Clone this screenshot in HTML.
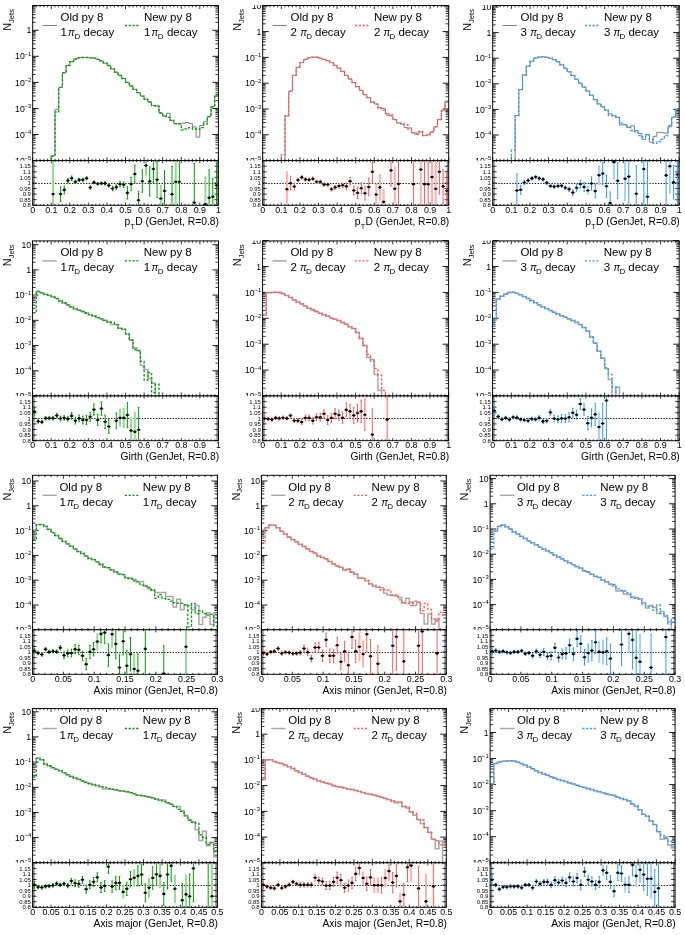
<!DOCTYPE html>
<html><head><meta charset="utf-8"><style>html,body{margin:0;padding:0;background:#fff}svg{display:block;will-change:transform}</style></head>
<body><svg width="685" height="935" viewBox="0 0 685 935" font-family="Liberation Sans, sans-serif" fill="#000">
<defs><clipPath id="cu00"><rect x="32.7" y="5.5" width="185.7" height="155.1"/></clipPath><clipPath id="cl00"><rect x="-7.3" y="5" width="40" height="40"/></clipPath><clipPath id="cu01"><rect x="262.7" y="5.5" width="186" height="155.1"/></clipPath><clipPath id="cl01"><rect x="222.7" y="5" width="40" height="40"/></clipPath><clipPath id="cu02"><rect x="492.7" y="5.5" width="186.5" height="155.1"/></clipPath><clipPath id="cl02"><rect x="452.7" y="5" width="40" height="40"/></clipPath><clipPath id="cu10"><rect x="32.6" y="240.9" width="185.9" height="155.1"/></clipPath><clipPath id="cl10"><rect x="-7.4" y="240.4" width="40" height="40"/></clipPath><clipPath id="cu11"><rect x="262.6" y="240.9" width="186" height="155.1"/></clipPath><clipPath id="cl11"><rect x="222.6" y="240.4" width="40" height="40"/></clipPath><clipPath id="cu12"><rect x="492.6" y="240.9" width="186.6" height="155.1"/></clipPath><clipPath id="cl12"><rect x="452.6" y="240.4" width="40" height="40"/></clipPath><clipPath id="cu20"><rect x="32.6" y="475.3" width="184.8" height="154.5"/></clipPath><clipPath id="cl20"><rect x="-7.4" y="474.8" width="40" height="40"/></clipPath><clipPath id="cu21"><rect x="261.4" y="475.3" width="184.9" height="154.5"/></clipPath><clipPath id="cl21"><rect x="221.4" y="474.8" width="40" height="40"/></clipPath><clipPath id="cu22"><rect x="490.1" y="475.3" width="185" height="154.5"/></clipPath><clipPath id="cl22"><rect x="450.1" y="474.8" width="40" height="40"/></clipPath><clipPath id="cu30"><rect x="32.6" y="708.5" width="184.8" height="154.3"/></clipPath><clipPath id="cl30"><rect x="-7.4" y="708" width="40" height="40"/></clipPath><clipPath id="cu31"><rect x="261.4" y="708.5" width="184.9" height="154.3"/></clipPath><clipPath id="cl31"><rect x="221.4" y="708" width="40" height="40"/></clipPath><clipPath id="cu32"><rect x="490.1" y="708.5" width="185" height="154.3"/></clipPath><clipPath id="cl32"><rect x="450.1" y="708" width="40" height="40"/></clipPath></defs>
<rect width="685" height="935" fill="#fff"/>
<text x="31.3" y="163.7" font-size="8.7" text-anchor="end">10<tspan font-size="5.8" dy="-3.6" dx="-0.3">&#8722;</tspan><tspan font-size="5.8" dx="0.2">5</tspan></text>
<text x="31.3" y="137.6" font-size="8.7" text-anchor="end">10<tspan font-size="5.8" dy="-3.6" dx="-0.3">&#8722;</tspan><tspan font-size="5.8" dx="0.2">4</tspan></text>
<text x="31.3" y="111.6" font-size="8.7" text-anchor="end">10<tspan font-size="5.8" dy="-3.6" dx="-0.3">&#8722;</tspan><tspan font-size="5.8" dx="0.2">3</tspan></text>
<text x="31.3" y="85.5" font-size="8.7" text-anchor="end">10<tspan font-size="5.8" dy="-3.6" dx="-0.3">&#8722;</tspan><tspan font-size="5.8" dx="0.2">2</tspan></text>
<text x="31.3" y="59.4" font-size="8.7" text-anchor="end">10<tspan font-size="5.8" dy="-3.6" dx="-0.3">&#8722;</tspan><tspan font-size="5.8" dx="0.2">1</tspan></text>
<text x="31.3" y="33.4" font-size="8.7" text-anchor="end" >1</text>
<path d="M32.7 160.6h6M218.4 160.6h-6M32.7 134.5h6M218.4 134.5h-6M32.7 108.5h6M218.4 108.5h-6M32.7 82.4h6M218.4 82.4h-6M32.7 56.3h6M218.4 56.3h-6M32.7 30.3h6M218.4 30.3h-6" stroke="#000" stroke-width="0.9" fill="none"/>
<path d="M32.7 152.8h3M218.4 152.8h-3M32.7 148.2h3M218.4 148.2h-3M32.7 144.9h3M218.4 144.9h-3M32.7 142.4h3M218.4 142.4h-3M32.7 140.3h3M218.4 140.3h-3M32.7 138.6h3M218.4 138.6h-3M32.7 137.1h3M218.4 137.1h-3M32.7 135.7h3M218.4 135.7h-3M32.7 126.7h3M218.4 126.7h-3M32.7 122.1h3M218.4 122.1h-3M32.7 118.8h3M218.4 118.8h-3M32.7 116.3h3M218.4 116.3h-3M32.7 114.2h3M218.4 114.2h-3M32.7 112.5h3M218.4 112.5h-3M32.7 111h3M218.4 111h-3M32.7 109.7h3M218.4 109.7h-3M32.7 100.6h3M218.4 100.6h-3M32.7 96h3M218.4 96h-3M32.7 92.8h3M218.4 92.8h-3M32.7 90.2h3M218.4 90.2h-3M32.7 88.2h3M218.4 88.2h-3M32.7 86.4h3M218.4 86.4h-3M32.7 84.9h3M218.4 84.9h-3M32.7 83.6h3M218.4 83.6h-3M32.7 74.6h3M218.4 74.6h-3M32.7 70h3M218.4 70h-3M32.7 66.7h3M218.4 66.7h-3M32.7 64.2h3M218.4 64.2h-3M32.7 62.1h3M218.4 62.1h-3M32.7 60.4h3M218.4 60.4h-3M32.7 58.9h3M218.4 58.9h-3M32.7 57.5h3M218.4 57.5h-3M32.7 48.5h3M218.4 48.5h-3M32.7 43.9h3M218.4 43.9h-3M32.7 40.6h3M218.4 40.6h-3M32.7 38.1h3M218.4 38.1h-3M32.7 36h3M218.4 36h-3M32.7 34.3h3M218.4 34.3h-3M32.7 32.8h3M218.4 32.8h-3M32.7 31.5h3M218.4 31.5h-3M32.7 22.4h3M218.4 22.4h-3M32.7 17.8h3M218.4 17.8h-3M32.7 14.6h3M218.4 14.6h-3M32.7 12h3M218.4 12h-3M32.7 10h3M218.4 10h-3M32.7 8.2h3M218.4 8.2h-3M32.7 6.7h3M218.4 6.7h-3M32.7 5.5v3.5M32.7 160.6v-3.5M36.4 5.5v1.8M36.4 160.6v-1.8M40.1 5.5v1.8M40.1 160.6v-1.8M43.8 5.5v1.8M43.8 160.6v-1.8M47.6 5.5v1.8M47.6 160.6v-1.8M51.3 5.5v3.5M51.3 160.6v-3.5M55 5.5v1.8M55 160.6v-1.8M58.7 5.5v1.8M58.7 160.6v-1.8M62.4 5.5v1.8M62.4 160.6v-1.8M66.1 5.5v1.8M66.1 160.6v-1.8M69.8 5.5v3.5M69.8 160.6v-3.5M73.6 5.5v1.8M73.6 160.6v-1.8M77.3 5.5v1.8M77.3 160.6v-1.8M81 5.5v1.8M81 160.6v-1.8M84.7 5.5v1.8M84.7 160.6v-1.8M88.4 5.5v3.5M88.4 160.6v-3.5M92.1 5.5v1.8M92.1 160.6v-1.8M95.8 5.5v1.8M95.8 160.6v-1.8M99.6 5.5v1.8M99.6 160.6v-1.8M103.3 5.5v1.8M103.3 160.6v-1.8M107 5.5v3.5M107 160.6v-3.5M110.7 5.5v1.8M110.7 160.6v-1.8M114.4 5.5v1.8M114.4 160.6v-1.8M118.1 5.5v1.8M118.1 160.6v-1.8M121.8 5.5v1.8M121.8 160.6v-1.8M125.5 5.5v3.5M125.5 160.6v-3.5M129.3 5.5v1.8M129.3 160.6v-1.8M133 5.5v1.8M133 160.6v-1.8M136.7 5.5v1.8M136.7 160.6v-1.8M140.4 5.5v1.8M140.4 160.6v-1.8M144.1 5.5v3.5M144.1 160.6v-3.5M147.8 5.5v1.8M147.8 160.6v-1.8M151.5 5.5v1.8M151.5 160.6v-1.8M155.3 5.5v1.8M155.3 160.6v-1.8M159 5.5v1.8M159 160.6v-1.8M162.7 5.5v3.5M162.7 160.6v-3.5M166.4 5.5v1.8M166.4 160.6v-1.8M170.1 5.5v1.8M170.1 160.6v-1.8M173.8 5.5v1.8M173.8 160.6v-1.8M177.5 5.5v1.8M177.5 160.6v-1.8M181.3 5.5v3.5M181.3 160.6v-3.5M185 5.5v1.8M185 160.6v-1.8M188.7 5.5v1.8M188.7 160.6v-1.8M192.4 5.5v1.8M192.4 160.6v-1.8M196.1 5.5v1.8M196.1 160.6v-1.8M199.8 5.5v3.5M199.8 160.6v-3.5M203.5 5.5v1.8M203.5 160.6v-1.8M207.3 5.5v1.8M207.3 160.6v-1.8M211 5.5v1.8M211 160.6v-1.8M214.7 5.5v1.8M214.7 160.6v-1.8M218.4 5.5v3.5M218.4 160.6v-3.5" stroke="#000" stroke-width="0.8" fill="none"/>
<path d="M32.7,163.6L36.4,163.6L36.4,163.6L40.1,163.6L40.1,163.6L43.8,163.6L43.8,163.6L47.6,163.6L47.6,163.6L51.3,163.6L51.3,156L55,156L55,109.3L58.7,109.3L58.7,87.4L62.4,87.4L62.4,72.8L66.1,72.8L66.1,65.5L69.8,65.5L69.8,61.6L73.6,61.6L73.6,59L77.3,59L77.3,57.8L81,57.8L81,57.5L84.7,57.5L84.7,57.5L88.4,57.5L88.4,57.8L92.1,57.8L92.1,58.2L95.8,58.2L95.8,59.3L99.6,59.3L99.6,60.9L103.3,60.9L103.3,63.1L107,63.1L107,65.5L110.7,65.5L110.7,68.8L114.4,68.8L114.4,72.1L118.1,72.1L118.1,75.5L121.8,75.5L121.8,78.5L125.5,78.5L125.5,82.3L129.3,82.3L129.3,86L133,86L133,89.3L136.7,89.3L136.7,92.6L140.4,92.6L140.4,96.2L144.1,96.2L144.1,99.1L147.8,99.1L147.8,102L151.5,102L151.5,105.7L155.3,105.7L155.3,106L159,106L159,113L162.7,113L162.7,116.2L166.4,116.2L166.4,113.3L170.1,113.3L170.1,120.3L173.8,120.3L173.8,123.6L177.5,123.6L177.5,123.9L181.3,123.9L181.3,123.2L185,123.2L185,122.5L188.7,122.5L188.7,123.5L192.4,123.5L192.4,126.9L196.1,126.9L196.1,137.1L199.8,137.1L199.8,125.4L203.5,125.4L203.5,121.8L207.3,121.8L207.3,116.6L211,116.6L211,106.4L214.7,106.4L214.7,96.2L218.4,96.2" fill="none" stroke="#808080" stroke-width="1.0"  clip-path="url(#cu00)"/>
<path d="M32.7,163.6L36.4,163.6L36.4,163.6L40.1,163.6L40.1,163.6L43.8,163.6L43.8,163.6L47.6,163.6L47.6,163.6L51.3,163.6L51.3,156L55,156L55,112L58.7,112L58.7,87.4L62.4,87.4L62.4,72.8L66.1,72.8L66.1,65.5L69.8,65.5L69.8,61.6L73.6,61.6L73.6,59L77.3,59L77.3,57.8L81,57.8L81,57.5L84.7,57.5L84.7,57.5L88.4,57.5L88.4,57.8L92.1,57.8L92.1,58.2L95.8,58.2L95.8,59.3L99.6,59.3L99.6,60.9L103.3,60.9L103.3,63.1L107,63.1L107,65.5L110.7,65.5L110.7,68.8L114.4,68.8L114.4,72.1L118.1,72.1L118.1,75.5L121.8,75.5L121.8,78.5L125.5,78.5L125.5,82.3L129.3,82.3L129.3,86L133,86L133,89.3L136.7,89.3L136.7,92.6L140.4,92.6L140.4,96.2L144.1,96.2L144.1,99.1L147.8,99.1L147.8,102L151.5,102L151.5,105.7L155.3,105.7L155.3,106L159,106L159,113L162.7,113L162.7,116.2L166.4,116.2L166.4,117.4L170.1,117.4L170.1,120.3L173.8,120.3L173.8,123.6L177.5,123.6L177.5,123.9L181.3,123.9L181.3,129.8L185,129.8L185,128.8L188.7,128.8L188.7,127.6L192.4,127.6L192.4,129L196.1,129L196.1,129.3L199.8,129.3L199.8,127.6L203.5,127.6L203.5,124L207.3,124L207.3,116.6L211,116.6L211,107L214.7,107L214.7,94.7L218.4,94.7" fill="none" stroke="#00a000" stroke-width="1.3" stroke-dasharray="2.6 1.7" clip-path="url(#cu00)"/>
<rect x="32.7" y="5.5" width="185.7" height="155.1" fill="none" stroke="#000" stroke-width="0.95"/>
<text x="60.5" y="20.7" font-size="11.5" text-anchor="start" >Old py 8</text>
<line x1="124.9" y1="25.5" x2="140.1" y2="25.5" stroke="#00a000" stroke-width="1.3" stroke-dasharray="2.2 1.6"/>
<text x="143.9" y="20.7" font-size="11.5" text-anchor="start" >New py 8</text>
<text x="60.5" y="35.7" font-size="11.5">1</text>
<text x="68.1" y="35.7" font-size="10" font-style="italic">&#960;</text>
<text x="74.4" y="38.9" font-size="8">D</text>
<text x="83.5" y="35.7" font-size="11.5">decay</text>
<text x="143.9" y="35.7" font-size="11.5">1</text>
<text x="151.5" y="35.7" font-size="10" font-style="italic">&#960;</text>
<text x="157.8" y="38.9" font-size="8">D</text>
<text x="166.9" y="35.7" font-size="11.5">decay</text>
<text transform="translate(11,30.8) rotate(-90)" font-size="10.9">N<tspan font-size="7.6" dy="2.6">Jets</tspan></text>
<path d="M42.5 25.5h14.4" stroke="#808080" stroke-width="1.0" fill="none"/>
<rect x="-7.3" y="160.6" width="230.7" height="45.3" fill="#fff"/>
<text x="30.9" y="207.4" font-size="5.9" text-anchor="end" >0.8</text>
<text x="30.9" y="201.8" font-size="5.9" text-anchor="end" >0.85</text>
<text x="30.9" y="196.2" font-size="5.9" text-anchor="end" >0.9</text>
<text x="30.9" y="190.6" font-size="5.9" text-anchor="end" >0.95</text>
<text x="30.9" y="185.1" font-size="5.9" text-anchor="end" >1</text>
<text x="30.9" y="179.5" font-size="5.9" text-anchor="end" >1.05</text>
<text x="30.9" y="173.9" font-size="5.9" text-anchor="end" >1.1</text>
<text x="30.9" y="168.3" font-size="5.9" text-anchor="end" >1.15</text>
<path d="M34 160.6V205.3M217.1 160.6V205.3" stroke="#8a8a8a" stroke-width="1.6" fill="none"/>
<text x="32.7" y="212.6" font-size="8.9" text-anchor="middle" >0</text>
<text x="51.3" y="212.6" font-size="8.9" text-anchor="middle" >0.1</text>
<text x="69.8" y="212.6" font-size="8.9" text-anchor="middle" >0.2</text>
<text x="88.4" y="212.6" font-size="8.9" text-anchor="middle" >0.3</text>
<text x="107" y="212.6" font-size="8.9" text-anchor="middle" >0.4</text>
<text x="125.5" y="212.6" font-size="8.9" text-anchor="middle" >0.5</text>
<text x="144.1" y="212.6" font-size="8.9" text-anchor="middle" >0.6</text>
<text x="162.7" y="212.6" font-size="8.9" text-anchor="middle" >0.7</text>
<text x="181.3" y="212.6" font-size="8.9" text-anchor="middle" >0.8</text>
<text x="199.8" y="212.6" font-size="8.9" text-anchor="middle" >0.9</text>
<text x="218.4" y="212.6" font-size="8.9" text-anchor="middle" >1</text>
<line x1="32.7" y1="183.5" x2="218.4" y2="183.5" stroke="#000" stroke-width="0.9" stroke-dasharray="1.4 1.4"/>
<path d="M32.7 205.3h4M218.4 205.3h-4M32.7 199.7h4M218.4 199.7h-4M32.7 194.1h4M218.4 194.1h-4M32.7 188.5h4M218.4 188.5h-4M32.7 183h4M218.4 183h-4M32.7 177.4h4M218.4 177.4h-4M32.7 171.8h4M218.4 171.8h-4M32.7 166.2h4M218.4 166.2h-4M32.7 160.6h4M218.4 160.6h-4M32.7 160.6v2.6M32.7 205.3v-2.6M36.4 160.6v1.4M36.4 205.3v-1.4M40.1 160.6v1.4M40.1 205.3v-1.4M43.8 160.6v1.4M43.8 205.3v-1.4M47.6 160.6v1.4M47.6 205.3v-1.4M51.3 160.6v2.6M51.3 205.3v-2.6M55 160.6v1.4M55 205.3v-1.4M58.7 160.6v1.4M58.7 205.3v-1.4M62.4 160.6v1.4M62.4 205.3v-1.4M66.1 160.6v1.4M66.1 205.3v-1.4M69.8 160.6v2.6M69.8 205.3v-2.6M73.6 160.6v1.4M73.6 205.3v-1.4M77.3 160.6v1.4M77.3 205.3v-1.4M81 160.6v1.4M81 205.3v-1.4M84.7 160.6v1.4M84.7 205.3v-1.4M88.4 160.6v2.6M88.4 205.3v-2.6M92.1 160.6v1.4M92.1 205.3v-1.4M95.8 160.6v1.4M95.8 205.3v-1.4M99.6 160.6v1.4M99.6 205.3v-1.4M103.3 160.6v1.4M103.3 205.3v-1.4M107 160.6v2.6M107 205.3v-2.6M110.7 160.6v1.4M110.7 205.3v-1.4M114.4 160.6v1.4M114.4 205.3v-1.4M118.1 160.6v1.4M118.1 205.3v-1.4M121.8 160.6v1.4M121.8 205.3v-1.4M125.5 160.6v2.6M125.5 205.3v-2.6M129.3 160.6v1.4M129.3 205.3v-1.4M133 160.6v1.4M133 205.3v-1.4M136.7 160.6v1.4M136.7 205.3v-1.4M140.4 160.6v1.4M140.4 205.3v-1.4M144.1 160.6v2.6M144.1 205.3v-2.6M147.8 160.6v1.4M147.8 205.3v-1.4M151.5 160.6v1.4M151.5 205.3v-1.4M155.3 160.6v1.4M155.3 205.3v-1.4M159 160.6v1.4M159 205.3v-1.4M162.7 160.6v2.6M162.7 205.3v-2.6M166.4 160.6v1.4M166.4 205.3v-1.4M170.1 160.6v1.4M170.1 205.3v-1.4M173.8 160.6v1.4M173.8 205.3v-1.4M177.5 160.6v1.4M177.5 205.3v-1.4M181.3 160.6v2.6M181.3 205.3v-2.6M185 160.6v1.4M185 205.3v-1.4M188.7 160.6v1.4M188.7 205.3v-1.4M192.4 160.6v1.4M192.4 205.3v-1.4M196.1 160.6v1.4M196.1 205.3v-1.4M199.8 160.6v2.6M199.8 205.3v-2.6M203.5 160.6v1.4M203.5 205.3v-1.4M207.3 160.6v1.4M207.3 205.3v-1.4M211 160.6v1.4M211 205.3v-1.4M214.7 160.6v1.4M214.7 205.3v-1.4M218.4 160.6v2.6M218.4 205.3v-2.6" stroke="#000" stroke-width="0.8" fill="none"/>
<path d="M53.1 161.2V204.7M146 161.2V175.6M160.8 185.1V204.7M175.7 161.2V204.7M205.4 176.2V204.7" stroke="#9ad89a" stroke-width="2" fill="none"/>
<path d="M60.6 186.9V201.4M59.8 186.9h1.6M59.8 201.4h1.6M64.3 186V193.8M63.5 186h1.6M63.5 193.8h1.6M68 178.4V182.8M67.2 178.4h1.6M67.2 182.8h1.6M71.7 176V180.5M70.9 176h1.6M70.9 180.5h1.6M75.4 180.3V183.6M74.6 180.3h1.6M74.6 183.6h1.6M79.1 178.3V181.6M78.3 178.3h1.6M78.3 181.6h1.6M82.8 178.3V181.6M82 178.3h1.6M82 181.6h1.6M86.6 176.6V179.9M85.8 176.6h1.6M85.8 179.9h1.6M90.3 185.9V189.2M89.5 185.9h1.6M89.5 189.2h1.6M94 181.1V183.7M93.2 181.1h1.6M93.2 183.7h1.6M97.7 182.4V185.1M96.9 182.4h1.6M96.9 185.1h1.6M101.4 182.1V184.7M100.6 182.1h1.6M100.6 184.7h1.6M105.1 181.7V185.1M104.3 181.7h1.6M104.3 185.1h1.6M108.8 183.7V187.1M108 183.7h1.6M108 187.1h1.6M112.6 186.3V190.8M111.8 186.3h1.6M111.8 190.8h1.6M116.3 184.8V189.3M115.5 184.8h1.6M115.5 189.3h1.6M120 181.3V186.9M119.2 181.3h1.6M119.2 186.9h1.6M123.7 181.9V187.5M122.9 181.9h1.6M122.9 187.5h1.6M127.4 186.7V199M126.6 186.7h1.6M126.6 199h1.6M131.1 177.3V190.7M130.3 177.3h1.6M130.3 190.7h1.6M134.8 165.1V183M134 165.1h1.6M134 183h1.6M138.5 191.3V204.7M137.7 191.3h1.6M142.3 170V192.3M141.5 170h1.6M141.5 192.3h1.6M149.7 166.9V195.9M148.9 166.9h1.6M148.9 195.9h1.6M153.4 161.2V182.4M152.6 182.4h1.6M157.1 161.8V197.6M156.3 161.8h1.6M156.3 197.6h1.6M164.5 170.8V204.7M163.7 170.8h1.6M172 166.4V204.7M171.2 166.4h1.6M179.4 161.2V204.7M194.3 163.5V204.7M193.5 163.5h1.6M209.1 169.9V204.7M208.3 169.9h1.6M212.8 178.8V204.7M212 178.8h1.6M216.5 162.9V204.7M215.7 162.9h1.6" stroke="#00a000" stroke-width="1" fill="none"/>
<path d="M51.3 194.1h3.7M58.7 194.1h3.7M62.4 189.9h3.7M66.1 180.6h3.7M69.8 178.3h3.7M73.6 181.9h3.7M77.3 179.9h3.7M81 179.9h3.7M84.7 178.3h3.7M88.4 187.5h3.7M92.1 182.4h3.7M95.8 183.7h3.7M99.6 183.4h3.7M103.3 183.4h3.7M107 185.4h3.7M110.7 188.5h3.7M114.4 187.1h3.7M118.1 184.1h3.7M121.8 184.7h3.7M125.5 192.9h3.7M129.3 184h3.7M133 174h3.7M136.7 200.3h3.7M140.4 181.2h3.7M144.1 165.5h3.7M147.8 181.4h3.7M151.5 169h3.7M155.3 179.7h3.7M159 198.5h3.7M162.7 190.9h3.7M170.1 194.3h3.7M173.8 181.8h3.7M177.5 181.8h3.7M192.4 202.6h3.7M203.5 204.2h3.7M207.3 197.8h3.7M211 196.7h3.7M214.7 185.3h3.7" stroke="#000" stroke-width="0.9" fill="none"/>
<circle cx="53.1" cy="194.1" r="1.3"/>
<circle cx="60.6" cy="194.1" r="1.3"/>
<circle cx="64.3" cy="189.9" r="1.3"/>
<circle cx="68" cy="180.6" r="1.3"/>
<circle cx="71.7" cy="178.3" r="1.3"/>
<circle cx="75.4" cy="181.9" r="1.3"/>
<circle cx="79.1" cy="179.9" r="1.3"/>
<circle cx="82.8" cy="179.9" r="1.3"/>
<circle cx="86.6" cy="178.3" r="1.3"/>
<circle cx="90.3" cy="187.5" r="1.3"/>
<circle cx="94" cy="182.4" r="1.3"/>
<circle cx="97.7" cy="183.7" r="1.3"/>
<circle cx="101.4" cy="183.4" r="1.3"/>
<circle cx="105.1" cy="183.4" r="1.3"/>
<circle cx="108.8" cy="185.4" r="1.3"/>
<circle cx="112.6" cy="188.5" r="1.3"/>
<circle cx="116.3" cy="187.1" r="1.3"/>
<circle cx="120" cy="184.1" r="1.3"/>
<circle cx="123.7" cy="184.7" r="1.3"/>
<circle cx="127.4" cy="192.9" r="1.3"/>
<circle cx="131.1" cy="184" r="1.3"/>
<circle cx="134.8" cy="174" r="1.3"/>
<circle cx="138.5" cy="200.3" r="1.3"/>
<circle cx="142.3" cy="181.2" r="1.3"/>
<circle cx="146" cy="165.5" r="1.3"/>
<circle cx="149.7" cy="181.4" r="1.3"/>
<circle cx="153.4" cy="169" r="1.3"/>
<circle cx="157.1" cy="179.7" r="1.3"/>
<circle cx="160.8" cy="198.5" r="1.3"/>
<circle cx="164.5" cy="190.9" r="1.3"/>
<circle cx="172" cy="194.3" r="1.3"/>
<circle cx="175.7" cy="181.8" r="1.3"/>
<circle cx="179.4" cy="181.8" r="1.3"/>
<circle cx="194.3" cy="202.6" r="1.3"/>
<circle cx="205.4" cy="204.2" r="1.3"/>
<circle cx="209.1" cy="197.8" r="1.3"/>
<circle cx="212.8" cy="196.7" r="1.3"/>
<circle cx="216.5" cy="185.3" r="1.3"/>
<rect x="32.7" y="160.6" width="185.7" height="44.7" fill="none" stroke="#000" stroke-width="0.95"/>
<text x="219" y="224.6" font-size="10.3" text-anchor="end">D (GenJet, R=0.8)</text>
<text x="134.8" y="229.2" font-size="7.2" text-anchor="end">T</text>
<text x="130.2" y="224.6" font-size="10.3" text-anchor="end">p</text>
<text x="261.3" y="163.7" font-size="8.7" text-anchor="end">10<tspan font-size="5.8" dy="-3.6" dx="-0.3">&#8722;</tspan><tspan font-size="5.8" dx="0.2">5</tspan></text>
<text x="261.3" y="137.9" font-size="8.7" text-anchor="end">10<tspan font-size="5.8" dy="-3.6" dx="-0.3">&#8722;</tspan><tspan font-size="5.8" dx="0.2">4</tspan></text>
<text x="261.3" y="112.1" font-size="8.7" text-anchor="end">10<tspan font-size="5.8" dy="-3.6" dx="-0.3">&#8722;</tspan><tspan font-size="5.8" dx="0.2">3</tspan></text>
<text x="261.3" y="86.3" font-size="8.7" text-anchor="end">10<tspan font-size="5.8" dy="-3.6" dx="-0.3">&#8722;</tspan><tspan font-size="5.8" dx="0.2">2</tspan></text>
<text x="261.3" y="60.5" font-size="8.7" text-anchor="end">10<tspan font-size="5.8" dy="-3.6" dx="-0.3">&#8722;</tspan><tspan font-size="5.8" dx="0.2">1</tspan></text>
<text x="261.3" y="34.7" font-size="8.7" text-anchor="end" >1</text>
<text x="261.3" y="8.9" font-size="8.7" text-anchor="end" clip-path="url(#cl01)">10</text>
<path d="M262.7 160.6h6M448.7 160.6h-6M262.7 134.8h6M448.7 134.8h-6M262.7 109h6M448.7 109h-6M262.7 83.2h6M448.7 83.2h-6M262.7 57.4h6M448.7 57.4h-6M262.7 31.6h6M448.7 31.6h-6M262.7 5.8h6M448.7 5.8h-6" stroke="#000" stroke-width="0.9" fill="none"/>
<path d="M262.7 152.8h3M448.7 152.8h-3M262.7 148.3h3M448.7 148.3h-3M262.7 145.1h3M448.7 145.1h-3M262.7 142.6h3M448.7 142.6h-3M262.7 140.5h3M448.7 140.5h-3M262.7 138.8h3M448.7 138.8h-3M262.7 137.3h3M448.7 137.3h-3M262.7 136h3M448.7 136h-3M262.7 127h3M448.7 127h-3M262.7 122.5h3M448.7 122.5h-3M262.7 119.3h3M448.7 119.3h-3M262.7 116.8h3M448.7 116.8h-3M262.7 114.7h3M448.7 114.7h-3M262.7 113h3M448.7 113h-3M262.7 111.5h3M448.7 111.5h-3M262.7 110.2h3M448.7 110.2h-3M262.7 101.2h3M448.7 101.2h-3M262.7 96.7h3M448.7 96.7h-3M262.7 93.4h3M448.7 93.4h-3M262.7 90.9h3M448.7 90.9h-3M262.7 88.9h3M448.7 88.9h-3M262.7 87.2h3M448.7 87.2h-3M262.7 85.7h3M448.7 85.7h-3M262.7 84.4h3M448.7 84.4h-3M262.7 75.4h3M448.7 75.4h-3M262.7 70.9h3M448.7 70.9h-3M262.7 67.6h3M448.7 67.6h-3M262.7 65.1h3M448.7 65.1h-3M262.7 63.1h3M448.7 63.1h-3M262.7 61.4h3M448.7 61.4h-3M262.7 59.9h3M448.7 59.9h-3M262.7 58.6h3M448.7 58.6h-3M262.7 49.6h3M448.7 49.6h-3M262.7 45.1h3M448.7 45.1h-3M262.7 41.8h3M448.7 41.8h-3M262.7 39.3h3M448.7 39.3h-3M262.7 37.3h3M448.7 37.3h-3M262.7 35.6h3M448.7 35.6h-3M262.7 34.1h3M448.7 34.1h-3M262.7 32.7h3M448.7 32.7h-3M262.7 23.8h3M448.7 23.8h-3M262.7 19.3h3M448.7 19.3h-3M262.7 16h3M448.7 16h-3M262.7 13.5h3M448.7 13.5h-3M262.7 11.5h3M448.7 11.5h-3M262.7 9.8h3M448.7 9.8h-3M262.7 8.3h3M448.7 8.3h-3M262.7 6.9h3M448.7 6.9h-3M262.7 5.5v3.5M262.7 160.6v-3.5M266.4 5.5v1.8M266.4 160.6v-1.8M270.1 5.5v1.8M270.1 160.6v-1.8M273.9 5.5v1.8M273.9 160.6v-1.8M277.6 5.5v1.8M277.6 160.6v-1.8M281.3 5.5v3.5M281.3 160.6v-3.5M285 5.5v1.8M285 160.6v-1.8M288.7 5.5v1.8M288.7 160.6v-1.8M292.5 5.5v1.8M292.5 160.6v-1.8M296.2 5.5v1.8M296.2 160.6v-1.8M299.9 5.5v3.5M299.9 160.6v-3.5M303.6 5.5v1.8M303.6 160.6v-1.8M307.3 5.5v1.8M307.3 160.6v-1.8M311.1 5.5v1.8M311.1 160.6v-1.8M314.8 5.5v1.8M314.8 160.6v-1.8M318.5 5.5v3.5M318.5 160.6v-3.5M322.2 5.5v1.8M322.2 160.6v-1.8M325.9 5.5v1.8M325.9 160.6v-1.8M329.7 5.5v1.8M329.7 160.6v-1.8M333.4 5.5v1.8M333.4 160.6v-1.8M337.1 5.5v3.5M337.1 160.6v-3.5M340.8 5.5v1.8M340.8 160.6v-1.8M344.5 5.5v1.8M344.5 160.6v-1.8M348.3 5.5v1.8M348.3 160.6v-1.8M352 5.5v1.8M352 160.6v-1.8M355.7 5.5v3.5M355.7 160.6v-3.5M359.4 5.5v1.8M359.4 160.6v-1.8M363.1 5.5v1.8M363.1 160.6v-1.8M366.9 5.5v1.8M366.9 160.6v-1.8M370.6 5.5v1.8M370.6 160.6v-1.8M374.3 5.5v3.5M374.3 160.6v-3.5M378 5.5v1.8M378 160.6v-1.8M381.7 5.5v1.8M381.7 160.6v-1.8M385.5 5.5v1.8M385.5 160.6v-1.8M389.2 5.5v1.8M389.2 160.6v-1.8M392.9 5.5v3.5M392.9 160.6v-3.5M396.6 5.5v1.8M396.6 160.6v-1.8M400.3 5.5v1.8M400.3 160.6v-1.8M404.1 5.5v1.8M404.1 160.6v-1.8M407.8 5.5v1.8M407.8 160.6v-1.8M411.5 5.5v3.5M411.5 160.6v-3.5M415.2 5.5v1.8M415.2 160.6v-1.8M418.9 5.5v1.8M418.9 160.6v-1.8M422.7 5.5v1.8M422.7 160.6v-1.8M426.4 5.5v1.8M426.4 160.6v-1.8M430.1 5.5v3.5M430.1 160.6v-3.5M433.8 5.5v1.8M433.8 160.6v-1.8M437.5 5.5v1.8M437.5 160.6v-1.8M441.3 5.5v1.8M441.3 160.6v-1.8M445 5.5v1.8M445 160.6v-1.8M448.7 5.5v3.5M448.7 160.6v-3.5" stroke="#000" stroke-width="0.8" fill="none"/>
<path d="M262.7,163.6L266.4,163.6L266.4,163.6L270.1,163.6L270.1,163.6L273.9,163.6L273.9,163.6L277.6,163.6L277.6,163.6L281.3,163.6L281.3,163.6L285,163.6L285,115.9L288.7,115.9L288.7,91.1L292.5,91.1L292.5,75.3L296.2,75.3L296.2,67.4L299.9,67.4L299.9,62.6L303.6,62.6L303.6,59.4L307.3,59.4L307.3,57.8L311.1,57.8L311.1,57.2L314.8,57.2L314.8,57.2L318.5,57.2L318.5,58.2L322.2,58.2L322.2,59.3L325.9,59.3L325.9,60.7L329.7,60.7L329.7,62.6L333.4,62.6L333.4,65.3L337.1,65.3L337.1,68.2L340.8,68.2L340.8,71.4L344.5,71.4L344.5,75.3L348.3,75.3L348.3,79.1L352,79.1L352,82.6L355.7,82.6L355.7,86.6L359.4,86.6L359.4,90.4L363.1,90.4L363.1,94.7L366.9,94.7L366.9,97.7L370.6,97.7L370.6,102L374.3,102L374.3,104L378,104L378,107.6L381.7,107.6L381.7,108.6L385.5,108.6L385.5,113.7L389.2,113.7L389.2,115.9L392.9,115.9L392.9,119.6L396.6,119.6L396.6,122.9L400.3,122.9L400.3,124.2L404.1,124.2L404.1,127.6L407.8,127.6L407.8,127.9L411.5,127.9L411.5,132.7L415.2,132.7L415.2,134.6L418.9,134.6L418.9,132L422.7,132L422.7,135.6L426.4,135.6L426.4,134.9L430.1,134.9L430.1,132L433.8,132L433.8,126.9L437.5,126.9L437.5,119.6L441.3,119.6L441.3,110.1L445,110.1L445,102L448.7,102" fill="none" stroke="#808080" stroke-width="1.0"  clip-path="url(#cu01)"/>
<path d="M262.7,163.6L266.4,163.6L266.4,163.6L270.1,163.6L270.1,163.6L273.9,163.6L273.9,163.6L277.6,163.6L277.6,163.6L281.3,163.6L281.3,154.6L285,154.6L285,115.9L288.7,115.9L288.7,91.1L292.5,91.1L292.5,75.3L296.2,75.3L296.2,67.4L299.9,67.4L299.9,62.6L303.6,62.6L303.6,59.4L307.3,59.4L307.3,57.8L311.1,57.8L311.1,57.2L314.8,57.2L314.8,57.2L318.5,57.2L318.5,58.2L322.2,58.2L322.2,59.3L325.9,59.3L325.9,60.7L329.7,60.7L329.7,62.6L333.4,62.6L333.4,65.3L337.1,65.3L337.1,68.2L340.8,68.2L340.8,71.4L344.5,71.4L344.5,75.3L348.3,75.3L348.3,79.1L352,79.1L352,82.6L355.7,82.6L355.7,86.6L359.4,86.6L359.4,90.4L363.1,90.4L363.1,94.7L366.9,94.7L366.9,97.7L370.6,97.7L370.6,102L374.3,102L374.3,104.2L378,104.2L378,108.6L381.7,108.6L381.7,110.3L385.5,110.3L385.5,115.2L389.2,115.2L389.2,115L392.9,115L392.9,119.6L396.6,119.6L396.6,122.9L400.3,122.9L400.3,123.2L404.1,123.2L404.1,124.7L407.8,124.7L407.8,129L411.5,129L411.5,132.7L415.2,132.7L415.2,133.2L418.9,133.2L418.9,131.2L422.7,131.2L422.7,135.6L426.4,135.6L426.4,134.9L430.1,134.9L430.1,132L433.8,132L433.8,126.9L437.5,126.9L437.5,119.6L441.3,119.6L441.3,111.2L445,111.2L445,102L448.7,102" fill="none" stroke="#ff5a5a" stroke-width="1.3" stroke-dasharray="2.6 1.7" clip-path="url(#cu01)"/>
<rect x="262.7" y="5.5" width="186" height="155.1" fill="none" stroke="#000" stroke-width="0.95"/>
<text x="290.5" y="20.7" font-size="11.5" text-anchor="start" >Old py 8</text>
<line x1="354.9" y1="25.5" x2="370.1" y2="25.5" stroke="#ff5a5a" stroke-width="1.3" stroke-dasharray="2.2 1.6"/>
<text x="373.9" y="20.7" font-size="11.5" text-anchor="start" >New py 8</text>
<text x="290.5" y="35.7" font-size="11.5">2</text>
<text x="300.2" y="35.7" font-size="10" font-style="italic">&#960;</text>
<text x="306.2" y="38.9" font-size="8">D</text>
<text x="315" y="35.7" font-size="11.5">decay</text>
<text x="373.9" y="35.7" font-size="11.5">2</text>
<text x="383.6" y="35.7" font-size="10" font-style="italic">&#960;</text>
<text x="389.6" y="38.9" font-size="8">D</text>
<text x="398.4" y="35.7" font-size="11.5">decay</text>
<text transform="translate(241,30.8) rotate(-90)" font-size="10.9">N<tspan font-size="7.6" dy="2.6">Jets</tspan></text>
<path d="M272.5 25.5h14.4" stroke="#808080" stroke-width="1.0" fill="none"/>
<rect x="222.7" y="160.6" width="231" height="45.3" fill="#fff"/>
<text x="260.9" y="207.4" font-size="5.9" text-anchor="end" >0.8</text>
<text x="260.9" y="201.8" font-size="5.9" text-anchor="end" >0.85</text>
<text x="260.9" y="196.2" font-size="5.9" text-anchor="end" >0.9</text>
<text x="260.9" y="190.6" font-size="5.9" text-anchor="end" >0.95</text>
<text x="260.9" y="185.1" font-size="5.9" text-anchor="end" >1</text>
<text x="260.9" y="179.5" font-size="5.9" text-anchor="end" >1.05</text>
<text x="260.9" y="173.9" font-size="5.9" text-anchor="end" >1.1</text>
<text x="260.9" y="168.3" font-size="5.9" text-anchor="end" >1.15</text>
<path d="M264 160.6V205.3M447.4 160.6V205.3" stroke="#8a8a8a" stroke-width="1.6" fill="none"/>
<text x="262.7" y="212.6" font-size="8.9" text-anchor="middle" >0</text>
<text x="281.3" y="212.6" font-size="8.9" text-anchor="middle" >0.1</text>
<text x="299.9" y="212.6" font-size="8.9" text-anchor="middle" >0.2</text>
<text x="318.5" y="212.6" font-size="8.9" text-anchor="middle" >0.3</text>
<text x="337.1" y="212.6" font-size="8.9" text-anchor="middle" >0.4</text>
<text x="355.7" y="212.6" font-size="8.9" text-anchor="middle" >0.5</text>
<text x="374.3" y="212.6" font-size="8.9" text-anchor="middle" >0.6</text>
<text x="392.9" y="212.6" font-size="8.9" text-anchor="middle" >0.7</text>
<text x="411.5" y="212.6" font-size="8.9" text-anchor="middle" >0.8</text>
<text x="430.1" y="212.6" font-size="8.9" text-anchor="middle" >0.9</text>
<text x="448.7" y="212.6" font-size="8.9" text-anchor="middle" >1</text>
<line x1="262.7" y1="183.5" x2="448.7" y2="183.5" stroke="#000" stroke-width="0.9" stroke-dasharray="1.4 1.4"/>
<path d="M262.7 205.3h4M448.7 205.3h-4M262.7 199.7h4M448.7 199.7h-4M262.7 194.1h4M448.7 194.1h-4M262.7 188.5h4M448.7 188.5h-4M262.7 183h4M448.7 183h-4M262.7 177.4h4M448.7 177.4h-4M262.7 171.8h4M448.7 171.8h-4M262.7 166.2h4M448.7 166.2h-4M262.7 160.6h4M448.7 160.6h-4M262.7 160.6v2.6M262.7 205.3v-2.6M266.4 160.6v1.4M266.4 205.3v-1.4M270.1 160.6v1.4M270.1 205.3v-1.4M273.9 160.6v1.4M273.9 205.3v-1.4M277.6 160.6v1.4M277.6 205.3v-1.4M281.3 160.6v2.6M281.3 205.3v-2.6M285 160.6v1.4M285 205.3v-1.4M288.7 160.6v1.4M288.7 205.3v-1.4M292.5 160.6v1.4M292.5 205.3v-1.4M296.2 160.6v1.4M296.2 205.3v-1.4M299.9 160.6v2.6M299.9 205.3v-2.6M303.6 160.6v1.4M303.6 205.3v-1.4M307.3 160.6v1.4M307.3 205.3v-1.4M311.1 160.6v1.4M311.1 205.3v-1.4M314.8 160.6v1.4M314.8 205.3v-1.4M318.5 160.6v2.6M318.5 205.3v-2.6M322.2 160.6v1.4M322.2 205.3v-1.4M325.9 160.6v1.4M325.9 205.3v-1.4M329.7 160.6v1.4M329.7 205.3v-1.4M333.4 160.6v1.4M333.4 205.3v-1.4M337.1 160.6v2.6M337.1 205.3v-2.6M340.8 160.6v1.4M340.8 205.3v-1.4M344.5 160.6v1.4M344.5 205.3v-1.4M348.3 160.6v1.4M348.3 205.3v-1.4M352 160.6v1.4M352 205.3v-1.4M355.7 160.6v2.6M355.7 205.3v-2.6M359.4 160.6v1.4M359.4 205.3v-1.4M363.1 160.6v1.4M363.1 205.3v-1.4M366.9 160.6v1.4M366.9 205.3v-1.4M370.6 160.6v1.4M370.6 205.3v-1.4M374.3 160.6v2.6M374.3 205.3v-2.6M378 160.6v1.4M378 205.3v-1.4M381.7 160.6v1.4M381.7 205.3v-1.4M385.5 160.6v1.4M385.5 205.3v-1.4M389.2 160.6v1.4M389.2 205.3v-1.4M392.9 160.6v2.6M392.9 205.3v-2.6M396.6 160.6v1.4M396.6 205.3v-1.4M400.3 160.6v1.4M400.3 205.3v-1.4M404.1 160.6v1.4M404.1 205.3v-1.4M407.8 160.6v1.4M407.8 205.3v-1.4M411.5 160.6v2.6M411.5 205.3v-2.6M415.2 160.6v1.4M415.2 205.3v-1.4M418.9 160.6v1.4M418.9 205.3v-1.4M422.7 160.6v1.4M422.7 205.3v-1.4M426.4 160.6v1.4M426.4 205.3v-1.4M430.1 160.6v2.6M430.1 205.3v-2.6M433.8 160.6v1.4M433.8 205.3v-1.4M437.5 160.6v1.4M437.5 205.3v-1.4M441.3 160.6v1.4M441.3 205.3v-1.4M445 160.6v1.4M445 205.3v-1.4M448.7 160.6v2.6M448.7 205.3v-2.6" stroke="#000" stroke-width="0.8" fill="none"/>
<path d="M286.9 171.3V204.7M376.2 183.4V204.7M379.9 174V200.8M383.6 188.5V204.7M394.8 166.4V204.7M420.8 161.2V204.7M432 161.2V204.7M435.7 161.2V204.7" stroke="#ffb0b0" stroke-width="2" fill="none"/>
<path d="M290.6 176.2V190.1M289.8 176.2h1.6M289.8 190.1h1.6M294.3 183.3V190M293.5 183.3h1.6M293.5 190h1.6M298 178.4V181.7M297.2 178.4h1.6M297.2 181.7h1.6M301.8 175.7V179M301 175.7h1.6M301 179h1.6M305.5 177.7V181.1M304.7 177.7h1.6M304.7 181.1h1.6M309.2 178V181.4M308.4 178h1.6M308.4 181.4h1.6M312.9 177V180.4M312.1 177h1.6M312.1 180.4h1.6M316.6 180.2V183.5M315.8 180.2h1.6M315.8 183.5h1.6M320.4 180.2V183.5M319.6 180.2h1.6M319.6 183.5h1.6M324.1 183V186.3M323.3 183h1.6M323.3 186.3h1.6M327.8 183V186.3M327 183h1.6M327 186.3h1.6M331.5 187.5V190.9M330.7 187.5h1.6M330.7 190.9h1.6M335.2 185.7V189.1M334.4 185.7h1.6M334.4 189.1h1.6M339 183.7V188.2M338.2 183.7h1.6M338.2 188.2h1.6M342.7 183.1V187.5M341.9 183.1h1.6M341.9 187.5h1.6M346.4 183.1V189.8M345.6 183.1h1.6M345.6 189.8h1.6M350.1 177.3V185.1M349.3 177.3h1.6M349.3 185.1h1.6M353.8 186.1V195M353 186.1h1.6M353 195h1.6M357.6 187.3V198.5M356.8 187.3h1.6M356.8 198.5h1.6M361.3 182.7V193.9M360.5 182.7h1.6M360.5 193.9h1.6M365 186.6V200M364.2 186.6h1.6M364.2 200h1.6M368.7 178V195.9M367.9 178h1.6M367.9 195.9h1.6M372.4 161.2V183M371.6 183h1.6M391 161.2V186.1M390.2 186.1h1.6M398.5 161.2V204.7M413.4 161.2V204.7M424.5 161.2V204.7M428.2 161.2V204.7M439.4 161.2V194.1M438.6 194.1h1.6M443.1 169.7V203.2M442.3 169.7h1.6M442.3 203.2h1.6M446.8 174V204.7M446 174h1.6" stroke="#ff5a5a" stroke-width="1" fill="none"/>
<path d="M285 189.2h3.7M288.7 183.2h3.7M292.5 186.6h3.7M296.2 180h3.7M299.9 177.4h3.7M303.6 179.4h3.7M307.3 179.7h3.7M311.1 178.7h3.7M314.8 181.8h3.7M318.5 181.8h3.7M322.2 184.6h3.7M325.9 184.6h3.7M329.7 189.2h3.7M333.4 187.4h3.7M337.1 186h3.7M340.8 185.3h3.7M344.5 186.4h3.7M348.3 181.2h3.7M352 190.5h3.7M355.7 192.9h3.7M359.4 188.3h3.7M363.1 193.3h3.7M366.9 187h3.7M370.6 171.8h3.7M374.3 194.6h3.7M378 187.4h3.7M381.7 201.9h3.7M389.2 170.4h3.7M392.9 188.8h3.7M396.6 184h3.7M411.5 184.2h3.7M418.9 169.5h3.7M422.7 184.2h3.7M426.4 184.2h3.7M430.1 177h3.7M433.8 188.8h3.7M437.5 171.8h3.7M441.3 186.4h3.7M445 190.8h3.7" stroke="#000" stroke-width="0.9" fill="none"/>
<circle cx="286.9" cy="189.2" r="1.3"/>
<circle cx="290.6" cy="183.2" r="1.3"/>
<circle cx="294.3" cy="186.6" r="1.3"/>
<circle cx="298" cy="180" r="1.3"/>
<circle cx="301.8" cy="177.4" r="1.3"/>
<circle cx="305.5" cy="179.4" r="1.3"/>
<circle cx="309.2" cy="179.7" r="1.3"/>
<circle cx="312.9" cy="178.7" r="1.3"/>
<circle cx="316.6" cy="181.8" r="1.3"/>
<circle cx="320.4" cy="181.8" r="1.3"/>
<circle cx="324.1" cy="184.6" r="1.3"/>
<circle cx="327.8" cy="184.6" r="1.3"/>
<circle cx="331.5" cy="189.2" r="1.3"/>
<circle cx="335.2" cy="187.4" r="1.3"/>
<circle cx="339" cy="186" r="1.3"/>
<circle cx="342.7" cy="185.3" r="1.3"/>
<circle cx="346.4" cy="186.4" r="1.3"/>
<circle cx="350.1" cy="181.2" r="1.3"/>
<circle cx="353.8" cy="190.5" r="1.3"/>
<circle cx="357.6" cy="192.9" r="1.3"/>
<circle cx="361.3" cy="188.3" r="1.3"/>
<circle cx="365" cy="193.3" r="1.3"/>
<circle cx="368.7" cy="187" r="1.3"/>
<circle cx="372.4" cy="171.8" r="1.3"/>
<circle cx="376.2" cy="194.6" r="1.3"/>
<circle cx="379.9" cy="187.4" r="1.3"/>
<circle cx="383.6" cy="201.9" r="1.3"/>
<circle cx="391" cy="170.4" r="1.3"/>
<circle cx="394.8" cy="188.8" r="1.3"/>
<circle cx="398.5" cy="184" r="1.3"/>
<circle cx="413.4" cy="184.2" r="1.3"/>
<circle cx="420.8" cy="169.5" r="1.3"/>
<circle cx="424.5" cy="184.2" r="1.3"/>
<circle cx="428.2" cy="184.2" r="1.3"/>
<circle cx="432" cy="177" r="1.3"/>
<circle cx="435.7" cy="188.8" r="1.3"/>
<circle cx="439.4" cy="171.8" r="1.3"/>
<circle cx="443.1" cy="186.4" r="1.3"/>
<circle cx="446.8" cy="190.8" r="1.3"/>
<rect x="262.7" y="160.6" width="186" height="44.7" fill="none" stroke="#000" stroke-width="0.95"/>
<text x="449.3" y="224.6" font-size="10.3" text-anchor="end">D (GenJet, R=0.8)</text>
<text x="365.1" y="229.2" font-size="7.2" text-anchor="end">T</text>
<text x="360.5" y="224.6" font-size="10.3" text-anchor="end">p</text>
<text x="491.3" y="163.7" font-size="8.7" text-anchor="end">10<tspan font-size="5.8" dy="-3.6" dx="-0.3">&#8722;</tspan><tspan font-size="5.8" dx="0.2">5</tspan></text>
<text x="491.3" y="138.1" font-size="8.7" text-anchor="end">10<tspan font-size="5.8" dy="-3.6" dx="-0.3">&#8722;</tspan><tspan font-size="5.8" dx="0.2">4</tspan></text>
<text x="491.3" y="112.5" font-size="8.7" text-anchor="end">10<tspan font-size="5.8" dy="-3.6" dx="-0.3">&#8722;</tspan><tspan font-size="5.8" dx="0.2">3</tspan></text>
<text x="491.3" y="86.9" font-size="8.7" text-anchor="end">10<tspan font-size="5.8" dy="-3.6" dx="-0.3">&#8722;</tspan><tspan font-size="5.8" dx="0.2">2</tspan></text>
<text x="491.3" y="61.3" font-size="8.7" text-anchor="end">10<tspan font-size="5.8" dy="-3.6" dx="-0.3">&#8722;</tspan><tspan font-size="5.8" dx="0.2">1</tspan></text>
<text x="491.3" y="35.7" font-size="8.7" text-anchor="end" >1</text>
<text x="491.3" y="10.1" font-size="8.7" text-anchor="end" clip-path="url(#cl02)">10</text>
<path d="M492.7 160.6h6M679.2 160.6h-6M492.7 135h6M679.2 135h-6M492.7 109.4h6M679.2 109.4h-6M492.7 83.8h6M679.2 83.8h-6M492.7 58.2h6M679.2 58.2h-6M492.7 32.6h6M679.2 32.6h-6M492.7 7h6M679.2 7h-6" stroke="#000" stroke-width="0.9" fill="none"/>
<path d="M492.7 152.9h3M679.2 152.9h-3M492.7 148.4h3M679.2 148.4h-3M492.7 145.2h3M679.2 145.2h-3M492.7 142.7h3M679.2 142.7h-3M492.7 140.7h3M679.2 140.7h-3M492.7 139h3M679.2 139h-3M492.7 137.5h3M679.2 137.5h-3M492.7 136.2h3M679.2 136.2h-3M492.7 127.3h3M679.2 127.3h-3M492.7 122.8h3M679.2 122.8h-3M492.7 119.6h3M679.2 119.6h-3M492.7 117.1h3M679.2 117.1h-3M492.7 115.1h3M679.2 115.1h-3M492.7 113.4h3M679.2 113.4h-3M492.7 111.9h3M679.2 111.9h-3M492.7 110.6h3M679.2 110.6h-3M492.7 101.7h3M679.2 101.7h-3M492.7 97.2h3M679.2 97.2h-3M492.7 94h3M679.2 94h-3M492.7 91.5h3M679.2 91.5h-3M492.7 89.5h3M679.2 89.5h-3M492.7 87.8h3M679.2 87.8h-3M492.7 86.3h3M679.2 86.3h-3M492.7 85h3M679.2 85h-3M492.7 76.1h3M679.2 76.1h-3M492.7 71.6h3M679.2 71.6h-3M492.7 68.4h3M679.2 68.4h-3M492.7 65.9h3M679.2 65.9h-3M492.7 63.9h3M679.2 63.9h-3M492.7 62.2h3M679.2 62.2h-3M492.7 60.7h3M679.2 60.7h-3M492.7 59.4h3M679.2 59.4h-3M492.7 50.5h3M679.2 50.5h-3M492.7 46h3M679.2 46h-3M492.7 42.8h3M679.2 42.8h-3M492.7 40.3h3M679.2 40.3h-3M492.7 38.3h3M679.2 38.3h-3M492.7 36.6h3M679.2 36.6h-3M492.7 35.1h3M679.2 35.1h-3M492.7 33.8h3M679.2 33.8h-3M492.7 24.9h3M679.2 24.9h-3M492.7 20.4h3M679.2 20.4h-3M492.7 17.2h3M679.2 17.2h-3M492.7 14.7h3M679.2 14.7h-3M492.7 12.7h3M679.2 12.7h-3M492.7 11h3M679.2 11h-3M492.7 9.5h3M679.2 9.5h-3M492.7 8.2h3M679.2 8.2h-3M492.7 5.5v3.5M492.7 160.6v-3.5M496.4 5.5v1.8M496.4 160.6v-1.8M500.2 5.5v1.8M500.2 160.6v-1.8M503.9 5.5v1.8M503.9 160.6v-1.8M507.6 5.5v1.8M507.6 160.6v-1.8M511.4 5.5v3.5M511.4 160.6v-3.5M515.1 5.5v1.8M515.1 160.6v-1.8M518.8 5.5v1.8M518.8 160.6v-1.8M522.5 5.5v1.8M522.5 160.6v-1.8M526.3 5.5v1.8M526.3 160.6v-1.8M530 5.5v3.5M530 160.6v-3.5M533.7 5.5v1.8M533.7 160.6v-1.8M537.5 5.5v1.8M537.5 160.6v-1.8M541.2 5.5v1.8M541.2 160.6v-1.8M544.9 5.5v1.8M544.9 160.6v-1.8M548.6 5.5v3.5M548.6 160.6v-3.5M552.4 5.5v1.8M552.4 160.6v-1.8M556.1 5.5v1.8M556.1 160.6v-1.8M559.8 5.5v1.8M559.8 160.6v-1.8M563.6 5.5v1.8M563.6 160.6v-1.8M567.3 5.5v3.5M567.3 160.6v-3.5M571 5.5v1.8M571 160.6v-1.8M574.8 5.5v1.8M574.8 160.6v-1.8M578.5 5.5v1.8M578.5 160.6v-1.8M582.2 5.5v1.8M582.2 160.6v-1.8M586 5.5v3.5M586 160.6v-3.5M589.7 5.5v1.8M589.7 160.6v-1.8M593.4 5.5v1.8M593.4 160.6v-1.8M597.1 5.5v1.8M597.1 160.6v-1.8M600.9 5.5v1.8M600.9 160.6v-1.8M604.6 5.5v3.5M604.6 160.6v-3.5M608.3 5.5v1.8M608.3 160.6v-1.8M612.1 5.5v1.8M612.1 160.6v-1.8M615.8 5.5v1.8M615.8 160.6v-1.8M619.5 5.5v1.8M619.5 160.6v-1.8M623.2 5.5v3.5M623.2 160.6v-3.5M627 5.5v1.8M627 160.6v-1.8M630.7 5.5v1.8M630.7 160.6v-1.8M634.4 5.5v1.8M634.4 160.6v-1.8M638.2 5.5v1.8M638.2 160.6v-1.8M641.9 5.5v3.5M641.9 160.6v-3.5M645.6 5.5v1.8M645.6 160.6v-1.8M649.4 5.5v1.8M649.4 160.6v-1.8M653.1 5.5v1.8M653.1 160.6v-1.8M656.8 5.5v1.8M656.8 160.6v-1.8M660.6 5.5v3.5M660.6 160.6v-3.5M664.3 5.5v1.8M664.3 160.6v-1.8M668 5.5v1.8M668 160.6v-1.8M671.7 5.5v1.8M671.7 160.6v-1.8M675.5 5.5v1.8M675.5 160.6v-1.8M679.2 5.5v3.5M679.2 160.6v-3.5" stroke="#000" stroke-width="0.8" fill="none"/>
<path d="M492.7,163.6L496.4,163.6L496.4,163.6L500.2,163.6L500.2,163.6L503.9,163.6L503.9,163.6L507.6,163.6L507.6,163.6L511.4,163.6L511.4,163.6L515.1,163.6L515.1,115.6L518.8,115.6L518.8,89.6L522.5,89.6L522.5,75L526.3,75L526.3,66.3L530,66.3L530,61.2L533.7,61.2L533.7,58.2L537.5,58.2L537.5,57.2L541.2,57.2L541.2,56.8L544.9,56.8L544.9,57.2L548.6,57.2L548.6,58.2L552.4,58.2L552.4,59.7L556.1,59.7L556.1,61.9L559.8,61.9L559.8,64.8L563.6,64.8L563.6,68.2L567.3,68.2L567.3,71.8L571,71.8L571,75.5L574.8,75.5L574.8,79.1L578.5,79.1L578.5,83.1L582.2,83.1L582.2,87.2L586,87.2L586,91.1L589.7,91.1L589.7,95.3L593.4,95.3L593.4,99.6L597.1,99.6L597.1,103.9L600.9,103.9L600.9,106.9L604.6,106.9L604.6,110.1L608.3,110.1L608.3,113.7L612.1,113.7L612.1,115.4L615.8,115.4L615.8,117.4L619.5,117.4L619.5,125L623.2,125L623.2,124.7L627,124.7L627,127.3L630.7,127.3L630.7,125.8L634.4,125.8L634.4,130.5L638.2,130.5L638.2,133.4L641.9,133.4L641.9,139.3L645.6,139.3L645.6,134.6L649.4,134.6L649.4,142.2L653.1,142.2L653.1,136.4L656.8,136.4L656.8,132.3L660.6,132.3L660.6,132.7L664.3,132.7L664.3,133.1L668,133.1L668,126.8L671.7,126.8L671.7,117.1L675.5,117.1L675.5,109.5L679.2,109.5" fill="none" stroke="#808080" stroke-width="1.0"  clip-path="url(#cu02)"/>
<path d="M492.7,163.6L496.4,163.6L496.4,163.6L500.2,163.6L500.2,163.6L503.9,163.6L503.9,163.6L507.6,163.6L507.6,163.6L511.4,163.6L511.4,150.2L515.1,150.2L515.1,115.6L518.8,115.6L518.8,89.6L522.5,89.6L522.5,75L526.3,75L526.3,66.3L530,66.3L530,61.2L533.7,61.2L533.7,58.2L537.5,58.2L537.5,57.2L541.2,57.2L541.2,56.8L544.9,56.8L544.9,57.2L548.6,57.2L548.6,58.2L552.4,58.2L552.4,59.7L556.1,59.7L556.1,61.9L559.8,61.9L559.8,64.8L563.6,64.8L563.6,68.2L567.3,68.2L567.3,71.8L571,71.8L571,75.5L574.8,75.5L574.8,79.1L578.5,79.1L578.5,83.1L582.2,83.1L582.2,87.2L586,87.2L586,91.1L589.7,91.1L589.7,95.3L593.4,95.3L593.4,99.6L597.1,99.6L597.1,103.9L600.9,103.9L600.9,106.9L604.6,106.9L604.6,110.1L608.3,110.1L608.3,115.6L612.1,115.6L612.1,115.9L615.8,115.9L615.8,117.4L619.5,117.4L619.5,123.2L623.2,123.2L623.2,124.7L627,124.7L627,127.3L630.7,127.3L630.7,130.5L634.4,130.5L634.4,131.7L638.2,131.7L638.2,135.6L641.9,135.6L641.9,137.1L645.6,137.1L645.6,134.9L649.4,134.9L649.4,139.3L653.1,139.3L653.1,143.4L656.8,143.4L656.8,141.5L660.6,141.5L660.6,139.3L664.3,139.3L664.3,135.6L668,135.6L668,125.4L671.7,125.4L671.7,117.1L675.5,117.1L675.5,108.6L679.2,108.6" fill="none" stroke="#3399ff" stroke-width="1.3" stroke-dasharray="2.6 1.7" clip-path="url(#cu02)"/>
<rect x="492.7" y="5.5" width="186.5" height="155.1" fill="none" stroke="#000" stroke-width="0.95"/>
<text x="520.5" y="20.7" font-size="11.5" text-anchor="start" >Old py 8</text>
<line x1="584.9" y1="25.5" x2="600.1" y2="25.5" stroke="#3399ff" stroke-width="1.3" stroke-dasharray="2.2 1.6"/>
<text x="603.9" y="20.7" font-size="11.5" text-anchor="start" >New py 8</text>
<text x="520.5" y="35.7" font-size="11.5">3</text>
<text x="530.2" y="35.7" font-size="10" font-style="italic">&#960;</text>
<text x="536.2" y="38.9" font-size="8">D</text>
<text x="545" y="35.7" font-size="11.5">decay</text>
<text x="603.9" y="35.7" font-size="11.5">3</text>
<text x="613.6" y="35.7" font-size="10" font-style="italic">&#960;</text>
<text x="619.6" y="38.9" font-size="8">D</text>
<text x="628.4" y="35.7" font-size="11.5">decay</text>
<text transform="translate(471,30.8) rotate(-90)" font-size="10.9">N<tspan font-size="7.6" dy="2.6">Jets</tspan></text>
<path d="M502.5 25.5h14.4" stroke="#808080" stroke-width="1.0" fill="none"/>
<rect x="452.7" y="160.6" width="231.5" height="45.3" fill="#fff"/>
<text x="490.9" y="207.4" font-size="5.9" text-anchor="end" >0.8</text>
<text x="490.9" y="201.8" font-size="5.9" text-anchor="end" >0.85</text>
<text x="490.9" y="196.2" font-size="5.9" text-anchor="end" >0.9</text>
<text x="490.9" y="190.6" font-size="5.9" text-anchor="end" >0.95</text>
<text x="490.9" y="185.1" font-size="5.9" text-anchor="end" >1</text>
<text x="490.9" y="179.5" font-size="5.9" text-anchor="end" >1.05</text>
<text x="490.9" y="173.9" font-size="5.9" text-anchor="end" >1.1</text>
<text x="490.9" y="168.3" font-size="5.9" text-anchor="end" >1.15</text>
<path d="M494 160.6V205.3M677.9 160.6V205.3" stroke="#8a8a8a" stroke-width="1.6" fill="none"/>
<text x="492.7" y="212.6" font-size="8.9" text-anchor="middle" >0</text>
<text x="511.4" y="212.6" font-size="8.9" text-anchor="middle" >0.1</text>
<text x="530" y="212.6" font-size="8.9" text-anchor="middle" >0.2</text>
<text x="548.6" y="212.6" font-size="8.9" text-anchor="middle" >0.3</text>
<text x="567.3" y="212.6" font-size="8.9" text-anchor="middle" >0.4</text>
<text x="586" y="212.6" font-size="8.9" text-anchor="middle" >0.5</text>
<text x="604.6" y="212.6" font-size="8.9" text-anchor="middle" >0.6</text>
<text x="623.2" y="212.6" font-size="8.9" text-anchor="middle" >0.7</text>
<text x="641.9" y="212.6" font-size="8.9" text-anchor="middle" >0.8</text>
<text x="660.6" y="212.6" font-size="8.9" text-anchor="middle" >0.9</text>
<text x="679.2" y="212.6" font-size="8.9" text-anchor="middle" >1</text>
<line x1="492.7" y1="183.5" x2="679.2" y2="183.5" stroke="#000" stroke-width="0.9" stroke-dasharray="1.4 1.4"/>
<path d="M492.7 205.3h4M679.2 205.3h-4M492.7 199.7h4M679.2 199.7h-4M492.7 194.1h4M679.2 194.1h-4M492.7 188.5h4M679.2 188.5h-4M492.7 183h4M679.2 183h-4M492.7 177.4h4M679.2 177.4h-4M492.7 171.8h4M679.2 171.8h-4M492.7 166.2h4M679.2 166.2h-4M492.7 160.6h4M679.2 160.6h-4M492.7 160.6v2.6M492.7 205.3v-2.6M496.4 160.6v1.4M496.4 205.3v-1.4M500.2 160.6v1.4M500.2 205.3v-1.4M503.9 160.6v1.4M503.9 205.3v-1.4M507.6 160.6v1.4M507.6 205.3v-1.4M511.4 160.6v2.6M511.4 205.3v-2.6M515.1 160.6v1.4M515.1 205.3v-1.4M518.8 160.6v1.4M518.8 205.3v-1.4M522.5 160.6v1.4M522.5 205.3v-1.4M526.3 160.6v1.4M526.3 205.3v-1.4M530 160.6v2.6M530 205.3v-2.6M533.7 160.6v1.4M533.7 205.3v-1.4M537.5 160.6v1.4M537.5 205.3v-1.4M541.2 160.6v1.4M541.2 205.3v-1.4M544.9 160.6v1.4M544.9 205.3v-1.4M548.6 160.6v2.6M548.6 205.3v-2.6M552.4 160.6v1.4M552.4 205.3v-1.4M556.1 160.6v1.4M556.1 205.3v-1.4M559.8 160.6v1.4M559.8 205.3v-1.4M563.6 160.6v1.4M563.6 205.3v-1.4M567.3 160.6v2.6M567.3 205.3v-2.6M571 160.6v1.4M571 205.3v-1.4M574.8 160.6v1.4M574.8 205.3v-1.4M578.5 160.6v1.4M578.5 205.3v-1.4M582.2 160.6v1.4M582.2 205.3v-1.4M586 160.6v2.6M586 205.3v-2.6M589.7 160.6v1.4M589.7 205.3v-1.4M593.4 160.6v1.4M593.4 205.3v-1.4M597.1 160.6v1.4M597.1 205.3v-1.4M600.9 160.6v1.4M600.9 205.3v-1.4M604.6 160.6v2.6M604.6 205.3v-2.6M608.3 160.6v1.4M608.3 205.3v-1.4M612.1 160.6v1.4M612.1 205.3v-1.4M615.8 160.6v1.4M615.8 205.3v-1.4M619.5 160.6v1.4M619.5 205.3v-1.4M623.2 160.6v2.6M623.2 205.3v-2.6M627 160.6v1.4M627 205.3v-1.4M630.7 160.6v1.4M630.7 205.3v-1.4M634.4 160.6v1.4M634.4 205.3v-1.4M638.2 160.6v1.4M638.2 205.3v-1.4M641.9 160.6v2.6M641.9 205.3v-2.6M645.6 160.6v1.4M645.6 205.3v-1.4M649.4 160.6v1.4M649.4 205.3v-1.4M653.1 160.6v1.4M653.1 205.3v-1.4M656.8 160.6v1.4M656.8 205.3v-1.4M660.6 160.6v2.6M660.6 205.3v-2.6M664.3 160.6v1.4M664.3 205.3v-1.4M668 160.6v1.4M668 205.3v-1.4M671.7 160.6v1.4M671.7 205.3v-1.4M675.5 160.6v1.4M675.5 205.3v-1.4M679.2 160.6v2.6M679.2 205.3v-2.6" stroke="#000" stroke-width="0.8" fill="none"/>
<path d="M587.8 186.1V195M599 165.2V185.3M613.9 161.2V179.9M625.1 161.2V201.1M669.9 161.2V194.1" stroke="#a8d0ff" stroke-width="2" fill="none"/>
<path d="M516.9 173.8V204.7M516.1 173.8h1.6M520.7 185.3V194.2M519.9 185.3h1.6M519.9 194.2h1.6M524.4 180.3V184.7M523.6 180.3h1.6M523.6 184.7h1.6M528.1 178.8V182.2M527.3 178.8h1.6M527.3 182.2h1.6M531.9 176.7V180M531.1 176.7h1.6M531.1 180h1.6M535.6 175.4V178.7M534.8 175.4h1.6M534.8 178.7h1.6M539.3 176.7V180M538.5 176.7h1.6M538.5 180h1.6M543.1 177.7V181.1M542.3 177.7h1.6M542.3 181.1h1.6M546.8 181.2V184.5M546 181.2h1.6M546 184.5h1.6M550.5 184.3V187.6M549.7 184.3h1.6M549.7 187.6h1.6M554.2 185V188.3M553.4 185h1.6M553.4 188.3h1.6M558 184.3V187.6M557.2 184.3h1.6M557.2 187.6h1.6M561.7 184.1V187.4M560.9 184.1h1.6M560.9 187.4h1.6M565.4 186.1V189.4M564.6 186.1h1.6M564.6 189.4h1.6M569.2 187V191.4M568.4 187h1.6M568.4 191.4h1.6M572.9 189.8V195.4M572.1 189.8h1.6M572.1 195.4h1.6M576.6 184.4V191.1M575.8 184.4h1.6M575.8 191.1h1.6M580.4 180V187.9M579.6 180h1.6M579.6 187.9h1.6M584.1 182.5V191.4M583.3 182.5h1.6M583.3 191.4h1.6M591.5 176.8V190.2M590.7 176.8h1.6M590.7 190.2h1.6M595.3 184.4V197.8M594.5 184.4h1.6M594.5 197.8h1.6M602.7 162.4V184.7M601.9 162.4h1.6M601.9 184.7h1.6M606.5 175.1V197.5M605.7 175.1h1.6M605.7 197.5h1.6M610.2 191.9V204.7M609.4 191.9h1.6M617.7 162.8V198.6M616.9 162.8h1.6M616.9 198.6h1.6M628.8 161.2V204.7M636.3 165.7V204.7M635.5 165.7h1.6M643.8 161.2V204.7M647.5 161.2V204.7M666.1 161.2V204.7M673.6 165.5V199M672.8 165.5h1.6M672.8 199h1.6M677.3 161.2V204.7" stroke="#3399ff" stroke-width="1" fill="none"/>
<path d="M515.1 190.5h3.7M518.8 189.8h3.7M522.5 182.5h3.7M526.3 180.5h3.7M530 178.4h3.7M533.7 177h3.7M537.5 178.4h3.7M541.2 179.4h3.7M544.9 182.8h3.7M548.6 186h3.7M552.4 186.6h3.7M556.1 186h3.7M559.8 185.7h3.7M563.6 187.8h3.7M567.3 189.2h3.7M571 192.6h3.7M574.8 187.8h3.7M578.5 184h3.7M582.2 187h3.7M586 190.5h3.7M589.7 183.5h3.7M593.4 191.1h3.7M597.1 175.2h3.7M600.9 173.6h3.7M604.6 186.3h3.7M608.3 203.1h3.7M612.1 162.1h3.7M615.8 180.7h3.7M623.2 178.7h3.7M627 176.6h3.7M634.4 193.7h3.7M641.9 169h3.7M645.6 196.7h3.7M664.3 175.4h3.7M668 166.2h3.7M671.7 182.3h3.7M675.5 174.5h3.7" stroke="#000" stroke-width="0.9" fill="none"/>
<circle cx="516.9" cy="190.5" r="1.3"/>
<circle cx="520.7" cy="189.8" r="1.3"/>
<circle cx="524.4" cy="182.5" r="1.3"/>
<circle cx="528.1" cy="180.5" r="1.3"/>
<circle cx="531.9" cy="178.4" r="1.3"/>
<circle cx="535.6" cy="177" r="1.3"/>
<circle cx="539.3" cy="178.4" r="1.3"/>
<circle cx="543.1" cy="179.4" r="1.3"/>
<circle cx="546.8" cy="182.8" r="1.3"/>
<circle cx="550.5" cy="186" r="1.3"/>
<circle cx="554.2" cy="186.6" r="1.3"/>
<circle cx="558" cy="186" r="1.3"/>
<circle cx="561.7" cy="185.7" r="1.3"/>
<circle cx="565.4" cy="187.8" r="1.3"/>
<circle cx="569.2" cy="189.2" r="1.3"/>
<circle cx="572.9" cy="192.6" r="1.3"/>
<circle cx="576.6" cy="187.8" r="1.3"/>
<circle cx="580.4" cy="184" r="1.3"/>
<circle cx="584.1" cy="187" r="1.3"/>
<circle cx="587.8" cy="190.5" r="1.3"/>
<circle cx="591.5" cy="183.5" r="1.3"/>
<circle cx="595.3" cy="191.1" r="1.3"/>
<circle cx="599" cy="175.2" r="1.3"/>
<circle cx="602.7" cy="173.6" r="1.3"/>
<circle cx="606.5" cy="186.3" r="1.3"/>
<circle cx="610.2" cy="203.1" r="1.3"/>
<circle cx="613.9" cy="162.1" r="1.3"/>
<circle cx="617.7" cy="180.7" r="1.3"/>
<circle cx="625.1" cy="178.7" r="1.3"/>
<circle cx="628.8" cy="176.6" r="1.3"/>
<circle cx="636.3" cy="193.7" r="1.3"/>
<circle cx="643.8" cy="169" r="1.3"/>
<circle cx="647.5" cy="196.7" r="1.3"/>
<circle cx="666.1" cy="175.4" r="1.3"/>
<circle cx="669.9" cy="166.2" r="1.3"/>
<circle cx="673.6" cy="182.3" r="1.3"/>
<circle cx="677.3" cy="174.5" r="1.3"/>
<rect x="492.7" y="160.6" width="186.5" height="44.7" fill="none" stroke="#000" stroke-width="0.95"/>
<text x="679.8" y="224.6" font-size="10.3" text-anchor="end">D (GenJet, R=0.8)</text>
<text x="595.6" y="229.2" font-size="7.2" text-anchor="end">T</text>
<text x="591" y="224.6" font-size="10.3" text-anchor="end">p</text>
<text x="31.2" y="399.1" font-size="8.7" text-anchor="end">10<tspan font-size="5.8" dy="-3.6" dx="-0.3">&#8722;</tspan><tspan font-size="5.8" dx="0.2">5</tspan></text>
<text x="31.2" y="373.9" font-size="8.7" text-anchor="end">10<tspan font-size="5.8" dy="-3.6" dx="-0.3">&#8722;</tspan><tspan font-size="5.8" dx="0.2">4</tspan></text>
<text x="31.2" y="348.7" font-size="8.7" text-anchor="end">10<tspan font-size="5.8" dy="-3.6" dx="-0.3">&#8722;</tspan><tspan font-size="5.8" dx="0.2">3</tspan></text>
<text x="31.2" y="323.4" font-size="8.7" text-anchor="end">10<tspan font-size="5.8" dy="-3.6" dx="-0.3">&#8722;</tspan><tspan font-size="5.8" dx="0.2">2</tspan></text>
<text x="31.2" y="298.2" font-size="8.7" text-anchor="end">10<tspan font-size="5.8" dy="-3.6" dx="-0.3">&#8722;</tspan><tspan font-size="5.8" dx="0.2">1</tspan></text>
<text x="31.2" y="273" font-size="8.7" text-anchor="end" >1</text>
<text x="31.2" y="247.8" font-size="8.7" text-anchor="end" clip-path="url(#cl10)">10</text>
<path d="M32.6 396h6M218.5 396h-6M32.6 370.8h6M218.5 370.8h-6M32.6 345.6h6M218.5 345.6h-6M32.6 320.3h6M218.5 320.3h-6M32.6 295.1h6M218.5 295.1h-6M32.6 269.9h6M218.5 269.9h-6M32.6 244.7h6M218.5 244.7h-6" stroke="#000" stroke-width="0.9" fill="none"/>
<path d="M32.6 388.4h3M218.5 388.4h-3M32.6 384h3M218.5 384h-3M32.6 380.8h3M218.5 380.8h-3M32.6 378.4h3M218.5 378.4h-3M32.6 376.4h3M218.5 376.4h-3M32.6 374.7h3M218.5 374.7h-3M32.6 373.2h3M218.5 373.2h-3M32.6 371.9h3M218.5 371.9h-3M32.6 363.2h3M218.5 363.2h-3M32.6 358.7h3M218.5 358.7h-3M32.6 355.6h3M218.5 355.6h-3M32.6 353.2h3M218.5 353.2h-3M32.6 351.2h3M218.5 351.2h-3M32.6 349.5h3M218.5 349.5h-3M32.6 348h3M218.5 348h-3M32.6 346.7h3M218.5 346.7h-3M32.6 338h3M218.5 338h-3M32.6 333.5h3M218.5 333.5h-3M32.6 330.4h3M218.5 330.4h-3M32.6 327.9h3M218.5 327.9h-3M32.6 325.9h3M218.5 325.9h-3M32.6 324.2h3M218.5 324.2h-3M32.6 322.8h3M218.5 322.8h-3M32.6 321.5h3M218.5 321.5h-3M32.6 312.7h3M218.5 312.7h-3M32.6 308.3h3M218.5 308.3h-3M32.6 305.2h3M218.5 305.2h-3M32.6 302.7h3M218.5 302.7h-3M32.6 300.7h3M218.5 300.7h-3M32.6 299h3M218.5 299h-3M32.6 297.6h3M218.5 297.6h-3M32.6 296.3h3M218.5 296.3h-3M32.6 287.5h3M218.5 287.5h-3M32.6 283.1h3M218.5 283.1h-3M32.6 279.9h3M218.5 279.9h-3M32.6 277.5h3M218.5 277.5h-3M32.6 275.5h3M218.5 275.5h-3M32.6 273.8h3M218.5 273.8h-3M32.6 272.3h3M218.5 272.3h-3M32.6 271.1h3M218.5 271.1h-3M32.6 262.3h3M218.5 262.3h-3M32.6 257.9h3M218.5 257.9h-3M32.6 254.7h3M218.5 254.7h-3M32.6 252.3h3M218.5 252.3h-3M32.6 250.3h3M218.5 250.3h-3M32.6 248.6h3M218.5 248.6h-3M32.6 247.1h3M218.5 247.1h-3M32.6 245.8h3M218.5 245.8h-3M32.6 240.9v3.5M32.6 396v-3.5M36.3 240.9v1.8M36.3 396v-1.8M40 240.9v1.8M40 396v-1.8M43.8 240.9v1.8M43.8 396v-1.8M47.5 240.9v1.8M47.5 396v-1.8M51.2 240.9v3.5M51.2 396v-3.5M54.9 240.9v1.8M54.9 396v-1.8M58.6 240.9v1.8M58.6 396v-1.8M62.3 240.9v1.8M62.3 396v-1.8M66.1 240.9v1.8M66.1 396v-1.8M69.8 240.9v3.5M69.8 396v-3.5M73.5 240.9v1.8M73.5 396v-1.8M77.2 240.9v1.8M77.2 396v-1.8M80.9 240.9v1.8M80.9 396v-1.8M84.7 240.9v1.8M84.7 396v-1.8M88.4 240.9v3.5M88.4 396v-3.5M92.1 240.9v1.8M92.1 396v-1.8M95.8 240.9v1.8M95.8 396v-1.8M99.5 240.9v1.8M99.5 396v-1.8M103.2 240.9v1.8M103.2 396v-1.8M107 240.9v3.5M107 396v-3.5M110.7 240.9v1.8M110.7 396v-1.8M114.4 240.9v1.8M114.4 396v-1.8M118.1 240.9v1.8M118.1 396v-1.8M121.8 240.9v1.8M121.8 396v-1.8M125.6 240.9v3.5M125.6 396v-3.5M129.3 240.9v1.8M129.3 396v-1.8M133 240.9v1.8M133 396v-1.8M136.7 240.9v1.8M136.7 396v-1.8M140.4 240.9v1.8M140.4 396v-1.8M144.1 240.9v3.5M144.1 396v-3.5M147.9 240.9v1.8M147.9 396v-1.8M151.6 240.9v1.8M151.6 396v-1.8M155.3 240.9v1.8M155.3 396v-1.8M159 240.9v1.8M159 396v-1.8M162.7 240.9v3.5M162.7 396v-3.5M166.4 240.9v1.8M166.4 396v-1.8M170.2 240.9v1.8M170.2 396v-1.8M173.9 240.9v1.8M173.9 396v-1.8M177.6 240.9v1.8M177.6 396v-1.8M181.3 240.9v3.5M181.3 396v-3.5M185 240.9v1.8M185 396v-1.8M188.8 240.9v1.8M188.8 396v-1.8M192.5 240.9v1.8M192.5 396v-1.8M196.2 240.9v1.8M196.2 396v-1.8M199.9 240.9v3.5M199.9 396v-3.5M203.6 240.9v1.8M203.6 396v-1.8M207.3 240.9v1.8M207.3 396v-1.8M211.1 240.9v1.8M211.1 396v-1.8M214.8 240.9v1.8M214.8 396v-1.8M218.5 240.9v3.5M218.5 396v-3.5" stroke="#000" stroke-width="0.8" fill="none"/>
<path d="M32.6,296L36.3,296L36.3,291.5L40,291.5L40,292.8L43.8,292.8L43.8,294.3L47.5,294.3L47.5,295.4L51.2,295.4L51.2,296.9L54.9,296.9L54.9,298.6L58.6,298.6L58.6,301L62.3,301L62.3,303L66.1,303L66.1,304.9L69.8,304.9L69.8,306.8L73.5,306.8L73.5,308.9L77.2,308.9L77.2,310.3L80.9,310.3L80.9,311.5L84.7,311.5L84.7,313L88.4,313L88.4,314.7L92.1,314.7L92.1,315.9L95.8,315.9L95.8,317.6L99.5,317.6L99.5,318.8L103.2,318.8L103.2,320.3L107,320.3L107,322L110.7,322L110.7,324.6L114.4,324.6L114.4,324.6L118.1,324.6L118.1,328.3L121.8,328.3L121.8,329.3L125.5,329.3L125.6,334.1L129.3,334.1L129.3,340L133,340L133,347.7L136.7,347.7L136.7,350.6L140.4,350.6L140.4,365.5L144.1,365.5L144.1,369.6L147.9,369.6L147.9,378.6L151.6,378.6L151.6,383.3L155.3,383.3L155.3,399L159,399L159,399L162.7,399L162.7,399L166.4,399L166.4,399L170.2,399L170.2,399L173.9,399L173.9,399L177.6,399L177.6,399L181.3,399L181.3,399L185,399L185,399L188.8,399L188.8,399L192.5,399L192.5,399L196.2,399L196.2,399L199.9,399L199.9,399L203.6,399L203.6,399L207.3,399L207.3,399L211.1,399L211.1,399L214.8,399L214.8,399L218.5,399" fill="none" stroke="#a8a8a8" stroke-width="1.5"  clip-path="url(#cu10)"/>
<path d="M32.6,312.7L36.3,312.7L36.3,291.5L40,291.5L40,292.8L43.8,292.8L43.8,294.3L47.5,294.3L47.5,295.4L51.2,295.4L51.2,296.9L54.9,296.9L54.9,298.6L58.6,298.6L58.6,301L62.3,301L62.3,303L66.1,303L66.1,304.9L69.8,304.9L69.8,306.8L73.5,306.8L73.5,308.9L77.2,308.9L77.2,310.3L80.9,310.3L80.9,311.5L84.7,311.5L84.7,313L88.4,313L88.4,314.7L92.1,314.7L92.1,315.9L95.8,315.9L95.8,317.6L99.5,317.6L99.5,318.8L103.2,318.8L103.2,320.3L107,320.3L107,322L110.7,322L110.7,322.4L114.4,322.4L114.4,324.6L118.1,324.6L118.1,328.3L121.8,328.3L121.8,329.3L125.5,329.3L125.6,334.1L129.3,334.1L129.3,340L133,340L133,349.5L136.7,349.5L136.7,350.6L140.4,350.6L140.4,361.4L144.1,361.4L144.1,380.1L147.9,380.1L147.9,372.5L151.6,372.5L151.6,392.5L155.3,392.5L155.3,384.2L159,384.2L159,399L162.7,399L162.7,399L166.4,399L166.4,399L170.2,399L170.2,399L173.9,399L173.9,399L177.6,399L177.6,399L181.3,399L181.3,399L185,399L185,399L188.8,399L188.8,399L192.5,399L192.5,399L196.2,399L196.2,399L199.9,399L199.9,399L203.6,399L203.6,399L207.3,399L207.3,399L211.1,399L211.1,399L214.8,399L214.8,399L218.5,399" fill="none" stroke="#00a000" stroke-width="1.3" stroke-dasharray="2.6 1.7" clip-path="url(#cu10)"/>
<rect x="32.6" y="240.9" width="185.9" height="155.1" fill="none" stroke="#000" stroke-width="0.95"/>
<text x="60.4" y="256.1" font-size="11.5" text-anchor="start" >Old py 8</text>
<line x1="124.8" y1="260.9" x2="140" y2="260.9" stroke="#00a000" stroke-width="1.3" stroke-dasharray="2.2 1.6"/>
<text x="143.8" y="256.1" font-size="11.5" text-anchor="start" >New py 8</text>
<text x="60.4" y="271.1" font-size="11.5">1</text>
<text x="68" y="271.1" font-size="10" font-style="italic">&#960;</text>
<text x="74.3" y="274.3" font-size="8">D</text>
<text x="83.4" y="271.1" font-size="11.5">decay</text>
<text x="143.8" y="271.1" font-size="11.5">1</text>
<text x="151.4" y="271.1" font-size="10" font-style="italic">&#960;</text>
<text x="157.7" y="274.3" font-size="8">D</text>
<text x="166.8" y="271.1" font-size="11.5">decay</text>
<text transform="translate(10.9,266.2) rotate(-90)" font-size="10.9">N<tspan font-size="7.6" dy="2.6">Jets</tspan></text>
<path d="M42.4 260.9h14.4" stroke="#a8a8a8" stroke-width="1.5" fill="none"/>
<rect x="-7.4" y="396" width="230.9" height="45.3" fill="#fff"/>
<text x="30.8" y="442.8" font-size="5.9" text-anchor="end" >0.8</text>
<text x="30.8" y="437.2" font-size="5.9" text-anchor="end" >0.85</text>
<text x="30.8" y="431.6" font-size="5.9" text-anchor="end" >0.9</text>
<text x="30.8" y="426" font-size="5.9" text-anchor="end" >0.95</text>
<text x="30.8" y="420.5" font-size="5.9" text-anchor="end" >1</text>
<text x="30.8" y="414.9" font-size="5.9" text-anchor="end" >1.05</text>
<text x="30.8" y="409.3" font-size="5.9" text-anchor="end" >1.1</text>
<text x="30.8" y="403.7" font-size="5.9" text-anchor="end" >1.15</text>
<path d="M33.9 396V440.7M217.2 396V440.7" stroke="#8a8a8a" stroke-width="1.6" fill="none"/>
<text x="32.6" y="448" font-size="8.9" text-anchor="middle" >0</text>
<text x="51.2" y="448" font-size="8.9" text-anchor="middle" >0.1</text>
<text x="69.8" y="448" font-size="8.9" text-anchor="middle" >0.2</text>
<text x="88.4" y="448" font-size="8.9" text-anchor="middle" >0.3</text>
<text x="107" y="448" font-size="8.9" text-anchor="middle" >0.4</text>
<text x="125.6" y="448" font-size="8.9" text-anchor="middle" >0.5</text>
<text x="144.1" y="448" font-size="8.9" text-anchor="middle" >0.6</text>
<text x="162.7" y="448" font-size="8.9" text-anchor="middle" >0.7</text>
<text x="181.3" y="448" font-size="8.9" text-anchor="middle" >0.8</text>
<text x="199.9" y="448" font-size="8.9" text-anchor="middle" >0.9</text>
<text x="218.5" y="448" font-size="8.9" text-anchor="middle" >1</text>
<line x1="32.6" y1="418.5" x2="218.5" y2="418.5" stroke="#000" stroke-width="0.9" stroke-dasharray="1.4 1.4"/>
<path d="M32.6 440.7h4M218.5 440.7h-4M32.6 435.1h4M218.5 435.1h-4M32.6 429.5h4M218.5 429.5h-4M32.6 423.9h4M218.5 423.9h-4M32.6 418.4h4M218.5 418.4h-4M32.6 412.8h4M218.5 412.8h-4M32.6 407.2h4M218.5 407.2h-4M32.6 401.6h4M218.5 401.6h-4M32.6 396h4M218.5 396h-4M32.6 396v2.6M32.6 440.7v-2.6M36.3 396v1.4M36.3 440.7v-1.4M40 396v1.4M40 440.7v-1.4M43.8 396v1.4M43.8 440.7v-1.4M47.5 396v1.4M47.5 440.7v-1.4M51.2 396v2.6M51.2 440.7v-2.6M54.9 396v1.4M54.9 440.7v-1.4M58.6 396v1.4M58.6 440.7v-1.4M62.3 396v1.4M62.3 440.7v-1.4M66.1 396v1.4M66.1 440.7v-1.4M69.8 396v2.6M69.8 440.7v-2.6M73.5 396v1.4M73.5 440.7v-1.4M77.2 396v1.4M77.2 440.7v-1.4M80.9 396v1.4M80.9 440.7v-1.4M84.7 396v1.4M84.7 440.7v-1.4M88.4 396v2.6M88.4 440.7v-2.6M92.1 396v1.4M92.1 440.7v-1.4M95.8 396v1.4M95.8 440.7v-1.4M99.5 396v1.4M99.5 440.7v-1.4M103.2 396v1.4M103.2 440.7v-1.4M107 396v2.6M107 440.7v-2.6M110.7 396v1.4M110.7 440.7v-1.4M114.4 396v1.4M114.4 440.7v-1.4M118.1 396v1.4M118.1 440.7v-1.4M121.8 396v1.4M121.8 440.7v-1.4M125.6 396v2.6M125.6 440.7v-2.6M129.3 396v1.4M129.3 440.7v-1.4M133 396v1.4M133 440.7v-1.4M136.7 396v1.4M136.7 440.7v-1.4M140.4 396v1.4M140.4 440.7v-1.4M144.1 396v2.6M144.1 440.7v-2.6M147.9 396v1.4M147.9 440.7v-1.4M151.6 396v1.4M151.6 440.7v-1.4M155.3 396v1.4M155.3 440.7v-1.4M159 396v1.4M159 440.7v-1.4M162.7 396v2.6M162.7 440.7v-2.6M166.4 396v1.4M166.4 440.7v-1.4M170.2 396v1.4M170.2 440.7v-1.4M173.9 396v1.4M173.9 440.7v-1.4M177.6 396v1.4M177.6 440.7v-1.4M181.3 396v2.6M181.3 440.7v-2.6M185 396v1.4M185 440.7v-1.4M188.8 396v1.4M188.8 440.7v-1.4M192.5 396v1.4M192.5 440.7v-1.4M196.2 396v1.4M196.2 440.7v-1.4M199.9 396v2.6M199.9 440.7v-2.6M203.6 396v1.4M203.6 440.7v-1.4M207.3 396v1.4M207.3 440.7v-1.4M211.1 396v1.4M211.1 440.7v-1.4M214.8 396v1.4M214.8 440.7v-1.4M218.5 396v2.6M218.5 440.7v-2.6" stroke="#000" stroke-width="0.8" fill="none"/>
<path d="M120 409V426.8M123.7 407.8V428M131.1 417.2V440.1M134.8 411.6V440.1" stroke="#9ad89a" stroke-width="2" fill="none"/>
<path d="M34.5 408.3V415M33.7 408.3h1.6M33.7 415h1.6M38.2 419.7V423M37.4 419.7h1.6M37.4 423h1.6M41.9 420.4V423.7M41.1 420.4h1.6M41.1 423.7h1.6M45.6 416.6V419.9M44.8 416.6h1.6M44.8 419.9h1.6M49.3 416.6V419.9M48.5 416.6h1.6M48.5 419.9h1.6M53 416.6V419.9M52.2 416.6h1.6M52.2 419.9h1.6M56.8 413.3V417.8M56 413.3h1.6M56 417.8h1.6M60.5 416.3V420.8M59.7 416.3h1.6M59.7 420.8h1.6M64.2 415.7V420.1M63.4 415.7h1.6M63.4 420.1h1.6M67.9 416.7V421.1M67.1 416.7h1.6M67.1 421.1h1.6M71.6 412.5V419.2M70.8 412.5h1.6M70.8 419.2h1.6M75.4 417.3V424M74.6 417.3h1.6M74.6 424h1.6M79.1 415V421.7M78.3 415h1.6M78.3 421.7h1.6M82.8 416.1V423.9M82 416.1h1.6M82 423.9h1.6M86.5 415.6V424.5M85.7 415.6h1.6M85.7 424.5h1.6M90.2 412.3V421.3M89.4 412.3h1.6M89.4 421.3h1.6M93.9 404V415.2M93.1 404h1.6M93.1 415.2h1.6M97.7 414.4V425.6M96.9 414.4h1.6M96.9 425.6h1.6M101.4 401.9V415.3M100.6 401.9h1.6M100.6 415.3h1.6M105.1 415.1V428.5M104.3 415.1h1.6M104.3 428.5h1.6M108.8 419.8V433.2M108 419.8h1.6M108 433.2h1.6M116.3 412.9V428.5M115.5 412.9h1.6M115.5 428.5h1.6M127.4 402.8V427.4M126.6 402.8h1.6M126.6 427.4h1.6M138.6 407.4V440.1M137.8 407.4h1.6" stroke="#00a000" stroke-width="1" fill="none"/>
<path d="M32.6 411.6h3.7M36.3 421.4h3.7M40 422h3.7M43.8 418.2h3.7M47.5 418.2h3.7M51.2 418.2h3.7M54.9 415.6h3.7M58.6 418.6h3.7M62.3 417.9h3.7M66.1 418.9h3.7M69.8 415.9h3.7M73.5 420.7h3.7M77.2 418.4h3.7M80.9 420h3.7M84.7 420h3.7M88.4 416.8h3.7M92.1 409.6h3.7M95.8 420h3.7M99.5 408.6h3.7M103.2 421.8h3.7M107 426.5h3.7M114.4 420.7h3.7M118.1 417.9h3.7M121.8 417.9h3.7M125.5 415.1h3.7M129.3 430.6h3.7M133 431.8h3.7M136.7 429.7h3.7" stroke="#000" stroke-width="0.9" fill="none"/>
<circle cx="34.5" cy="411.6" r="1.3"/>
<circle cx="38.2" cy="421.4" r="1.3"/>
<circle cx="41.9" cy="422" r="1.3"/>
<circle cx="45.6" cy="418.2" r="1.3"/>
<circle cx="49.3" cy="418.2" r="1.3"/>
<circle cx="53" cy="418.2" r="1.3"/>
<circle cx="56.8" cy="415.6" r="1.3"/>
<circle cx="60.5" cy="418.6" r="1.3"/>
<circle cx="64.2" cy="417.9" r="1.3"/>
<circle cx="67.9" cy="418.9" r="1.3"/>
<circle cx="71.6" cy="415.9" r="1.3"/>
<circle cx="75.4" cy="420.7" r="1.3"/>
<circle cx="79.1" cy="418.4" r="1.3"/>
<circle cx="82.8" cy="420" r="1.3"/>
<circle cx="86.5" cy="420" r="1.3"/>
<circle cx="90.2" cy="416.8" r="1.3"/>
<circle cx="93.9" cy="409.6" r="1.3"/>
<circle cx="97.7" cy="420" r="1.3"/>
<circle cx="101.4" cy="408.6" r="1.3"/>
<circle cx="105.1" cy="421.8" r="1.3"/>
<circle cx="108.8" cy="426.5" r="1.3"/>
<circle cx="116.3" cy="420.7" r="1.3"/>
<circle cx="120" cy="417.9" r="1.3"/>
<circle cx="123.7" cy="417.9" r="1.3"/>
<circle cx="127.4" cy="415.1" r="1.3"/>
<circle cx="131.1" cy="430.6" r="1.3"/>
<circle cx="134.8" cy="431.8" r="1.3"/>
<circle cx="138.6" cy="429.7" r="1.3"/>
<rect x="32.6" y="396" width="185.9" height="44.7" fill="none" stroke="#000" stroke-width="0.95"/>
<text x="219.1" y="460" font-size="10.3" text-anchor="end" >Girth (GenJet, R=0.8)</text>
<text x="261.2" y="399.1" font-size="8.7" text-anchor="end">10<tspan font-size="5.8" dy="-3.6" dx="-0.3">&#8722;</tspan><tspan font-size="5.8" dx="0.2">5</tspan></text>
<text x="261.2" y="373.2" font-size="8.7" text-anchor="end">10<tspan font-size="5.8" dy="-3.6" dx="-0.3">&#8722;</tspan><tspan font-size="5.8" dx="0.2">4</tspan></text>
<text x="261.2" y="347.3" font-size="8.7" text-anchor="end">10<tspan font-size="5.8" dy="-3.6" dx="-0.3">&#8722;</tspan><tspan font-size="5.8" dx="0.2">3</tspan></text>
<text x="261.2" y="321.4" font-size="8.7" text-anchor="end">10<tspan font-size="5.8" dy="-3.6" dx="-0.3">&#8722;</tspan><tspan font-size="5.8" dx="0.2">2</tspan></text>
<text x="261.2" y="295.5" font-size="8.7" text-anchor="end">10<tspan font-size="5.8" dy="-3.6" dx="-0.3">&#8722;</tspan><tspan font-size="5.8" dx="0.2">1</tspan></text>
<text x="261.2" y="269.6" font-size="8.7" text-anchor="end" >1</text>
<text x="261.2" y="243.7" font-size="8.7" text-anchor="end" clip-path="url(#cl11)">10</text>
<path d="M262.6 396h6M448.6 396h-6M262.6 370.1h6M448.6 370.1h-6M262.6 344.2h6M448.6 344.2h-6M262.6 318.3h6M448.6 318.3h-6M262.6 292.4h6M448.6 292.4h-6M262.6 266.5h6M448.6 266.5h-6M262.6 240.6h6M448.6 240.6h-6" stroke="#000" stroke-width="0.9" fill="none"/>
<path d="M262.6 388.2h3M448.6 388.2h-3M262.6 383.6h3M448.6 383.6h-3M262.6 380.4h3M448.6 380.4h-3M262.6 377.9h3M448.6 377.9h-3M262.6 375.9h3M448.6 375.9h-3M262.6 374.1h3M448.6 374.1h-3M262.6 372.6h3M448.6 372.6h-3M262.6 371.3h3M448.6 371.3h-3M262.6 362.3h3M448.6 362.3h-3M262.6 357.8h3M448.6 357.8h-3M262.6 354.5h3M448.6 354.5h-3M262.6 352h3M448.6 352h-3M262.6 350h3M448.6 350h-3M262.6 348.2h3M448.6 348.2h-3M262.6 346.7h3M448.6 346.7h-3M262.6 345.4h3M448.6 345.4h-3M262.6 336.4h3M448.6 336.4h-3M262.6 331.9h3M448.6 331.9h-3M262.6 328.6h3M448.6 328.6h-3M262.6 326.1h3M448.6 326.1h-3M262.6 324.1h3M448.6 324.1h-3M262.6 322.3h3M448.6 322.3h-3M262.6 320.8h3M448.6 320.8h-3M262.6 319.5h3M448.6 319.5h-3M262.6 310.5h3M448.6 310.5h-3M262.6 306h3M448.6 306h-3M262.6 302.7h3M448.6 302.7h-3M262.6 300.2h3M448.6 300.2h-3M262.6 298.2h3M448.6 298.2h-3M262.6 296.4h3M448.6 296.4h-3M262.6 294.9h3M448.6 294.9h-3M262.6 293.6h3M448.6 293.6h-3M262.6 284.6h3M448.6 284.6h-3M262.6 280.1h3M448.6 280.1h-3M262.6 276.8h3M448.6 276.8h-3M262.6 274.3h3M448.6 274.3h-3M262.6 272.3h3M448.6 272.3h-3M262.6 270.5h3M448.6 270.5h-3M262.6 269h3M448.6 269h-3M262.6 267.7h3M448.6 267.7h-3M262.6 258.7h3M448.6 258.7h-3M262.6 254.2h3M448.6 254.2h-3M262.6 250.9h3M448.6 250.9h-3M262.6 248.4h3M448.6 248.4h-3M262.6 246.4h3M448.6 246.4h-3M262.6 244.7h3M448.6 244.7h-3M262.6 243.2h3M448.6 243.2h-3M262.6 241.8h3M448.6 241.8h-3M262.6 240.9v3.5M262.6 396v-3.5M266.3 240.9v1.8M266.3 396v-1.8M270 240.9v1.8M270 396v-1.8M273.8 240.9v1.8M273.8 396v-1.8M277.5 240.9v1.8M277.5 396v-1.8M281.2 240.9v3.5M281.2 396v-3.5M284.9 240.9v1.8M284.9 396v-1.8M288.6 240.9v1.8M288.6 396v-1.8M292.4 240.9v1.8M292.4 396v-1.8M296.1 240.9v1.8M296.1 396v-1.8M299.8 240.9v3.5M299.8 396v-3.5M303.5 240.9v1.8M303.5 396v-1.8M307.2 240.9v1.8M307.2 396v-1.8M311 240.9v1.8M311 396v-1.8M314.7 240.9v1.8M314.7 396v-1.8M318.4 240.9v3.5M318.4 396v-3.5M322.1 240.9v1.8M322.1 396v-1.8M325.8 240.9v1.8M325.8 396v-1.8M329.6 240.9v1.8M329.6 396v-1.8M333.3 240.9v1.8M333.3 396v-1.8M337 240.9v3.5M337 396v-3.5M340.7 240.9v1.8M340.7 396v-1.8M344.4 240.9v1.8M344.4 396v-1.8M348.2 240.9v1.8M348.2 396v-1.8M351.9 240.9v1.8M351.9 396v-1.8M355.6 240.9v3.5M355.6 396v-3.5M359.3 240.9v1.8M359.3 396v-1.8M363 240.9v1.8M363 396v-1.8M366.8 240.9v1.8M366.8 396v-1.8M370.5 240.9v1.8M370.5 396v-1.8M374.2 240.9v3.5M374.2 396v-3.5M377.9 240.9v1.8M377.9 396v-1.8M381.6 240.9v1.8M381.6 396v-1.8M385.4 240.9v1.8M385.4 396v-1.8M389.1 240.9v1.8M389.1 396v-1.8M392.8 240.9v3.5M392.8 396v-3.5M396.5 240.9v1.8M396.5 396v-1.8M400.2 240.9v1.8M400.2 396v-1.8M404 240.9v1.8M404 396v-1.8M407.7 240.9v1.8M407.7 396v-1.8M411.4 240.9v3.5M411.4 396v-3.5M415.1 240.9v1.8M415.1 396v-1.8M418.8 240.9v1.8M418.8 396v-1.8M422.6 240.9v1.8M422.6 396v-1.8M426.3 240.9v1.8M426.3 396v-1.8M430 240.9v3.5M430 396v-3.5M433.7 240.9v1.8M433.7 396v-1.8M437.4 240.9v1.8M437.4 396v-1.8M441.2 240.9v1.8M441.2 396v-1.8M444.9 240.9v1.8M444.9 396v-1.8M448.6 240.9v3.5M448.6 396v-3.5" stroke="#000" stroke-width="0.8" fill="none"/>
<path d="M262.6,315.1L266.3,315.1L266.3,292.8L270,292.8L270,292.5L273.8,292.5L273.8,292.2L277.5,292.2L277.5,292.5L281.2,292.5L281.2,293.5L284.9,293.5L284.9,295.4L288.6,295.4L288.6,297.6L292.4,297.6L292.4,299.8L296.1,299.8L296.1,302L299.8,302L299.8,303.9L303.5,303.9L303.5,305.9L307.2,305.9L307.2,308.3L311,308.3L311,310L314.7,310L314.7,311.5L318.4,311.5L318.4,313.2L322.1,313.2L322.1,314.7L325.8,314.7L325.8,316.2L329.6,316.2L329.6,318.1L333.3,318.1L333.3,319.1L337,319.1L337,320.5L340.7,320.5L340.7,322.4L344.4,322.4L344.4,324.2L348.2,324.2L348.2,326.8L351.9,326.8L351.9,328.6L355.6,328.6L355.6,332.5L359.3,332.5L359.3,338.5L363,338.5L363,345.5L366.8,345.5L366.8,357.5L370.5,357.5L370.5,359.4L374.2,359.4L374.2,374.6L377.9,374.6L377.9,390.3L381.6,390.3L381.6,399L385.4,399L385.4,399L389.1,399L389.1,399L392.8,399L392.8,399L396.5,399L396.5,399L400.2,399L400.2,399L404,399L404,399L407.7,399L407.7,399L411.4,399L411.4,399L415.1,399L415.1,399L418.8,399L418.8,399L422.6,399L422.6,399L426.3,399L426.3,399L430,399L430,399L433.7,399L433.7,399L437.4,399L437.4,399L441.2,399L441.2,399L444.9,399L444.9,399L448.6,399" fill="none" stroke="#a8a8a8" stroke-width="1.5"  clip-path="url(#cu11)"/>
<path d="M262.6,315.1L266.3,315.1L266.3,292.8L270,292.8L270,292.5L273.8,292.5L273.8,292.2L277.5,292.2L277.5,292.5L281.2,292.5L281.2,293.5L284.9,293.5L284.9,295.4L288.6,295.4L288.6,297.6L292.4,297.6L292.4,299.8L296.1,299.8L296.1,302L299.8,302L299.8,303.9L303.5,303.9L303.5,305.9L307.2,305.9L307.2,308.3L311,308.3L311,310L314.7,310L314.7,311.5L318.4,311.5L318.4,313.2L322.1,313.2L322.1,314.7L325.8,314.7L325.8,316.2L329.6,316.2L329.6,318.1L333.3,318.1L333.3,319.1L337,319.1L337,320.5L340.7,320.5L340.7,322.4L344.4,322.4L344.4,324.2L348.2,324.2L348.2,326.8L351.9,326.8L351.9,328.6L355.6,328.6L355.6,332.5L359.3,332.5L359.3,338.5L363,338.5L363,345.5L366.8,345.5L366.8,354.6L370.5,354.6L370.5,361.1L374.2,361.1L374.2,368.4L377.9,368.4L377.9,375L381.6,375L381.6,390.3L385.4,390.3L385.4,399L389.1,399L389.1,399L392.8,399L392.8,399L396.5,399L396.5,399L400.2,399L400.2,399L404,399L404,399L407.7,399L407.7,399L411.4,399L411.4,399L415.1,399L415.1,399L418.8,399L418.8,399L422.6,399L422.6,399L426.3,399L426.3,399L430,399L430,399L433.7,399L433.7,399L437.4,399L437.4,399L441.2,399L441.2,399L444.9,399L444.9,399L448.6,399" fill="none" stroke="#ff5a5a" stroke-width="1.3" stroke-dasharray="2.6 1.7" clip-path="url(#cu11)"/>
<rect x="262.6" y="240.9" width="186" height="155.1" fill="none" stroke="#000" stroke-width="0.95"/>
<text x="290.4" y="256.1" font-size="11.5" text-anchor="start" >Old py 8</text>
<line x1="354.8" y1="260.9" x2="370" y2="260.9" stroke="#ff5a5a" stroke-width="1.3" stroke-dasharray="2.2 1.6"/>
<text x="373.8" y="256.1" font-size="11.5" text-anchor="start" >New py 8</text>
<text x="290.4" y="271.1" font-size="11.5">2</text>
<text x="300.1" y="271.1" font-size="10" font-style="italic">&#960;</text>
<text x="306.1" y="274.3" font-size="8">D</text>
<text x="314.9" y="271.1" font-size="11.5">decay</text>
<text x="373.8" y="271.1" font-size="11.5">2</text>
<text x="383.5" y="271.1" font-size="10" font-style="italic">&#960;</text>
<text x="389.5" y="274.3" font-size="8">D</text>
<text x="398.3" y="271.1" font-size="11.5">decay</text>
<text transform="translate(240.9,266.2) rotate(-90)" font-size="10.9">N<tspan font-size="7.6" dy="2.6">Jets</tspan></text>
<path d="M272.4 260.9h14.4" stroke="#a8a8a8" stroke-width="1.5" fill="none"/>
<rect x="222.6" y="396" width="231" height="45.3" fill="#fff"/>
<text x="260.8" y="442.8" font-size="5.9" text-anchor="end" >0.8</text>
<text x="260.8" y="437.2" font-size="5.9" text-anchor="end" >0.85</text>
<text x="260.8" y="431.6" font-size="5.9" text-anchor="end" >0.9</text>
<text x="260.8" y="426" font-size="5.9" text-anchor="end" >0.95</text>
<text x="260.8" y="420.5" font-size="5.9" text-anchor="end" >1</text>
<text x="260.8" y="414.9" font-size="5.9" text-anchor="end" >1.05</text>
<text x="260.8" y="409.3" font-size="5.9" text-anchor="end" >1.1</text>
<text x="260.8" y="403.7" font-size="5.9" text-anchor="end" >1.15</text>
<path d="M263.9 396V440.7M447.3 396V440.7" stroke="#8a8a8a" stroke-width="1.6" fill="none"/>
<text x="262.6" y="448" font-size="8.9" text-anchor="middle" >0</text>
<text x="281.2" y="448" font-size="8.9" text-anchor="middle" >0.1</text>
<text x="299.8" y="448" font-size="8.9" text-anchor="middle" >0.2</text>
<text x="318.4" y="448" font-size="8.9" text-anchor="middle" >0.3</text>
<text x="337" y="448" font-size="8.9" text-anchor="middle" >0.4</text>
<text x="355.6" y="448" font-size="8.9" text-anchor="middle" >0.5</text>
<text x="374.2" y="448" font-size="8.9" text-anchor="middle" >0.6</text>
<text x="392.8" y="448" font-size="8.9" text-anchor="middle" >0.7</text>
<text x="411.4" y="448" font-size="8.9" text-anchor="middle" >0.8</text>
<text x="430" y="448" font-size="8.9" text-anchor="middle" >0.9</text>
<text x="448.6" y="448" font-size="8.9" text-anchor="middle" >1</text>
<line x1="262.6" y1="418.5" x2="448.6" y2="418.5" stroke="#000" stroke-width="0.9" stroke-dasharray="1.4 1.4"/>
<path d="M262.6 440.7h4M448.6 440.7h-4M262.6 435.1h4M448.6 435.1h-4M262.6 429.5h4M448.6 429.5h-4M262.6 423.9h4M448.6 423.9h-4M262.6 418.4h4M448.6 418.4h-4M262.6 412.8h4M448.6 412.8h-4M262.6 407.2h4M448.6 407.2h-4M262.6 401.6h4M448.6 401.6h-4M262.6 396h4M448.6 396h-4M262.6 396v2.6M262.6 440.7v-2.6M266.3 396v1.4M266.3 440.7v-1.4M270 396v1.4M270 440.7v-1.4M273.8 396v1.4M273.8 440.7v-1.4M277.5 396v1.4M277.5 440.7v-1.4M281.2 396v2.6M281.2 440.7v-2.6M284.9 396v1.4M284.9 440.7v-1.4M288.6 396v1.4M288.6 440.7v-1.4M292.4 396v1.4M292.4 440.7v-1.4M296.1 396v1.4M296.1 440.7v-1.4M299.8 396v2.6M299.8 440.7v-2.6M303.5 396v1.4M303.5 440.7v-1.4M307.2 396v1.4M307.2 440.7v-1.4M311 396v1.4M311 440.7v-1.4M314.7 396v1.4M314.7 440.7v-1.4M318.4 396v2.6M318.4 440.7v-2.6M322.1 396v1.4M322.1 440.7v-1.4M325.8 396v1.4M325.8 440.7v-1.4M329.6 396v1.4M329.6 440.7v-1.4M333.3 396v1.4M333.3 440.7v-1.4M337 396v2.6M337 440.7v-2.6M340.7 396v1.4M340.7 440.7v-1.4M344.4 396v1.4M344.4 440.7v-1.4M348.2 396v1.4M348.2 440.7v-1.4M351.9 396v1.4M351.9 440.7v-1.4M355.6 396v2.6M355.6 440.7v-2.6M359.3 396v1.4M359.3 440.7v-1.4M363 396v1.4M363 440.7v-1.4M366.8 396v1.4M366.8 440.7v-1.4M370.5 396v1.4M370.5 440.7v-1.4M374.2 396v2.6M374.2 440.7v-2.6M377.9 396v1.4M377.9 440.7v-1.4M381.6 396v1.4M381.6 440.7v-1.4M385.4 396v1.4M385.4 440.7v-1.4M389.1 396v1.4M389.1 440.7v-1.4M392.8 396v2.6M392.8 440.7v-2.6M396.5 396v1.4M396.5 440.7v-1.4M400.2 396v1.4M400.2 440.7v-1.4M404 396v1.4M404 440.7v-1.4M407.7 396v1.4M407.7 440.7v-1.4M411.4 396v2.6M411.4 440.7v-2.6M415.1 396v1.4M415.1 440.7v-1.4M418.8 396v1.4M418.8 440.7v-1.4M422.6 396v1.4M422.6 440.7v-1.4M426.3 396v1.4M426.3 440.7v-1.4M430 396v2.6M430 440.7v-2.6M433.7 396v1.4M433.7 440.7v-1.4M437.4 396v1.4M437.4 440.7v-1.4M441.2 396v1.4M441.2 440.7v-1.4M444.9 396v1.4M444.9 440.7v-1.4M448.6 396v2.6M448.6 440.7v-2.6" stroke="#000" stroke-width="0.8" fill="none"/>
<path d="M264.5 415.2V421.9M263.7 415.2h1.6M263.7 421.9h1.6M268.2 417.3V420.7M267.4 417.3h1.6M267.4 420.7h1.6M271.9 417.9V421.3M271.1 417.9h1.6M271.1 421.3h1.6M275.6 416.2V419.6M274.8 416.2h1.6M274.8 419.6h1.6M279.3 416.7V420M278.5 416.7h1.6M278.5 420h1.6M283.1 416V419.4M282.3 416h1.6M282.3 419.4h1.6M286.8 416.7V420M286 416.7h1.6M286 420h1.6M290.5 413.9V417.2M289.7 413.9h1.6M289.7 417.2h1.6M294.2 419V422.4M293.4 419h1.6M293.4 422.4h1.6M297.9 418.5V422.9M297.1 418.5h1.6M297.1 422.9h1.6M301.7 419.8V424.3M300.9 419.8h1.6M300.9 424.3h1.6M305.4 415.1V420.7M304.6 415.1h1.6M304.6 420.7h1.6M309.1 415.1V420.7M308.3 415.1h1.6M308.3 420.7h1.6M312.8 417.3V424M312 417.3h1.6M312 424h1.6M316.5 413.9V420.6M315.7 413.9h1.6M315.7 420.6h1.6M320.3 413.3V421.1M319.5 413.3h1.6M319.5 421.1h1.6M324 409.9V417.7M323.2 409.9h1.6M323.2 417.7h1.6M327.7 415.6V424.5M326.9 415.6h1.6M326.9 424.5h1.6M331.4 413.4V422.4M330.6 413.4h1.6M330.6 422.4h1.6M335.1 408.7V418.8M334.3 408.7h1.6M334.3 418.8h1.6M338.9 410.1V420.1M338.1 410.1h1.6M338.1 420.1h1.6M342.6 412.1V423.3M341.8 412.1h1.6M341.8 423.3h1.6M346.3 403.2V416.6M345.5 403.2h1.6M345.5 416.6h1.6M350 404.7V418.1M349.2 404.7h1.6M349.2 418.1h1.6M353.7 407.6V423.3M352.9 407.6h1.6M352.9 423.3h1.6M357.5 404.2V422M356.7 404.2h1.6M356.7 422h1.6M361.2 400.2V422.6M360.4 400.2h1.6M360.4 422.6h1.6M364.9 399.1V430.4M364.1 399.1h1.6M364.1 430.4h1.6M372.3 408.9V440.1M371.5 408.9h1.6M387.2 396.6V440.1" stroke="#ff5a5a" stroke-width="1" fill="none"/>
<path d="M262.6 418.6h3.7M266.3 419h3.7M270 419.6h3.7M273.8 417.9h3.7M277.5 418.4h3.7M281.2 417.7h3.7M284.9 418.4h3.7M288.6 415.6h3.7M292.4 420.7h3.7M296.1 420.7h3.7M299.8 422h3.7M303.5 417.9h3.7M307.2 417.9h3.7M311 420.7h3.7M314.7 417.2h3.7M318.4 417.2h3.7M322.1 413.8h3.7M325.8 420h3.7M329.6 417.9h3.7M333.3 413.8h3.7M337 415.1h3.7M340.7 417.7h3.7M344.4 409.9h3.7M348.2 411.4h3.7M351.9 415.4h3.7M355.6 413.1h3.7M359.3 411.4h3.7M363 414.8h3.7M370.5 434.6h3.7M385.4 419.6h3.7" stroke="#000" stroke-width="0.9" fill="none"/>
<circle cx="264.5" cy="418.6" r="1.3"/>
<circle cx="268.2" cy="419" r="1.3"/>
<circle cx="271.9" cy="419.6" r="1.3"/>
<circle cx="275.6" cy="417.9" r="1.3"/>
<circle cx="279.3" cy="418.4" r="1.3"/>
<circle cx="283.1" cy="417.7" r="1.3"/>
<circle cx="286.8" cy="418.4" r="1.3"/>
<circle cx="290.5" cy="415.6" r="1.3"/>
<circle cx="294.2" cy="420.7" r="1.3"/>
<circle cx="297.9" cy="420.7" r="1.3"/>
<circle cx="301.7" cy="422" r="1.3"/>
<circle cx="305.4" cy="417.9" r="1.3"/>
<circle cx="309.1" cy="417.9" r="1.3"/>
<circle cx="312.8" cy="420.7" r="1.3"/>
<circle cx="316.5" cy="417.2" r="1.3"/>
<circle cx="320.3" cy="417.2" r="1.3"/>
<circle cx="324" cy="413.8" r="1.3"/>
<circle cx="327.7" cy="420" r="1.3"/>
<circle cx="331.4" cy="417.9" r="1.3"/>
<circle cx="335.1" cy="413.8" r="1.3"/>
<circle cx="338.9" cy="415.1" r="1.3"/>
<circle cx="342.6" cy="417.7" r="1.3"/>
<circle cx="346.3" cy="409.9" r="1.3"/>
<circle cx="350" cy="411.4" r="1.3"/>
<circle cx="353.7" cy="415.4" r="1.3"/>
<circle cx="357.5" cy="413.1" r="1.3"/>
<circle cx="361.2" cy="411.4" r="1.3"/>
<circle cx="364.9" cy="414.8" r="1.3"/>
<circle cx="372.3" cy="434.6" r="1.3"/>
<circle cx="387.2" cy="419.6" r="1.3"/>
<rect x="262.6" y="396" width="186" height="44.7" fill="none" stroke="#000" stroke-width="0.95"/>
<text x="449.2" y="460" font-size="10.3" text-anchor="end" >Girth (GenJet, R=0.8)</text>
<text x="491.2" y="399.1" font-size="8.7" text-anchor="end">10<tspan font-size="5.8" dy="-3.6" dx="-0.3">&#8722;</tspan><tspan font-size="5.8" dx="0.2">5</tspan></text>
<text x="491.2" y="373.2" font-size="8.7" text-anchor="end">10<tspan font-size="5.8" dy="-3.6" dx="-0.3">&#8722;</tspan><tspan font-size="5.8" dx="0.2">4</tspan></text>
<text x="491.2" y="347.3" font-size="8.7" text-anchor="end">10<tspan font-size="5.8" dy="-3.6" dx="-0.3">&#8722;</tspan><tspan font-size="5.8" dx="0.2">3</tspan></text>
<text x="491.2" y="321.4" font-size="8.7" text-anchor="end">10<tspan font-size="5.8" dy="-3.6" dx="-0.3">&#8722;</tspan><tspan font-size="5.8" dx="0.2">2</tspan></text>
<text x="491.2" y="295.5" font-size="8.7" text-anchor="end">10<tspan font-size="5.8" dy="-3.6" dx="-0.3">&#8722;</tspan><tspan font-size="5.8" dx="0.2">1</tspan></text>
<text x="491.2" y="269.6" font-size="8.7" text-anchor="end" >1</text>
<text x="491.2" y="243.7" font-size="8.7" text-anchor="end" clip-path="url(#cl12)">10</text>
<path d="M492.6 396h6M679.2 396h-6M492.6 370.1h6M679.2 370.1h-6M492.6 344.2h6M679.2 344.2h-6M492.6 318.3h6M679.2 318.3h-6M492.6 292.4h6M679.2 292.4h-6M492.6 266.5h6M679.2 266.5h-6M492.6 240.6h6M679.2 240.6h-6" stroke="#000" stroke-width="0.9" fill="none"/>
<path d="M492.6 388.2h3M679.2 388.2h-3M492.6 383.6h3M679.2 383.6h-3M492.6 380.4h3M679.2 380.4h-3M492.6 377.9h3M679.2 377.9h-3M492.6 375.9h3M679.2 375.9h-3M492.6 374.1h3M679.2 374.1h-3M492.6 372.6h3M679.2 372.6h-3M492.6 371.3h3M679.2 371.3h-3M492.6 362.3h3M679.2 362.3h-3M492.6 357.8h3M679.2 357.8h-3M492.6 354.5h3M679.2 354.5h-3M492.6 352h3M679.2 352h-3M492.6 350h3M679.2 350h-3M492.6 348.2h3M679.2 348.2h-3M492.6 346.7h3M679.2 346.7h-3M492.6 345.4h3M679.2 345.4h-3M492.6 336.4h3M679.2 336.4h-3M492.6 331.9h3M679.2 331.9h-3M492.6 328.6h3M679.2 328.6h-3M492.6 326.1h3M679.2 326.1h-3M492.6 324.1h3M679.2 324.1h-3M492.6 322.3h3M679.2 322.3h-3M492.6 320.8h3M679.2 320.8h-3M492.6 319.5h3M679.2 319.5h-3M492.6 310.5h3M679.2 310.5h-3M492.6 306h3M679.2 306h-3M492.6 302.7h3M679.2 302.7h-3M492.6 300.2h3M679.2 300.2h-3M492.6 298.2h3M679.2 298.2h-3M492.6 296.4h3M679.2 296.4h-3M492.6 294.9h3M679.2 294.9h-3M492.6 293.6h3M679.2 293.6h-3M492.6 284.6h3M679.2 284.6h-3M492.6 280.1h3M679.2 280.1h-3M492.6 276.8h3M679.2 276.8h-3M492.6 274.3h3M679.2 274.3h-3M492.6 272.3h3M679.2 272.3h-3M492.6 270.5h3M679.2 270.5h-3M492.6 269h3M679.2 269h-3M492.6 267.7h3M679.2 267.7h-3M492.6 258.7h3M679.2 258.7h-3M492.6 254.2h3M679.2 254.2h-3M492.6 250.9h3M679.2 250.9h-3M492.6 248.4h3M679.2 248.4h-3M492.6 246.4h3M679.2 246.4h-3M492.6 244.7h3M679.2 244.7h-3M492.6 243.2h3M679.2 243.2h-3M492.6 241.8h3M679.2 241.8h-3M492.6 240.9v3.5M492.6 396v-3.5M496.3 240.9v1.8M496.3 396v-1.8M500.1 240.9v1.8M500.1 396v-1.8M503.8 240.9v1.8M503.8 396v-1.8M507.5 240.9v1.8M507.5 396v-1.8M511.3 240.9v3.5M511.3 396v-3.5M515 240.9v1.8M515 396v-1.8M518.7 240.9v1.8M518.7 396v-1.8M522.5 240.9v1.8M522.5 396v-1.8M526.2 240.9v1.8M526.2 396v-1.8M529.9 240.9v3.5M529.9 396v-3.5M533.7 240.9v1.8M533.7 396v-1.8M537.4 240.9v1.8M537.4 396v-1.8M541.1 240.9v1.8M541.1 396v-1.8M544.8 240.9v1.8M544.8 396v-1.8M548.6 240.9v3.5M548.6 396v-3.5M552.3 240.9v1.8M552.3 396v-1.8M556 240.9v1.8M556 396v-1.8M559.8 240.9v1.8M559.8 396v-1.8M563.5 240.9v1.8M563.5 396v-1.8M567.2 240.9v3.5M567.2 396v-3.5M571 240.9v1.8M571 396v-1.8M574.7 240.9v1.8M574.7 396v-1.8M578.4 240.9v1.8M578.4 396v-1.8M582.2 240.9v1.8M582.2 396v-1.8M585.9 240.9v3.5M585.9 396v-3.5M589.6 240.9v1.8M589.6 396v-1.8M593.4 240.9v1.8M593.4 396v-1.8M597.1 240.9v1.8M597.1 396v-1.8M600.8 240.9v1.8M600.8 396v-1.8M604.6 240.9v3.5M604.6 396v-3.5M608.3 240.9v1.8M608.3 396v-1.8M612 240.9v1.8M612 396v-1.8M615.8 240.9v1.8M615.8 396v-1.8M619.5 240.9v1.8M619.5 396v-1.8M623.2 240.9v3.5M623.2 396v-3.5M627 240.9v1.8M627 396v-1.8M630.7 240.9v1.8M630.7 396v-1.8M634.4 240.9v1.8M634.4 396v-1.8M638.1 240.9v1.8M638.1 396v-1.8M641.9 240.9v3.5M641.9 396v-3.5M645.6 240.9v1.8M645.6 396v-1.8M649.3 240.9v1.8M649.3 396v-1.8M653.1 240.9v1.8M653.1 396v-1.8M656.8 240.9v1.8M656.8 396v-1.8M660.5 240.9v3.5M660.5 396v-3.5M664.3 240.9v1.8M664.3 396v-1.8M668 240.9v1.8M668 396v-1.8M671.7 240.9v1.8M671.7 396v-1.8M675.5 240.9v1.8M675.5 396v-1.8M679.2 240.9v3.5M679.2 396v-3.5" stroke="#000" stroke-width="0.8" fill="none"/>
<path d="M492.6,320L496.3,320L496.3,299.1L500.1,299.1L500.1,296.2L503.8,296.2L503.8,294L507.5,294L507.5,292.5L511.3,292.5L511.3,292.2L515,292.2L515,293.2L518.7,293.2L518.7,294.7L522.5,294.7L522.5,296.6L526.2,296.6L526.2,298.6L529.9,298.6L529.9,300.5L533.7,300.5L533.7,302.7L537.4,302.7L537.4,304.9L541.1,304.9L541.1,306.8L544.8,306.8L544.8,308.6L548.6,308.6L548.6,310.5L552.3,310.5L552.3,312.2L556,312.2L556,314.1L559.8,314.1L559.8,315.9L563.5,315.9L563.5,317.3L567.2,317.3L567.2,318.8L571,318.8L571,320.5L574.7,320.5L574.7,322.4L578.4,322.4L578.4,324.6L582.2,324.6L582.2,327.6L585.9,327.6L585.9,330.8L589.6,330.8L589.6,337L593.4,337L593.4,343.2L597.1,343.2L597.1,351.2L600.8,351.2L600.8,358.2L604.6,358.2L604.6,368.4L608.3,368.4L608.3,379.4L612,379.4L612,399L615.8,399L615.8,387.1L619.5,387.1L619.5,399L623.2,399L623.2,399L627,399L627,399L630.7,399L630.7,399L634.4,399L634.4,399L638.1,399L638.1,399L641.9,399L641.9,399L645.6,399L645.6,399L649.3,399L649.3,399L653.1,399L653.1,399L656.8,399L656.8,399L660.5,399L660.5,399L664.3,399L664.3,399L668,399L668,399L671.7,399L671.7,399L675.5,399L675.5,399L679.2,399" fill="none" stroke="#a8a8a8" stroke-width="1.5"  clip-path="url(#cu12)"/>
<path d="M492.6,320L496.3,320L496.3,299.1L500.1,299.1L500.1,296.2L503.8,296.2L503.8,294L507.5,294L507.5,292.5L511.3,292.5L511.3,292.2L515,292.2L515,293.2L518.7,293.2L518.7,294.7L522.5,294.7L522.5,296.6L526.2,296.6L526.2,298.6L529.9,298.6L529.9,300.5L533.7,300.5L533.7,302.7L537.4,302.7L537.4,304.9L541.1,304.9L541.1,306.8L544.8,306.8L544.8,308.6L548.6,308.6L548.6,310.5L552.3,310.5L552.3,312.2L556,312.2L556,314.1L559.8,314.1L559.8,315.9L563.5,315.9L563.5,317.3L567.2,317.3L567.2,318.8L571,318.8L571,320.5L574.7,320.5L574.7,322.4L578.4,322.4L578.4,324.6L582.2,324.6L582.2,327.6L585.9,327.6L585.9,330.8L589.6,330.8L589.6,337L593.4,337L593.4,343.2L597.1,343.2L597.1,351.2L600.8,351.2L600.8,358.2L604.6,358.2L604.6,367.7L608.3,367.7L608.3,374.3L612,374.3L612,387L615.8,387L615.8,399L619.5,399L619.5,399L623.2,399L623.2,399L627,399L627,399L630.7,399L630.7,399L634.4,399L634.4,399L638.1,399L638.1,399L641.9,399L641.9,399L645.6,399L645.6,399L649.3,399L649.3,399L653.1,399L653.1,399L656.8,399L656.8,399L660.5,399L660.5,399L664.3,399L664.3,399L668,399L668,399L671.7,399L671.7,399L675.5,399L675.5,399L679.2,399" fill="none" stroke="#3399ff" stroke-width="1.3" stroke-dasharray="2.6 1.7" clip-path="url(#cu12)"/>
<rect x="492.6" y="240.9" width="186.6" height="155.1" fill="none" stroke="#000" stroke-width="0.95"/>
<text x="520.4" y="256.1" font-size="11.5" text-anchor="start" >Old py 8</text>
<line x1="584.8" y1="260.9" x2="600" y2="260.9" stroke="#3399ff" stroke-width="1.3" stroke-dasharray="2.2 1.6"/>
<text x="603.8" y="256.1" font-size="11.5" text-anchor="start" >New py 8</text>
<text x="520.4" y="271.1" font-size="11.5">3</text>
<text x="530.1" y="271.1" font-size="10" font-style="italic">&#960;</text>
<text x="536.1" y="274.3" font-size="8">D</text>
<text x="544.9" y="271.1" font-size="11.5">decay</text>
<text x="603.8" y="271.1" font-size="11.5">3</text>
<text x="613.5" y="271.1" font-size="10" font-style="italic">&#960;</text>
<text x="619.5" y="274.3" font-size="8">D</text>
<text x="628.3" y="271.1" font-size="11.5">decay</text>
<text transform="translate(470.9,266.2) rotate(-90)" font-size="10.9">N<tspan font-size="7.6" dy="2.6">Jets</tspan></text>
<path d="M502.4 260.9h14.4" stroke="#a8a8a8" stroke-width="1.5" fill="none"/>
<rect x="452.6" y="396" width="231.6" height="45.3" fill="#fff"/>
<text x="490.8" y="442.8" font-size="5.9" text-anchor="end" >0.8</text>
<text x="490.8" y="437.2" font-size="5.9" text-anchor="end" >0.85</text>
<text x="490.8" y="431.6" font-size="5.9" text-anchor="end" >0.9</text>
<text x="490.8" y="426" font-size="5.9" text-anchor="end" >0.95</text>
<text x="490.8" y="420.5" font-size="5.9" text-anchor="end" >1</text>
<text x="490.8" y="414.9" font-size="5.9" text-anchor="end" >1.05</text>
<text x="490.8" y="409.3" font-size="5.9" text-anchor="end" >1.1</text>
<text x="490.8" y="403.7" font-size="5.9" text-anchor="end" >1.15</text>
<path d="M493.9 396V440.7M677.9 396V440.7" stroke="#8a8a8a" stroke-width="1.6" fill="none"/>
<text x="492.6" y="448" font-size="8.9" text-anchor="middle" >0</text>
<text x="511.3" y="448" font-size="8.9" text-anchor="middle" >0.1</text>
<text x="529.9" y="448" font-size="8.9" text-anchor="middle" >0.2</text>
<text x="548.6" y="448" font-size="8.9" text-anchor="middle" >0.3</text>
<text x="567.2" y="448" font-size="8.9" text-anchor="middle" >0.4</text>
<text x="585.9" y="448" font-size="8.9" text-anchor="middle" >0.5</text>
<text x="604.6" y="448" font-size="8.9" text-anchor="middle" >0.6</text>
<text x="623.2" y="448" font-size="8.9" text-anchor="middle" >0.7</text>
<text x="641.9" y="448" font-size="8.9" text-anchor="middle" >0.8</text>
<text x="660.5" y="448" font-size="8.9" text-anchor="middle" >0.9</text>
<text x="679.2" y="448" font-size="8.9" text-anchor="middle" >1</text>
<line x1="492.6" y1="418.5" x2="679.2" y2="418.5" stroke="#000" stroke-width="0.9" stroke-dasharray="1.4 1.4"/>
<path d="M492.6 440.7h4M679.2 440.7h-4M492.6 435.1h4M679.2 435.1h-4M492.6 429.5h4M679.2 429.5h-4M492.6 423.9h4M679.2 423.9h-4M492.6 418.4h4M679.2 418.4h-4M492.6 412.8h4M679.2 412.8h-4M492.6 407.2h4M679.2 407.2h-4M492.6 401.6h4M679.2 401.6h-4M492.6 396h4M679.2 396h-4M492.6 396v2.6M492.6 440.7v-2.6M496.3 396v1.4M496.3 440.7v-1.4M500.1 396v1.4M500.1 440.7v-1.4M503.8 396v1.4M503.8 440.7v-1.4M507.5 396v1.4M507.5 440.7v-1.4M511.3 396v2.6M511.3 440.7v-2.6M515 396v1.4M515 440.7v-1.4M518.7 396v1.4M518.7 440.7v-1.4M522.5 396v1.4M522.5 440.7v-1.4M526.2 396v1.4M526.2 440.7v-1.4M529.9 396v2.6M529.9 440.7v-2.6M533.7 396v1.4M533.7 440.7v-1.4M537.4 396v1.4M537.4 440.7v-1.4M541.1 396v1.4M541.1 440.7v-1.4M544.8 396v1.4M544.8 440.7v-1.4M548.6 396v2.6M548.6 440.7v-2.6M552.3 396v1.4M552.3 440.7v-1.4M556 396v1.4M556 440.7v-1.4M559.8 396v1.4M559.8 440.7v-1.4M563.5 396v1.4M563.5 440.7v-1.4M567.2 396v2.6M567.2 440.7v-2.6M571 396v1.4M571 440.7v-1.4M574.7 396v1.4M574.7 440.7v-1.4M578.4 396v1.4M578.4 440.7v-1.4M582.2 396v1.4M582.2 440.7v-1.4M585.9 396v2.6M585.9 440.7v-2.6M589.6 396v1.4M589.6 440.7v-1.4M593.4 396v1.4M593.4 440.7v-1.4M597.1 396v1.4M597.1 440.7v-1.4M600.8 396v1.4M600.8 440.7v-1.4M604.6 396v2.6M604.6 440.7v-2.6M608.3 396v1.4M608.3 440.7v-1.4M612 396v1.4M612 440.7v-1.4M615.8 396v1.4M615.8 440.7v-1.4M619.5 396v1.4M619.5 440.7v-1.4M623.2 396v2.6M623.2 440.7v-2.6M627 396v1.4M627 440.7v-1.4M630.7 396v1.4M630.7 440.7v-1.4M634.4 396v1.4M634.4 440.7v-1.4M638.1 396v1.4M638.1 440.7v-1.4M641.9 396v2.6M641.9 440.7v-2.6M645.6 396v1.4M645.6 440.7v-1.4M649.3 396v1.4M649.3 440.7v-1.4M653.1 396v1.4M653.1 440.7v-1.4M656.8 396v1.4M656.8 440.7v-1.4M660.5 396v2.6M660.5 440.7v-2.6M664.3 396v1.4M664.3 440.7v-1.4M668 396v1.4M668 440.7v-1.4M671.7 396v1.4M671.7 440.7v-1.4M675.5 396v1.4M675.5 440.7v-1.4M679.2 396v2.6M679.2 440.7v-2.6" stroke="#000" stroke-width="0.8" fill="none"/>
<path d="M599 412.4V440.1" stroke="#a8d0ff" stroke-width="2" fill="none"/>
<path d="M494.5 406.3V415.2M493.7 406.3h1.6M493.7 415.2h1.6M498.2 414.9V418.2M497.4 414.9h1.6M497.4 418.2h1.6M501.9 417.7V421M501.1 417.7h1.6M501.1 421h1.6M505.7 416.2V419.6M504.9 416.2h1.6M504.9 419.6h1.6M509.4 417.9V421.3M508.6 417.9h1.6M508.6 421.3h1.6M513.1 415.6V418.9M512.3 415.6h1.6M512.3 418.9h1.6M516.9 415.9V419.2M516.1 415.9h1.6M516.1 419.2h1.6M520.6 417.7V421M519.8 417.7h1.6M519.8 421h1.6M524.3 418.4V421.7M523.5 418.4h1.6M523.5 421.7h1.6M528.1 419V422.4M527.3 419h1.6M527.3 422.4h1.6M531.8 417.2V420.6M531 417.2h1.6M531 420.6h1.6M535.5 417.7V421M534.7 417.7h1.6M534.7 421h1.6M539.2 415.7V420.1M538.5 415.7h1.6M538.5 420.1h1.6M543 419.1V423.6M542.2 419.1h1.6M542.2 423.6h1.6M546.7 418.5V422.9M545.9 418.5h1.6M545.9 422.9h1.6M550.4 409.6V415.2M549.6 409.6h1.6M549.6 415.2h1.6M554.2 415.2V421.9M553.4 415.2h1.6M553.4 421.9h1.6M557.9 416V422.7M557.1 416h1.6M557.1 422.7h1.6M561.6 414.4V422.3M560.8 414.4h1.6M560.8 422.3h1.6M565.4 414.7V422.5M564.6 414.7h1.6M564.6 422.5h1.6M569.1 412.8V421.7M568.3 412.8h1.6M568.3 421.7h1.6M572.8 408.3V417.2M572 408.3h1.6M572 417.2h1.6M576.6 410.3V419.2M575.8 410.3h1.6M575.8 419.2h1.6M580.3 398.5V409.6M579.5 398.5h1.6M579.5 409.6h1.6M584 404V415.2M583.2 404h1.6M583.2 415.2h1.6M587.8 416.5V429.9M587 416.5h1.6M587 429.9h1.6M591.5 409V426.8M590.7 409h1.6M590.7 426.8h1.6M595.2 403.3V425.6M594.4 403.3h1.6M594.4 425.6h1.6M602.7 403.4V440.1M601.9 403.4h1.6M606.4 396.6V440.1" stroke="#3399ff" stroke-width="1" fill="none"/>
<path d="M492.6 410.8h3.7M496.3 416.6h3.7M500.1 419.4h3.7M503.8 417.9h3.7M507.5 419.6h3.7M511.3 417.2h3.7M515 417.6h3.7M518.7 419.4h3.7M522.5 420h3.7M526.2 420.7h3.7M529.9 418.9h3.7M533.7 419.4h3.7M537.4 417.9h3.7M541.1 421.4h3.7M544.8 420.7h3.7M548.6 412.4h3.7M552.3 418.6h3.7M556 419.4h3.7M559.8 418.4h3.7M563.5 418.6h3.7M567.2 417.2h3.7M571 412.8h3.7M574.7 414.8h3.7M578.4 404h3.7M582.2 409.6h3.7M585.9 423.2h3.7M589.6 417.9h3.7M593.4 414.4h3.7M597.1 427h3.7M600.8 423.5h3.7M604.6 400.6h3.7" stroke="#000" stroke-width="0.9" fill="none"/>
<circle cx="494.5" cy="410.8" r="1.3"/>
<circle cx="498.2" cy="416.6" r="1.3"/>
<circle cx="501.9" cy="419.4" r="1.3"/>
<circle cx="505.7" cy="417.9" r="1.3"/>
<circle cx="509.4" cy="419.6" r="1.3"/>
<circle cx="513.1" cy="417.2" r="1.3"/>
<circle cx="516.9" cy="417.6" r="1.3"/>
<circle cx="520.6" cy="419.4" r="1.3"/>
<circle cx="524.3" cy="420" r="1.3"/>
<circle cx="528.1" cy="420.7" r="1.3"/>
<circle cx="531.8" cy="418.9" r="1.3"/>
<circle cx="535.5" cy="419.4" r="1.3"/>
<circle cx="539.2" cy="417.9" r="1.3"/>
<circle cx="543" cy="421.4" r="1.3"/>
<circle cx="546.7" cy="420.7" r="1.3"/>
<circle cx="550.4" cy="412.4" r="1.3"/>
<circle cx="554.2" cy="418.6" r="1.3"/>
<circle cx="557.9" cy="419.4" r="1.3"/>
<circle cx="561.6" cy="418.4" r="1.3"/>
<circle cx="565.4" cy="418.6" r="1.3"/>
<circle cx="569.1" cy="417.2" r="1.3"/>
<circle cx="572.8" cy="412.8" r="1.3"/>
<circle cx="576.6" cy="414.8" r="1.3"/>
<circle cx="580.3" cy="404" r="1.3"/>
<circle cx="584" cy="409.6" r="1.3"/>
<circle cx="587.8" cy="423.2" r="1.3"/>
<circle cx="591.5" cy="417.9" r="1.3"/>
<circle cx="595.2" cy="414.4" r="1.3"/>
<circle cx="599" cy="427" r="1.3"/>
<circle cx="602.7" cy="423.5" r="1.3"/>
<circle cx="606.4" cy="400.6" r="1.3"/>
<rect x="492.6" y="396" width="186.6" height="44.7" fill="none" stroke="#000" stroke-width="0.95"/>
<text x="679.8" y="460" font-size="10.3" text-anchor="end" >Girth (GenJet, R=0.8)</text>
<text x="31.2" y="632.9" font-size="8.7" text-anchor="end">10<tspan font-size="5.8" dy="-3.6" dx="-0.3">&#8722;</tspan><tspan font-size="5.8" dx="0.2">5</tspan></text>
<text x="31.2" y="608.1" font-size="8.7" text-anchor="end">10<tspan font-size="5.8" dy="-3.6" dx="-0.3">&#8722;</tspan><tspan font-size="5.8" dx="0.2">4</tspan></text>
<text x="31.2" y="583.3" font-size="8.7" text-anchor="end">10<tspan font-size="5.8" dy="-3.6" dx="-0.3">&#8722;</tspan><tspan font-size="5.8" dx="0.2">3</tspan></text>
<text x="31.2" y="558.5" font-size="8.7" text-anchor="end">10<tspan font-size="5.8" dy="-3.6" dx="-0.3">&#8722;</tspan><tspan font-size="5.8" dx="0.2">2</tspan></text>
<text x="31.2" y="533.7" font-size="8.7" text-anchor="end">10<tspan font-size="5.8" dy="-3.6" dx="-0.3">&#8722;</tspan><tspan font-size="5.8" dx="0.2">1</tspan></text>
<text x="31.2" y="508.9" font-size="8.7" text-anchor="end" >1</text>
<text x="31.2" y="484.1" font-size="8.7" text-anchor="end" clip-path="url(#cl20)">10</text>
<path d="M32.6 629.8h6M217.4 629.8h-6M32.6 605h6M217.4 605h-6M32.6 580.2h6M217.4 580.2h-6M32.6 555.4h6M217.4 555.4h-6M32.6 530.6h6M217.4 530.6h-6M32.6 505.8h6M217.4 505.8h-6M32.6 481h6M217.4 481h-6" stroke="#000" stroke-width="0.9" fill="none"/>
<path d="M32.6 622.3h3M217.4 622.3h-3M32.6 618h3M217.4 618h-3M32.6 614.9h3M217.4 614.9h-3M32.6 612.5h3M217.4 612.5h-3M32.6 610.5h3M217.4 610.5h-3M32.6 608.8h3M217.4 608.8h-3M32.6 607.4h3M217.4 607.4h-3M32.6 606.1h3M217.4 606.1h-3M32.6 597.5h3M217.4 597.5h-3M32.6 593.2h3M217.4 593.2h-3M32.6 590.1h3M217.4 590.1h-3M32.6 587.7h3M217.4 587.7h-3M32.6 585.7h3M217.4 585.7h-3M32.6 584h3M217.4 584h-3M32.6 582.6h3M217.4 582.6h-3M32.6 581.3h3M217.4 581.3h-3M32.6 572.7h3M217.4 572.7h-3M32.6 568.4h3M217.4 568.4h-3M32.6 565.3h3M217.4 565.3h-3M32.6 562.9h3M217.4 562.9h-3M32.6 560.9h3M217.4 560.9h-3M32.6 559.2h3M217.4 559.2h-3M32.6 557.8h3M217.4 557.8h-3M32.6 556.5h3M217.4 556.5h-3M32.6 547.9h3M217.4 547.9h-3M32.6 543.6h3M217.4 543.6h-3M32.6 540.5h3M217.4 540.5h-3M32.6 538.1h3M217.4 538.1h-3M32.6 536.1h3M217.4 536.1h-3M32.6 534.4h3M217.4 534.4h-3M32.6 533h3M217.4 533h-3M32.6 531.7h3M217.4 531.7h-3M32.6 523.1h3M217.4 523.1h-3M32.6 518.8h3M217.4 518.8h-3M32.6 515.7h3M217.4 515.7h-3M32.6 513.3h3M217.4 513.3h-3M32.6 511.3h3M217.4 511.3h-3M32.6 509.6h3M217.4 509.6h-3M32.6 508.2h3M217.4 508.2h-3M32.6 506.9h3M217.4 506.9h-3M32.6 498.3h3M217.4 498.3h-3M32.6 494h3M217.4 494h-3M32.6 490.9h3M217.4 490.9h-3M32.6 488.5h3M217.4 488.5h-3M32.6 486.5h3M217.4 486.5h-3M32.6 484.8h3M217.4 484.8h-3M32.6 483.4h3M217.4 483.4h-3M32.6 482.1h3M217.4 482.1h-3M32.6 475.3v3.5M32.6 629.8v-3.5M38.8 475.3v1.8M38.8 629.8v-1.8M44.9 475.3v1.8M44.9 629.8v-1.8M51.1 475.3v1.8M51.1 629.8v-1.8M57.2 475.3v1.8M57.2 629.8v-1.8M63.4 475.3v3.5M63.4 629.8v-3.5M69.6 475.3v1.8M69.6 629.8v-1.8M75.7 475.3v1.8M75.7 629.8v-1.8M81.9 475.3v1.8M81.9 629.8v-1.8M88 475.3v1.8M88 629.8v-1.8M94.2 475.3v3.5M94.2 629.8v-3.5M100.4 475.3v1.8M100.4 629.8v-1.8M106.5 475.3v1.8M106.5 629.8v-1.8M112.7 475.3v1.8M112.7 629.8v-1.8M118.8 475.3v1.8M118.8 629.8v-1.8M125 475.3v3.5M125 629.8v-3.5M131.2 475.3v1.8M131.2 629.8v-1.8M137.3 475.3v1.8M137.3 629.8v-1.8M143.5 475.3v1.8M143.5 629.8v-1.8M149.6 475.3v1.8M149.6 629.8v-1.8M155.8 475.3v3.5M155.8 629.8v-3.5M162 475.3v1.8M162 629.8v-1.8M168.1 475.3v1.8M168.1 629.8v-1.8M174.3 475.3v1.8M174.3 629.8v-1.8M180.4 475.3v1.8M180.4 629.8v-1.8M186.6 475.3v3.5M186.6 629.8v-3.5M192.8 475.3v1.8M192.8 629.8v-1.8M198.9 475.3v1.8M198.9 629.8v-1.8M205.1 475.3v1.8M205.1 629.8v-1.8M211.2 475.3v1.8M211.2 629.8v-1.8M217.4 475.3v3.5M217.4 629.8v-3.5" stroke="#000" stroke-width="0.8" fill="none"/>
<path d="M32.6,530L36.3,530L36.3,524.6L40,524.6L40,524.6L43.7,524.6L43.7,526.4L47.4,526.4L47.4,529.3L51.1,529.3L51.1,532.6L54.8,532.6L54.8,535.5L58.5,535.5L58.5,538.5L62.2,538.5L62.2,541.4L65.9,541.4L65.9,543.9L69.6,543.9L69.6,546.2L73.3,546.2L73.3,549.1L77,549.1L77,551.6L80.6,551.6L80.6,553.5L84.3,553.5L84.3,556L88,556L88,558.5L91.7,558.5L91.7,559.6L95.4,559.6L95.4,561.8L99.1,561.8L99.1,564.8L102.8,564.8L102.8,567.2L106.5,567.2L106.5,567.7L110.2,567.7L110.2,569.9L113.9,569.9L113.9,572L117.6,572L117.6,574.2L121.3,574.2L121.3,574.6L125,574.6L125,577.4L128.7,577.4L128.7,577.9L132.4,577.9L132.4,579.3L136.1,579.3L136.1,581.5L139.8,581.5L139.8,581.5L143.5,581.5L143.5,585.9L147.2,585.9L147.2,588.8L150.9,588.8L150.9,590.3L154.6,590.3L154.6,592.5L158.3,592.5L158.3,592.5L162,592.5L162,592.5L165.7,592.5L165.7,596.4L169.4,596.4L169.4,596.4L173,596.4L173,607.1L176.7,607.1L176.7,599.3L180.4,599.3L180.4,609.7L184.1,609.7L184.1,604.9L187.8,604.9L187.8,605.6L191.5,605.6L191.5,610L195.2,610L195.2,605.6L198.9,605.6L198.9,624.6L202.6,624.6L202.6,617.3L206.3,617.3L206.3,612.9L210,612.9L210,624.6L213.7,624.6L213.7,612.9L217.4,612.9" fill="none" stroke="#a8a8a8" stroke-width="1.5"  clip-path="url(#cu20)"/>
<path d="M32.6,540L36.3,540L36.3,524.6L40,524.6L40,524.6L43.7,524.6L43.7,526.4L47.4,526.4L47.4,529.3L51.1,529.3L51.1,532.6L54.8,532.6L54.8,535.5L58.5,535.5L58.5,538.5L62.2,538.5L62.2,541.4L65.9,541.4L65.9,543.9L69.6,543.9L69.6,546.2L73.3,546.2L73.3,549.1L77,549.1L77,551.6L80.6,551.6L80.6,553.5L84.3,553.5L84.3,556L88,556L88,558.5L91.7,558.5L91.7,559.6L95.4,559.6L95.4,561.8L99.1,561.8L99.1,564L102.8,564L102.8,567.2L106.5,567.2L106.5,567.7L110.2,567.7L110.2,569.9L113.9,569.9L113.9,572L117.6,572L117.6,574.2L121.3,574.2L121.3,574.6L125,574.6L125,578.3L128.7,578.3L128.7,578.6L132.4,578.6L132.4,580.8L136.1,580.8L136.1,581.8L139.8,581.8L139.8,585.2L143.5,585.2L143.5,586.2L147.2,586.2L147.2,587.4L150.9,587.4L150.9,590L154.6,590L154.6,598.3L158.3,598.3L158.3,594.7L162,594.7L162,598.3L165.7,598.3L165.7,599.3L169.4,599.3L169.4,601.2L173,601.2L173,602.7L176.7,602.7L176.7,603.1L180.4,603.1L180.4,603.4L184.1,603.4L184.1,604.6L187.8,604.6L187.8,626.8L191.5,626.8L191.5,603.4L195.2,603.4L195.2,613.6L198.9,613.6L198.9,610.7L202.6,610.7L202.6,613.6L206.3,613.6L206.3,615.1L210,615.1L210,614.4L213.7,614.4L213.7,626.1L217.4,626.1" fill="none" stroke="#00a000" stroke-width="1.3" stroke-dasharray="2.6 1.7" clip-path="url(#cu20)"/>
<rect x="32.6" y="475.3" width="184.8" height="154.5" fill="none" stroke="#000" stroke-width="0.95"/>
<text x="59.4" y="490.5" font-size="11.5" text-anchor="start" >Old py 8</text>
<line x1="124.8" y1="495.3" x2="140" y2="495.3" stroke="#00a000" stroke-width="1.3" stroke-dasharray="2.2 1.6"/>
<text x="142.8" y="490.5" font-size="11.5" text-anchor="start" >New py 8</text>
<text x="59.4" y="505.5" font-size="11.5">1</text>
<text x="67" y="505.5" font-size="10" font-style="italic">&#960;</text>
<text x="73.3" y="508.7" font-size="8">D</text>
<text x="82.4" y="505.5" font-size="11.5">decay</text>
<text x="142.8" y="505.5" font-size="11.5">1</text>
<text x="150.4" y="505.5" font-size="10" font-style="italic">&#960;</text>
<text x="156.7" y="508.7" font-size="8">D</text>
<text x="165.8" y="505.5" font-size="11.5">decay</text>
<text transform="translate(10.9,500.6) rotate(-90)" font-size="10.9">N<tspan font-size="7.6" dy="2.6">Jets</tspan></text>
<path d="M42.4 495.3h14.4" stroke="#a8a8a8" stroke-width="1.5" fill="none"/>
<rect x="-7.4" y="629.8" width="229.8" height="45.1" fill="#fff"/>
<text x="30.8" y="676.4" font-size="5.9" text-anchor="end" >0.8</text>
<text x="30.8" y="670.8" font-size="5.9" text-anchor="end" >0.85</text>
<text x="30.8" y="665.3" font-size="5.9" text-anchor="end" >0.9</text>
<text x="30.8" y="659.7" font-size="5.9" text-anchor="end" >0.95</text>
<text x="30.8" y="654.1" font-size="5.9" text-anchor="end" >1</text>
<text x="30.8" y="648.6" font-size="5.9" text-anchor="end" >1.05</text>
<text x="30.8" y="643" font-size="5.9" text-anchor="end" >1.1</text>
<text x="30.8" y="637.5" font-size="5.9" text-anchor="end" >1.15</text>
<path d="M33.9 629.8V674.3M216.1 629.8V674.3" stroke="#8a8a8a" stroke-width="1.6" fill="none"/>
<text x="32.6" y="681.6" font-size="8.9" text-anchor="middle" >0</text>
<text x="63.4" y="681.6" font-size="8.9" text-anchor="middle" >0.05</text>
<text x="94.2" y="681.6" font-size="8.9" text-anchor="middle" >0.1</text>
<text x="125" y="681.6" font-size="8.9" text-anchor="middle" >0.15</text>
<text x="155.8" y="681.6" font-size="8.9" text-anchor="middle" >0.2</text>
<text x="186.6" y="681.6" font-size="8.9" text-anchor="middle" >0.25</text>
<text x="217.4" y="681.6" font-size="8.9" text-anchor="middle" >0.3</text>
<line x1="32.6" y1="652.5" x2="217.4" y2="652.5" stroke="#000" stroke-width="0.9" stroke-dasharray="1.4 1.4"/>
<path d="M32.6 674.3h4M217.4 674.3h-4M32.6 668.7h4M217.4 668.7h-4M32.6 663.2h4M217.4 663.2h-4M32.6 657.6h4M217.4 657.6h-4M32.6 652h4M217.4 652h-4M32.6 646.5h4M217.4 646.5h-4M32.6 640.9h4M217.4 640.9h-4M32.6 635.4h4M217.4 635.4h-4M32.6 629.8h4M217.4 629.8h-4M32.6 629.8v2.6M32.6 674.3v-2.6M38.8 629.8v1.4M38.8 674.3v-1.4M44.9 629.8v1.4M44.9 674.3v-1.4M51.1 629.8v1.4M51.1 674.3v-1.4M57.2 629.8v1.4M57.2 674.3v-1.4M63.4 629.8v2.6M63.4 674.3v-2.6M69.6 629.8v1.4M69.6 674.3v-1.4M75.7 629.8v1.4M75.7 674.3v-1.4M81.9 629.8v1.4M81.9 674.3v-1.4M88 629.8v1.4M88 674.3v-1.4M94.2 629.8v2.6M94.2 674.3v-2.6M100.4 629.8v1.4M100.4 674.3v-1.4M106.5 629.8v1.4M106.5 674.3v-1.4M112.7 629.8v1.4M112.7 674.3v-1.4M118.8 629.8v1.4M118.8 674.3v-1.4M125 629.8v2.6M125 674.3v-2.6M131.2 629.8v1.4M131.2 674.3v-1.4M137.3 629.8v1.4M137.3 674.3v-1.4M143.5 629.8v1.4M143.5 674.3v-1.4M149.6 629.8v1.4M149.6 674.3v-1.4M155.8 629.8v2.6M155.8 674.3v-2.6M162 629.8v1.4M162 674.3v-1.4M168.1 629.8v1.4M168.1 674.3v-1.4M174.3 629.8v1.4M174.3 674.3v-1.4M180.4 629.8v1.4M180.4 674.3v-1.4M186.6 629.8v2.6M186.6 674.3v-2.6M192.8 629.8v1.4M192.8 674.3v-1.4M198.9 629.8v1.4M198.9 674.3v-1.4M205.1 629.8v1.4M205.1 674.3v-1.4M211.2 629.8v1.4M211.2 674.3v-1.4M217.4 629.8v2.6M217.4 674.3v-2.6" stroke="#000" stroke-width="0.8" fill="none"/>
<path d="M97.3 632.7V650.5M112.1 630.4V647.6M134.2 653.4V673.7M186 630.4V673.7" stroke="#9ad89a" stroke-width="2" fill="none"/>
<path d="M34.4 648.6V653.1M33.6 648.6h1.6M33.6 653.1h1.6M38.1 651.4V654.7M37.3 651.4h1.6M37.3 654.7h1.6M41.8 652.8V656.2M41 652.8h1.6M41 656.2h1.6M45.5 647.5V650.8M44.7 647.5h1.6M44.7 650.8h1.6M49.2 650.3V653.6M48.4 650.3h1.6M48.4 653.6h1.6M52.9 649.6V652.9M52.1 649.6h1.6M52.1 652.9h1.6M56.6 650V653.4M55.8 650h1.6M55.8 653.4h1.6M60.3 645.6V650M59.5 645.6h1.6M59.5 650h1.6M64 652V658.7M63.2 652h1.6M63.2 658.7h1.6M67.7 650V656.7M66.9 650h1.6M66.9 656.7h1.6M71.4 649.2V656.9M70.6 649.2h1.6M70.6 656.9h1.6M75.1 644.7V653.6M74.3 644.7h1.6M74.3 653.6h1.6M78.8 645.5V654.4M78 645.5h1.6M78 654.4h1.6M82.5 651.4V660.3M81.7 651.4h1.6M81.7 660.3h1.6M86.2 658.6V669.7M85.4 658.6h1.6M85.4 669.7h1.6M89.9 645.3V658.6M89.1 645.3h1.6M89.1 658.6h1.6M93.6 642.5V655.8M92.8 642.5h1.6M92.8 655.8h1.6M101 630.4V642.8M100.2 642.8h1.6M104.7 630.4V643.7M103.9 643.7h1.6M108.4 643.9V666.2M107.6 643.9h1.6M107.6 666.2h1.6M115.8 630.4V658.4M115 658.4h1.6M119.5 654.2V673.7M118.7 654.2h1.6M123.2 630.4V654.6M122.4 654.6h1.6M126.8 650.3V673.7M126 650.3h1.6M130.5 637.6V671M129.7 637.6h1.6M129.7 671h1.6M137.9 654.1V673.7M137.1 654.1h1.6M145.3 630.4V673.7M163.8 645.7V673.7M163 645.7h1.6" stroke="#00a000" stroke-width="1" fill="none"/>
<path d="M32.6 650.8h3.7M36.3 653.1h3.7M40 654.5h3.7M43.7 649.2h3.7M47.4 651.9h3.7M51.1 651.3h3.7M54.8 651.7h3.7M58.5 647.8h3.7M62.2 655.4h3.7M65.9 653.4h3.7M69.6 653.1h3.7M73.3 649.2h3.7M77 649.9h3.7M80.6 655.8h3.7M84.3 664.2h3.7M88 651.9h3.7M91.7 649.2h3.7M95.4 641.6h3.7M99.1 633.9h3.7M102.8 632.6h3.7M106.5 655.1h3.7M110.2 634.2h3.7M113.9 643.9h3.7M117.6 667.5h3.7M121.3 641.3h3.7M125 665.8h3.7M128.7 654.3h3.7M132.4 669h3.7M136.1 670.7h3.7M143.5 648.9h3.7M162 673.5h3.7M184.1 646.7h3.7" stroke="#000" stroke-width="0.9" fill="none"/>
<circle cx="34.4" cy="650.8" r="1.3"/>
<circle cx="38.1" cy="653.1" r="1.3"/>
<circle cx="41.8" cy="654.5" r="1.3"/>
<circle cx="45.5" cy="649.2" r="1.3"/>
<circle cx="49.2" cy="651.9" r="1.3"/>
<circle cx="52.9" cy="651.3" r="1.3"/>
<circle cx="56.6" cy="651.7" r="1.3"/>
<circle cx="60.3" cy="647.8" r="1.3"/>
<circle cx="64" cy="655.4" r="1.3"/>
<circle cx="67.7" cy="653.4" r="1.3"/>
<circle cx="71.4" cy="653.1" r="1.3"/>
<circle cx="75.1" cy="649.2" r="1.3"/>
<circle cx="78.8" cy="649.9" r="1.3"/>
<circle cx="82.5" cy="655.8" r="1.3"/>
<circle cx="86.2" cy="664.2" r="1.3"/>
<circle cx="89.9" cy="651.9" r="1.3"/>
<circle cx="93.6" cy="649.2" r="1.3"/>
<circle cx="97.3" cy="641.6" r="1.3"/>
<circle cx="101" cy="633.9" r="1.3"/>
<circle cx="104.7" cy="632.6" r="1.3"/>
<circle cx="108.4" cy="655.1" r="1.3"/>
<circle cx="112.1" cy="634.2" r="1.3"/>
<circle cx="115.8" cy="643.9" r="1.3"/>
<circle cx="119.5" cy="667.5" r="1.3"/>
<circle cx="123.2" cy="641.3" r="1.3"/>
<circle cx="126.8" cy="665.8" r="1.3"/>
<circle cx="130.5" cy="654.3" r="1.3"/>
<circle cx="134.2" cy="669" r="1.3"/>
<circle cx="137.9" cy="670.7" r="1.3"/>
<circle cx="145.3" cy="648.9" r="1.3"/>
<circle cx="163.8" cy="673.5" r="1.3"/>
<circle cx="186" cy="646.7" r="1.3"/>
<rect x="32.6" y="629.8" width="184.8" height="44.5" fill="none" stroke="#000" stroke-width="0.95"/>
<text x="218" y="693.6" font-size="10.3" text-anchor="end" >Axis minor (GenJet, R=0.8)</text>
<text x="260.1" y="632.9" font-size="8.7" text-anchor="end">10<tspan font-size="5.8" dy="-3.6" dx="-0.3">&#8722;</tspan><tspan font-size="5.8" dx="0.2">5</tspan></text>
<text x="260.1" y="608.1" font-size="8.7" text-anchor="end">10<tspan font-size="5.8" dy="-3.6" dx="-0.3">&#8722;</tspan><tspan font-size="5.8" dx="0.2">4</tspan></text>
<text x="260.1" y="583.3" font-size="8.7" text-anchor="end">10<tspan font-size="5.8" dy="-3.6" dx="-0.3">&#8722;</tspan><tspan font-size="5.8" dx="0.2">3</tspan></text>
<text x="260.1" y="558.5" font-size="8.7" text-anchor="end">10<tspan font-size="5.8" dy="-3.6" dx="-0.3">&#8722;</tspan><tspan font-size="5.8" dx="0.2">2</tspan></text>
<text x="260.1" y="533.7" font-size="8.7" text-anchor="end">10<tspan font-size="5.8" dy="-3.6" dx="-0.3">&#8722;</tspan><tspan font-size="5.8" dx="0.2">1</tspan></text>
<text x="260.1" y="508.9" font-size="8.7" text-anchor="end" >1</text>
<text x="260.1" y="484.1" font-size="8.7" text-anchor="end" clip-path="url(#cl21)">10</text>
<path d="M261.4 629.8h6M446.3 629.8h-6M261.4 605h6M446.3 605h-6M261.4 580.2h6M446.3 580.2h-6M261.4 555.4h6M446.3 555.4h-6M261.4 530.6h6M446.3 530.6h-6M261.4 505.8h6M446.3 505.8h-6M261.4 481h6M446.3 481h-6" stroke="#000" stroke-width="0.9" fill="none"/>
<path d="M261.4 622.3h3M446.3 622.3h-3M261.4 618h3M446.3 618h-3M261.4 614.9h3M446.3 614.9h-3M261.4 612.5h3M446.3 612.5h-3M261.4 610.5h3M446.3 610.5h-3M261.4 608.8h3M446.3 608.8h-3M261.4 607.4h3M446.3 607.4h-3M261.4 606.1h3M446.3 606.1h-3M261.4 597.5h3M446.3 597.5h-3M261.4 593.2h3M446.3 593.2h-3M261.4 590.1h3M446.3 590.1h-3M261.4 587.7h3M446.3 587.7h-3M261.4 585.7h3M446.3 585.7h-3M261.4 584h3M446.3 584h-3M261.4 582.6h3M446.3 582.6h-3M261.4 581.3h3M446.3 581.3h-3M261.4 572.7h3M446.3 572.7h-3M261.4 568.4h3M446.3 568.4h-3M261.4 565.3h3M446.3 565.3h-3M261.4 562.9h3M446.3 562.9h-3M261.4 560.9h3M446.3 560.9h-3M261.4 559.2h3M446.3 559.2h-3M261.4 557.8h3M446.3 557.8h-3M261.4 556.5h3M446.3 556.5h-3M261.4 547.9h3M446.3 547.9h-3M261.4 543.6h3M446.3 543.6h-3M261.4 540.5h3M446.3 540.5h-3M261.4 538.1h3M446.3 538.1h-3M261.4 536.1h3M446.3 536.1h-3M261.4 534.4h3M446.3 534.4h-3M261.4 533h3M446.3 533h-3M261.4 531.7h3M446.3 531.7h-3M261.4 523.1h3M446.3 523.1h-3M261.4 518.8h3M446.3 518.8h-3M261.4 515.7h3M446.3 515.7h-3M261.4 513.3h3M446.3 513.3h-3M261.4 511.3h3M446.3 511.3h-3M261.4 509.6h3M446.3 509.6h-3M261.4 508.2h3M446.3 508.2h-3M261.4 506.9h3M446.3 506.9h-3M261.4 498.3h3M446.3 498.3h-3M261.4 494h3M446.3 494h-3M261.4 490.9h3M446.3 490.9h-3M261.4 488.5h3M446.3 488.5h-3M261.4 486.5h3M446.3 486.5h-3M261.4 484.8h3M446.3 484.8h-3M261.4 483.4h3M446.3 483.4h-3M261.4 482.1h3M446.3 482.1h-3M261.4 475.3v3.5M261.4 629.8v-3.5M267.6 475.3v1.8M267.6 629.8v-1.8M273.8 475.3v1.8M273.8 629.8v-1.8M279.9 475.3v1.8M279.9 629.8v-1.8M286.1 475.3v1.8M286.1 629.8v-1.8M292.3 475.3v3.5M292.3 629.8v-3.5M298.4 475.3v1.8M298.4 629.8v-1.8M304.6 475.3v1.8M304.6 629.8v-1.8M310.7 475.3v1.8M310.7 629.8v-1.8M316.9 475.3v1.8M316.9 629.8v-1.8M323.1 475.3v3.5M323.1 629.8v-3.5M329.2 475.3v1.8M329.2 629.8v-1.8M335.4 475.3v1.8M335.4 629.8v-1.8M341.6 475.3v1.8M341.6 629.8v-1.8M347.7 475.3v1.8M347.7 629.8v-1.8M353.9 475.3v3.5M353.9 629.8v-3.5M360 475.3v1.8M360 629.8v-1.8M366.2 475.3v1.8M366.2 629.8v-1.8M372.4 475.3v1.8M372.4 629.8v-1.8M378.5 475.3v1.8M378.5 629.8v-1.8M384.7 475.3v3.5M384.7 629.8v-3.5M390.8 475.3v1.8M390.8 629.8v-1.8M397 475.3v1.8M397 629.8v-1.8M403.2 475.3v1.8M403.2 629.8v-1.8M409.3 475.3v1.8M409.3 629.8v-1.8M415.5 475.3v3.5M415.5 629.8v-3.5M421.7 475.3v1.8M421.7 629.8v-1.8M427.8 475.3v1.8M427.8 629.8v-1.8M434 475.3v1.8M434 629.8v-1.8M440.1 475.3v1.8M440.1 629.8v-1.8M446.3 475.3v3.5M446.3 629.8v-3.5" stroke="#000" stroke-width="0.8" fill="none"/>
<path d="M261.4,530L265.1,530L265.1,527.8L268.8,527.8L268.8,524.9L272.5,524.9L272.5,525.3L276.2,525.3L276.2,527.8L279.9,527.8L279.9,531.2L283.6,531.2L283.6,534.1L287.3,534.1L287.3,537L291,537L291,539.6L294.7,539.6L294.7,541.8L298.4,541.8L298.4,544.3L302.1,544.3L302.1,546.5L305.8,546.5L305.8,548.7L309.5,548.7L309.5,551.6L313.2,551.6L313.2,553.1L316.9,553.1L316.9,556L320.6,556L320.6,557.4L324.3,557.4L324.3,558.9L328,558.9L328,561.4L331.7,561.4L331.7,564L335.4,564L335.4,565.8L339.1,565.8L339.1,567.2L342.8,567.2L342.8,570.1L346.5,570.1L346.5,569L350.2,569L350.2,572L353.9,572L353.9,574.2L357.6,574.2L357.6,577.9L361.3,577.9L361.3,578.3L365,578.3L365,580.8L368.7,580.8L368.7,583.7L372.4,583.7L372.4,586.2L376.1,586.2L376.1,587.4L379.8,587.4L379.8,587.7L383.5,587.7L383.5,593.2L387.1,593.2L387.1,595L390.8,595L390.8,595.4L394.5,595.4L394.5,596.1L398.2,596.1L398.2,597.6L401.9,597.6L401.9,602.7L405.6,602.7L405.6,598.3L409.3,598.3L409.3,602.3L413,602.3L413,605.6L416.7,605.6L416.7,602.3L420.4,602.3L420.4,613.6L424.1,613.6L424.1,623.9L427.8,623.9L427.8,613.9L431.5,613.9L431.5,623.9L435.2,623.9L435.2,619.2L438.9,619.2L438.9,632.8L442.6,632.8L442.6,632.8L446.3,632.8" fill="none" stroke="#a8a8a8" stroke-width="1.5"  clip-path="url(#cu21)"/>
<path d="M261.4,543L265.1,543L265.1,527.8L268.8,527.8L268.8,524.9L272.5,524.9L272.5,525.3L276.2,525.3L276.2,527.8L279.9,527.8L279.9,531.2L283.6,531.2L283.6,534.1L287.3,534.1L287.3,537L291,537L291,539.6L294.7,539.6L294.7,541.8L298.4,541.8L298.4,544.3L302.1,544.3L302.1,546.5L305.8,546.5L305.8,548.7L309.5,548.7L309.5,551.6L313.2,551.6L313.2,553.1L316.9,553.1L316.9,556L320.6,556L320.6,557.4L324.3,557.4L324.3,558.9L328,558.9L328,561.4L331.7,561.4L331.7,564L335.4,564L335.4,565.8L339.1,565.8L339.1,567.2L342.8,567.2L342.8,570.1L346.5,570.1L346.5,569.5L350.2,569.5L350.2,572L353.9,572L353.9,574.2L357.6,574.2L357.6,577.9L361.3,577.9L361.3,578.3L365,578.3L365,580.1L368.7,580.1L368.7,584.2L372.4,584.2L372.4,585.2L376.1,585.2L376.1,586.6L379.8,586.6L379.8,590L383.5,590L383.5,589.6L387.1,589.6L387.1,590L390.8,590L390.8,595L394.5,595L394.5,595L398.2,595L398.2,599.8L401.9,599.8L401.9,603.1L405.6,603.1L405.6,603.4L409.3,603.4L409.3,605.6L413,605.6L413,601.2L416.7,601.2L416.7,602.3L420.4,602.3L420.4,610.7L424.1,610.7L424.1,603.4L427.8,603.4L427.8,609.3L431.5,609.3L431.5,619.2L435.2,619.2L435.2,621L438.9,621L438.9,612.2L442.6,612.2L442.6,615.1L446.3,615.1" fill="none" stroke="#ff5a5a" stroke-width="1.3" stroke-dasharray="2.6 1.7" clip-path="url(#cu21)"/>
<rect x="261.4" y="475.3" width="184.9" height="154.5" fill="none" stroke="#000" stroke-width="0.95"/>
<text x="288.2" y="490.5" font-size="11.5" text-anchor="start" >Old py 8</text>
<line x1="353.6" y1="495.3" x2="368.9" y2="495.3" stroke="#ff5a5a" stroke-width="1.3" stroke-dasharray="2.2 1.6"/>
<text x="371.6" y="490.5" font-size="11.5" text-anchor="start" >New py 8</text>
<text x="288.2" y="505.5" font-size="11.5">2</text>
<text x="297.9" y="505.5" font-size="10" font-style="italic">&#960;</text>
<text x="303.9" y="508.7" font-size="8">D</text>
<text x="312.8" y="505.5" font-size="11.5">decay</text>
<text x="371.6" y="505.5" font-size="11.5">2</text>
<text x="381.3" y="505.5" font-size="10" font-style="italic">&#960;</text>
<text x="387.3" y="508.7" font-size="8">D</text>
<text x="396.1" y="505.5" font-size="11.5">decay</text>
<text transform="translate(239.8,500.6) rotate(-90)" font-size="10.9">N<tspan font-size="7.6" dy="2.6">Jets</tspan></text>
<path d="M271.2 495.3h14.4" stroke="#a8a8a8" stroke-width="1.5" fill="none"/>
<rect x="221.4" y="629.8" width="229.9" height="45.1" fill="#fff"/>
<text x="259.6" y="676.4" font-size="5.9" text-anchor="end" >0.8</text>
<text x="259.6" y="670.8" font-size="5.9" text-anchor="end" >0.85</text>
<text x="259.6" y="665.3" font-size="5.9" text-anchor="end" >0.9</text>
<text x="259.6" y="659.7" font-size="5.9" text-anchor="end" >0.95</text>
<text x="259.6" y="654.1" font-size="5.9" text-anchor="end" >1</text>
<text x="259.6" y="648.6" font-size="5.9" text-anchor="end" >1.05</text>
<text x="259.6" y="643" font-size="5.9" text-anchor="end" >1.1</text>
<text x="259.6" y="637.5" font-size="5.9" text-anchor="end" >1.15</text>
<path d="M262.8 629.8V674.3M445 629.8V674.3" stroke="#8a8a8a" stroke-width="1.6" fill="none"/>
<text x="261.4" y="681.6" font-size="8.9" text-anchor="middle" >0</text>
<text x="292.3" y="681.6" font-size="8.9" text-anchor="middle" >0.05</text>
<text x="323.1" y="681.6" font-size="8.9" text-anchor="middle" >0.1</text>
<text x="353.9" y="681.6" font-size="8.9" text-anchor="middle" >0.15</text>
<text x="384.7" y="681.6" font-size="8.9" text-anchor="middle" >0.2</text>
<text x="415.5" y="681.6" font-size="8.9" text-anchor="middle" >0.25</text>
<text x="446.3" y="681.6" font-size="8.9" text-anchor="middle" >0.3</text>
<line x1="261.4" y1="652.5" x2="446.3" y2="652.5" stroke="#000" stroke-width="0.9" stroke-dasharray="1.4 1.4"/>
<path d="M261.4 674.3h4M446.3 674.3h-4M261.4 668.7h4M446.3 668.7h-4M261.4 663.2h4M446.3 663.2h-4M261.4 657.6h4M446.3 657.6h-4M261.4 652h4M446.3 652h-4M261.4 646.5h4M446.3 646.5h-4M261.4 640.9h4M446.3 640.9h-4M261.4 635.4h4M446.3 635.4h-4M261.4 629.8h4M446.3 629.8h-4M261.4 629.8v2.6M261.4 674.3v-2.6M267.6 629.8v1.4M267.6 674.3v-1.4M273.8 629.8v1.4M273.8 674.3v-1.4M279.9 629.8v1.4M279.9 674.3v-1.4M286.1 629.8v1.4M286.1 674.3v-1.4M292.3 629.8v2.6M292.3 674.3v-2.6M298.4 629.8v1.4M298.4 674.3v-1.4M304.6 629.8v1.4M304.6 674.3v-1.4M310.7 629.8v1.4M310.7 674.3v-1.4M316.9 629.8v1.4M316.9 674.3v-1.4M323.1 629.8v2.6M323.1 674.3v-2.6M329.2 629.8v1.4M329.2 674.3v-1.4M335.4 629.8v1.4M335.4 674.3v-1.4M341.6 629.8v1.4M341.6 674.3v-1.4M347.7 629.8v1.4M347.7 674.3v-1.4M353.9 629.8v2.6M353.9 674.3v-2.6M360 629.8v1.4M360 674.3v-1.4M366.2 629.8v1.4M366.2 674.3v-1.4M372.4 629.8v1.4M372.4 674.3v-1.4M378.5 629.8v1.4M378.5 674.3v-1.4M384.7 629.8v2.6M384.7 674.3v-2.6M390.8 629.8v1.4M390.8 674.3v-1.4M397 629.8v1.4M397 674.3v-1.4M403.2 629.8v1.4M403.2 674.3v-1.4M409.3 629.8v1.4M409.3 674.3v-1.4M415.5 629.8v2.6M415.5 674.3v-2.6M421.7 629.8v1.4M421.7 674.3v-1.4M427.8 629.8v1.4M427.8 674.3v-1.4M434 629.8v1.4M434 674.3v-1.4M440.1 629.8v1.4M440.1 674.3v-1.4M446.3 629.8v2.6M446.3 674.3v-2.6" stroke="#000" stroke-width="0.8" fill="none"/>
<path d="M359.4 632.2V661.2M363.1 640.7V667.4" stroke="#ffb0b0" stroke-width="2" fill="none"/>
<path d="M263.3 650.8V655.3M262.5 650.8h1.6M262.5 655.3h1.6M267 652.4V655.7M266.2 652.4h1.6M266.2 655.7h1.6M270.7 650.3V653.6M269.9 650.3h1.6M269.9 653.6h1.6M274.4 649.6V652.9M273.6 649.6h1.6M273.6 652.9h1.6M278.1 646.8V650.2M277.3 646.8h1.6M277.3 650.2h1.6M281.8 651.7V655.1M281 651.7h1.6M281 655.1h1.6M285.5 650.6V653.9M284.7 650.6h1.6M284.7 653.9h1.6M289.2 650.9V654.3M288.4 650.9h1.6M288.4 654.3h1.6M292.9 651.9V655.3M292.1 651.9h1.6M292.1 655.3h1.6M296.6 651.7V655.1M295.8 651.7h1.6M295.8 655.1h1.6M300.3 650.4V654.8M299.5 650.4h1.6M299.5 654.8h1.6M304 645.2V651.8M303.2 645.2h1.6M303.2 651.8h1.6M307.7 648.9V655.6M306.9 648.9h1.6M306.9 655.6h1.6M311.4 655.3V662M310.6 655.3h1.6M310.6 662h1.6M315.1 643V651.9M314.3 643h1.6M314.3 651.9h1.6M318.8 642.5V652.5M318 642.5h1.6M318 652.5h1.6M322.5 650.3V661.4M321.7 650.3h1.6M321.7 661.4h1.6M326.1 633.1V646.5M325.3 633.1h1.6M325.3 646.5h1.6M329.8 649.2V662.5M329 649.2h1.6M329 662.5h1.6M333.5 649.2V662.5M332.7 649.2h1.6M332.7 662.5h1.6M337.2 637.5V653.1M336.4 637.5h1.6M336.4 653.1h1.6M340.9 653.9V669.5M340.1 653.9h1.6M340.1 669.5h1.6M344.6 641.3V661.3M343.8 641.3h1.6M343.8 661.3h1.6M348.3 654.1V673.7M347.5 654.1h1.6M352 630.4V648.2M351.2 648.2h1.6M355.7 640.1V662.4M354.9 640.1h1.6M354.9 662.4h1.6M366.8 630.4V652M366 652h1.6M370.5 639.5V672.9M369.7 639.5h1.6M369.7 672.9h1.6M377.9 645.9V673.7M377.1 645.9h1.6M392.7 630.4V673.7M396.4 630.4V670.1M395.6 670.1h1.6M403.8 630.4V673.7M418.6 630.4V673.7M422.3 630.4V673.7M437.1 630.4V673.7" stroke="#ff5a5a" stroke-width="1" fill="none"/>
<path d="M261.4 653.1h3.7M265.1 654.1h3.7M268.8 651.9h3.7M272.5 651.3h3.7M276.2 648.5h3.7M279.9 653.4h3.7M283.6 652.3h3.7M287.3 652.6h3.7M291 653.6h3.7M294.7 653.4h3.7M298.4 652.6h3.7M302.1 648.5h3.7M305.8 652.3h3.7M309.5 658.6h3.7M313.2 647.5h3.7M316.9 647.5h3.7M320.6 655.8h3.7M324.3 639.8h3.7M328 655.8h3.7M331.7 655.8h3.7M335.4 645.3h3.7M339.1 661.7h3.7M342.8 651.3h3.7M346.5 665.2h3.7M350.2 637h3.7M353.9 651.3h3.7M357.6 646.7h3.7M361.3 654.1h3.7M365 634.2h3.7M368.7 656.2h3.7M376.1 663.7h3.7M390.8 645.7h3.7M394.5 636.7h3.7M401.9 661.4h3.7M416.7 645.7h3.7M420.4 631.5h3.7M435.2 653.4h3.7" stroke="#000" stroke-width="0.9" fill="none"/>
<circle cx="263.3" cy="653.1" r="1.3"/>
<circle cx="267" cy="654.1" r="1.3"/>
<circle cx="270.7" cy="651.9" r="1.3"/>
<circle cx="274.4" cy="651.3" r="1.3"/>
<circle cx="278.1" cy="648.5" r="1.3"/>
<circle cx="281.8" cy="653.4" r="1.3"/>
<circle cx="285.5" cy="652.3" r="1.3"/>
<circle cx="289.2" cy="652.6" r="1.3"/>
<circle cx="292.9" cy="653.6" r="1.3"/>
<circle cx="296.6" cy="653.4" r="1.3"/>
<circle cx="300.3" cy="652.6" r="1.3"/>
<circle cx="304" cy="648.5" r="1.3"/>
<circle cx="307.7" cy="652.3" r="1.3"/>
<circle cx="311.4" cy="658.6" r="1.3"/>
<circle cx="315.1" cy="647.5" r="1.3"/>
<circle cx="318.8" cy="647.5" r="1.3"/>
<circle cx="322.5" cy="655.8" r="1.3"/>
<circle cx="326.1" cy="639.8" r="1.3"/>
<circle cx="329.8" cy="655.8" r="1.3"/>
<circle cx="333.5" cy="655.8" r="1.3"/>
<circle cx="337.2" cy="645.3" r="1.3"/>
<circle cx="340.9" cy="661.7" r="1.3"/>
<circle cx="344.6" cy="651.3" r="1.3"/>
<circle cx="348.3" cy="665.2" r="1.3"/>
<circle cx="352" cy="637" r="1.3"/>
<circle cx="355.7" cy="651.3" r="1.3"/>
<circle cx="359.4" cy="646.7" r="1.3"/>
<circle cx="363.1" cy="654.1" r="1.3"/>
<circle cx="366.8" cy="634.2" r="1.3"/>
<circle cx="370.5" cy="656.2" r="1.3"/>
<circle cx="377.9" cy="663.7" r="1.3"/>
<circle cx="392.7" cy="645.7" r="1.3"/>
<circle cx="396.4" cy="636.7" r="1.3"/>
<circle cx="403.8" cy="661.4" r="1.3"/>
<circle cx="418.6" cy="645.7" r="1.3"/>
<circle cx="422.3" cy="631.5" r="1.3"/>
<circle cx="437.1" cy="653.4" r="1.3"/>
<rect x="261.4" y="629.8" width="184.9" height="44.5" fill="none" stroke="#000" stroke-width="0.95"/>
<text x="446.9" y="693.6" font-size="10.3" text-anchor="end" >Axis minor (GenJet, R=0.8)</text>
<text x="488.7" y="632.9" font-size="8.7" text-anchor="end">10<tspan font-size="5.8" dy="-3.6" dx="-0.3">&#8722;</tspan><tspan font-size="5.8" dx="0.2">5</tspan></text>
<text x="488.7" y="607.7" font-size="8.7" text-anchor="end">10<tspan font-size="5.8" dy="-3.6" dx="-0.3">&#8722;</tspan><tspan font-size="5.8" dx="0.2">4</tspan></text>
<text x="488.7" y="582.5" font-size="8.7" text-anchor="end">10<tspan font-size="5.8" dy="-3.6" dx="-0.3">&#8722;</tspan><tspan font-size="5.8" dx="0.2">3</tspan></text>
<text x="488.7" y="557.3" font-size="8.7" text-anchor="end">10<tspan font-size="5.8" dy="-3.6" dx="-0.3">&#8722;</tspan><tspan font-size="5.8" dx="0.2">2</tspan></text>
<text x="488.7" y="532.1" font-size="8.7" text-anchor="end">10<tspan font-size="5.8" dy="-3.6" dx="-0.3">&#8722;</tspan><tspan font-size="5.8" dx="0.2">1</tspan></text>
<text x="488.7" y="506.9" font-size="8.7" text-anchor="end" >1</text>
<text x="488.7" y="481.7" font-size="8.7" text-anchor="end" clip-path="url(#cl22)">10</text>
<path d="M490.1 629.8h6M675.1 629.8h-6M490.1 604.6h6M675.1 604.6h-6M490.1 579.4h6M675.1 579.4h-6M490.1 554.2h6M675.1 554.2h-6M490.1 529h6M675.1 529h-6M490.1 503.8h6M675.1 503.8h-6M490.1 478.6h6M675.1 478.6h-6" stroke="#000" stroke-width="0.9" fill="none"/>
<path d="M490.1 622.2h3M675.1 622.2h-3M490.1 617.8h3M675.1 617.8h-3M490.1 614.6h3M675.1 614.6h-3M490.1 612.2h3M675.1 612.2h-3M490.1 610.2h3M675.1 610.2h-3M490.1 608.5h3M675.1 608.5h-3M490.1 607h3M675.1 607h-3M490.1 605.7h3M675.1 605.7h-3M490.1 597h3M675.1 597h-3M490.1 592.6h3M675.1 592.6h-3M490.1 589.4h3M675.1 589.4h-3M490.1 587h3M675.1 587h-3M490.1 585h3M675.1 585h-3M490.1 583.3h3M675.1 583.3h-3M490.1 581.8h3M675.1 581.8h-3M490.1 580.5h3M675.1 580.5h-3M490.1 571.8h3M675.1 571.8h-3M490.1 567.4h3M675.1 567.4h-3M490.1 564.2h3M675.1 564.2h-3M490.1 561.8h3M675.1 561.8h-3M490.1 559.8h3M675.1 559.8h-3M490.1 558.1h3M675.1 558.1h-3M490.1 556.6h3M675.1 556.6h-3M490.1 555.3h3M675.1 555.3h-3M490.1 546.6h3M675.1 546.6h-3M490.1 542.2h3M675.1 542.2h-3M490.1 539h3M675.1 539h-3M490.1 536.6h3M675.1 536.6h-3M490.1 534.6h3M675.1 534.6h-3M490.1 532.9h3M675.1 532.9h-3M490.1 531.4h3M675.1 531.4h-3M490.1 530.1h3M675.1 530.1h-3M490.1 521.4h3M675.1 521.4h-3M490.1 517h3M675.1 517h-3M490.1 513.8h3M675.1 513.8h-3M490.1 511.4h3M675.1 511.4h-3M490.1 509.4h3M675.1 509.4h-3M490.1 507.7h3M675.1 507.7h-3M490.1 506.2h3M675.1 506.2h-3M490.1 504.9h3M675.1 504.9h-3M490.1 496.2h3M675.1 496.2h-3M490.1 491.8h3M675.1 491.8h-3M490.1 488.6h3M675.1 488.6h-3M490.1 486.2h3M675.1 486.2h-3M490.1 484.2h3M675.1 484.2h-3M490.1 482.5h3M675.1 482.5h-3M490.1 481h3M675.1 481h-3M490.1 479.7h3M675.1 479.7h-3M490.1 475.3v3.5M490.1 629.8v-3.5M496.3 475.3v1.8M496.3 629.8v-1.8M502.4 475.3v1.8M502.4 629.8v-1.8M508.6 475.3v1.8M508.6 629.8v-1.8M514.8 475.3v1.8M514.8 629.8v-1.8M520.9 475.3v3.5M520.9 629.8v-3.5M527.1 475.3v1.8M527.1 629.8v-1.8M533.3 475.3v1.8M533.3 629.8v-1.8M539.4 475.3v1.8M539.4 629.8v-1.8M545.6 475.3v1.8M545.6 629.8v-1.8M551.8 475.3v3.5M551.8 629.8v-3.5M557.9 475.3v1.8M557.9 629.8v-1.8M564.1 475.3v1.8M564.1 629.8v-1.8M570.3 475.3v1.8M570.3 629.8v-1.8M576.4 475.3v1.8M576.4 629.8v-1.8M582.6 475.3v3.5M582.6 629.8v-3.5M588.8 475.3v1.8M588.8 629.8v-1.8M594.9 475.3v1.8M594.9 629.8v-1.8M601.1 475.3v1.8M601.1 629.8v-1.8M607.3 475.3v1.8M607.3 629.8v-1.8M613.4 475.3v3.5M613.4 629.8v-3.5M619.6 475.3v1.8M619.6 629.8v-1.8M625.8 475.3v1.8M625.8 629.8v-1.8M631.9 475.3v1.8M631.9 629.8v-1.8M638.1 475.3v1.8M638.1 629.8v-1.8M644.3 475.3v3.5M644.3 629.8v-3.5M650.4 475.3v1.8M650.4 629.8v-1.8M656.6 475.3v1.8M656.6 629.8v-1.8M662.8 475.3v1.8M662.8 629.8v-1.8M668.9 475.3v1.8M668.9 629.8v-1.8M675.1 475.3v3.5M675.1 629.8v-3.5" stroke="#000" stroke-width="0.8" fill="none"/>
<path d="M490.1,531L493.8,531L493.8,531.2L497.5,531.2L497.5,526.4L501.2,526.4L501.2,525L504.9,525L504.9,526.8L508.6,526.8L508.6,529L512.3,529L512.3,531.9L516,531.9L516,534.1L519.7,534.1L519.7,536.3L523.4,536.3L523.4,538.5L527.1,538.5L527.1,540.9L530.8,540.9L530.8,542.8L534.5,542.8L534.5,545L538.2,545L538.2,547.2L541.9,547.2L541.9,549.1L545.6,549.1L545.6,550.9L549.3,550.9L549.3,552.8L553,552.8L553,555L556.7,555L556.7,557L560.4,557L560.4,558.9L564.1,558.9L564.1,560.8L567.8,560.8L567.8,562.8L571.5,562.8L571.5,564.7L575.2,564.7L575.2,566.6L578.9,566.6L578.9,568.1L582.6,568.1L582.6,571L586.3,571L586.3,572L590,572L590,574.2L593.7,574.2L593.7,576.4L597.4,576.4L597.4,577.4L601.1,577.4L601.1,580.1L604.8,580.1L604.8,581.8L608.5,581.8L608.5,584.5L612.2,584.5L612.2,585.9L615.9,585.9L615.9,591L619.6,591L619.6,591L623.3,591L623.3,594L627,594L627,594.4L630.7,594.4L630.7,596.9L634.4,596.9L634.4,597.6L638.1,597.6L638.1,598.8L641.8,598.8L641.8,602.7L645.5,602.7L645.5,608.1L649.2,608.1L649.2,605.6L652.9,605.6L652.9,607.5L656.6,607.5L656.6,613.6L660.3,613.6L660.3,611.5L664,611.5L664,616.6L667.7,616.6L667.7,621.7L671.4,621.7L671.4,632.8L675.1,632.8" fill="none" stroke="#a8a8a8" stroke-width="1.5"  clip-path="url(#cu22)"/>
<path d="M490.1,549L493.8,549L493.8,531.2L497.5,531.2L497.5,526.4L501.2,526.4L501.2,525L504.9,525L504.9,526.8L508.6,526.8L508.6,529L512.3,529L512.3,531.9L516,531.9L516,534.1L519.7,534.1L519.7,536.3L523.4,536.3L523.4,538.5L527.1,538.5L527.1,540.9L530.8,540.9L530.8,542.8L534.5,542.8L534.5,545L538.2,545L538.2,547.2L541.9,547.2L541.9,549.1L545.6,549.1L545.6,550.9L549.3,550.9L549.3,552.8L553,552.8L553,555L556.7,555L556.7,557L560.4,557L560.4,558.9L564.1,558.9L564.1,560.8L567.8,560.8L567.8,562.8L571.5,562.8L571.5,564.7L575.2,564.7L575.2,566.6L578.9,566.6L578.9,568.1L582.6,568.1L582.6,571L586.3,571L586.3,572L590,572L590,574.2L593.7,574.2L593.7,576.4L597.4,576.4L597.4,577.4L601.1,577.4L601.1,580.1L604.8,580.1L604.8,581.8L608.5,581.8L608.5,583.8L612.2,583.8L612.2,584.5L615.9,584.5L615.9,588.8L619.6,588.8L619.6,590.3L623.3,590.3L623.3,591L627,591L627,592.9L630.7,592.9L630.7,597.3L634.4,597.3L634.4,598.3L638.1,598.3L638.1,599.1L641.8,599.1L641.8,604.2L645.5,604.2L645.5,606.1L649.2,606.1L649.2,606.4L652.9,606.4L652.9,610.4L656.6,610.4L656.6,604.9L660.3,604.9L660.3,613.6L664,613.6L664,615.8L667.7,615.8L667.7,624.2L671.4,624.2L671.4,618.8L675.1,618.8" fill="none" stroke="#3399ff" stroke-width="1.3" stroke-dasharray="2.6 1.7" clip-path="url(#cu22)"/>
<rect x="490.1" y="475.3" width="185" height="154.5" fill="none" stroke="#000" stroke-width="0.95"/>
<text x="516.9" y="490.5" font-size="11.5" text-anchor="start" >Old py 8</text>
<line x1="582.3" y1="495.3" x2="597.5" y2="495.3" stroke="#3399ff" stroke-width="1.3" stroke-dasharray="2.2 1.6"/>
<text x="600.3" y="490.5" font-size="11.5" text-anchor="start" >New py 8</text>
<text x="516.9" y="505.5" font-size="11.5">3</text>
<text x="526.6" y="505.5" font-size="10" font-style="italic">&#960;</text>
<text x="532.6" y="508.7" font-size="8">D</text>
<text x="541.4" y="505.5" font-size="11.5">decay</text>
<text x="600.3" y="505.5" font-size="11.5">3</text>
<text x="610" y="505.5" font-size="10" font-style="italic">&#960;</text>
<text x="616" y="508.7" font-size="8">D</text>
<text x="624.8" y="505.5" font-size="11.5">decay</text>
<text transform="translate(468.4,500.6) rotate(-90)" font-size="10.9">N<tspan font-size="7.6" dy="2.6">Jets</tspan></text>
<path d="M499.9 495.3h14.4" stroke="#a8a8a8" stroke-width="1.5" fill="none"/>
<rect x="450.1" y="629.8" width="230" height="45.1" fill="#fff"/>
<text x="488.3" y="676.4" font-size="5.9" text-anchor="end" >0.8</text>
<text x="488.3" y="670.8" font-size="5.9" text-anchor="end" >0.85</text>
<text x="488.3" y="665.3" font-size="5.9" text-anchor="end" >0.9</text>
<text x="488.3" y="659.7" font-size="5.9" text-anchor="end" >0.95</text>
<text x="488.3" y="654.1" font-size="5.9" text-anchor="end" >1</text>
<text x="488.3" y="648.6" font-size="5.9" text-anchor="end" >1.05</text>
<text x="488.3" y="643" font-size="5.9" text-anchor="end" >1.1</text>
<text x="488.3" y="637.5" font-size="5.9" text-anchor="end" >1.15</text>
<path d="M491.4 629.8V674.3M673.8 629.8V674.3" stroke="#8a8a8a" stroke-width="1.6" fill="none"/>
<text x="490.1" y="681.6" font-size="8.9" text-anchor="middle" >0</text>
<text x="520.9" y="681.6" font-size="8.9" text-anchor="middle" >0.05</text>
<text x="551.8" y="681.6" font-size="8.9" text-anchor="middle" >0.1</text>
<text x="582.6" y="681.6" font-size="8.9" text-anchor="middle" >0.15</text>
<text x="613.4" y="681.6" font-size="8.9" text-anchor="middle" >0.2</text>
<text x="644.3" y="681.6" font-size="8.9" text-anchor="middle" >0.25</text>
<text x="675.1" y="681.6" font-size="8.9" text-anchor="middle" >0.3</text>
<line x1="490.1" y1="652.5" x2="675.1" y2="652.5" stroke="#000" stroke-width="0.9" stroke-dasharray="1.4 1.4"/>
<path d="M490.1 674.3h4M675.1 674.3h-4M490.1 668.7h4M675.1 668.7h-4M490.1 663.2h4M675.1 663.2h-4M490.1 657.6h4M675.1 657.6h-4M490.1 652h4M675.1 652h-4M490.1 646.5h4M675.1 646.5h-4M490.1 640.9h4M675.1 640.9h-4M490.1 635.4h4M675.1 635.4h-4M490.1 629.8h4M675.1 629.8h-4M490.1 629.8v2.6M490.1 674.3v-2.6M496.3 629.8v1.4M496.3 674.3v-1.4M502.4 629.8v1.4M502.4 674.3v-1.4M508.6 629.8v1.4M508.6 674.3v-1.4M514.8 629.8v1.4M514.8 674.3v-1.4M520.9 629.8v2.6M520.9 674.3v-2.6M527.1 629.8v1.4M527.1 674.3v-1.4M533.3 629.8v1.4M533.3 674.3v-1.4M539.4 629.8v1.4M539.4 674.3v-1.4M545.6 629.8v1.4M545.6 674.3v-1.4M551.8 629.8v2.6M551.8 674.3v-2.6M557.9 629.8v1.4M557.9 674.3v-1.4M564.1 629.8v1.4M564.1 674.3v-1.4M570.3 629.8v1.4M570.3 674.3v-1.4M576.4 629.8v1.4M576.4 674.3v-1.4M582.6 629.8v2.6M582.6 674.3v-2.6M588.8 629.8v1.4M588.8 674.3v-1.4M594.9 629.8v1.4M594.9 674.3v-1.4M601.1 629.8v1.4M601.1 674.3v-1.4M607.3 629.8v1.4M607.3 674.3v-1.4M613.4 629.8v2.6M613.4 674.3v-2.6M619.6 629.8v1.4M619.6 674.3v-1.4M625.8 629.8v1.4M625.8 674.3v-1.4M631.9 629.8v1.4M631.9 674.3v-1.4M638.1 629.8v1.4M638.1 674.3v-1.4M644.3 629.8v2.6M644.3 674.3v-2.6M650.4 629.8v1.4M650.4 674.3v-1.4M656.6 629.8v1.4M656.6 674.3v-1.4M662.8 629.8v1.4M662.8 674.3v-1.4M668.9 629.8v1.4M668.9 674.3v-1.4M675.1 629.8v2.6M675.1 674.3v-2.6" stroke="#000" stroke-width="0.8" fill="none"/>
<path d="M599.2 640.8V663.1M603 640.1V664.6M628.9 630.4V653.7M640 633.9V673.7" stroke="#a8d0ff" stroke-width="2" fill="none"/>
<path d="M492 647.9V654.6M491.2 647.9h1.6M491.2 654.6h1.6M495.7 648.9V652.3M494.9 648.9h1.6M494.9 652.3h1.6M499.4 650.3V653.6M498.6 650.3h1.6M498.6 653.6h1.6M503.1 649.6V652.9M502.2 649.6h1.6M502.2 652.9h1.6M506.8 650.7V654.1M505.9 650.7h1.6M505.9 654.1h1.6M510.5 651.3V654.6M509.7 651.3h1.6M509.7 654.6h1.6M514.1 650.3V653.6M513.4 650.3h1.6M513.4 653.6h1.6M517.9 650.3V653.6M517.1 650.3h1.6M517.1 653.6h1.6M521.6 649.2V652.5M520.8 649.2h1.6M520.8 652.5h1.6M525.2 652V655.4M524.5 652h1.6M524.5 655.4h1.6M529 651.3V654.6M528.2 651.3h1.6M528.2 654.6h1.6M532.6 653.6V658.1M531.9 653.6h1.6M531.9 658.1h1.6M536.4 649V653.5M535.6 649h1.6M535.6 653.5h1.6M540.1 651.9V657.5M539.3 651.9h1.6M539.3 657.5h1.6M543.8 648.6V655.3M543 648.6h1.6M543 655.3h1.6M547.5 653.2V659.8M546.7 653.2h1.6M546.7 659.8h1.6M551.1 651.9V659.7M550.4 651.9h1.6M550.4 659.7h1.6M554.9 643.4V652.3M554.1 643.4h1.6M554.1 652.3h1.6M558.6 653.1V662M557.8 653.1h1.6M557.8 662h1.6M562.2 649V659.1M561.5 649h1.6M561.5 659.1h1.6M566 647.8V658.9M565.2 647.8h1.6M565.2 658.9h1.6M569.6 639.1V651.4M568.9 639.1h1.6M568.9 651.4h1.6M573.4 647.9V660.2M572.6 647.9h1.6M572.6 660.2h1.6M577.1 631V646.6M576.3 631h1.6M576.3 646.6h1.6M580.8 635.9V651.5M580 635.9h1.6M580 651.5h1.6M584.5 649.5V665.1M583.7 649.5h1.6M583.7 665.1h1.6M588.2 644.2V662M587.4 644.2h1.6M587.4 662h1.6M591.9 640.6V660.6M591.1 640.6h1.6M591.1 660.6h1.6M595.6 631.1V653.4M594.8 631.1h1.6M594.8 653.4h1.6M606.7 637.9V664.6M605.9 637.9h1.6M605.9 664.6h1.6M610.4 644.2V673.1M609.6 644.2h1.6M609.6 673.1h1.6M621.5 630.4V665.7M620.7 665.7h1.6M632.6 630.4V668.8M631.8 668.8h1.6M636.2 630.4V673.7M651.1 634.2V673.7M650.3 634.2h1.6M665.9 630.4V673.7" stroke="#3399ff" stroke-width="1" fill="none"/>
<path d="M490.1 651.3h3.7M493.8 650.6h3.7M497.5 651.9h3.7M501.2 651.3h3.7M504.9 652.4h3.7M508.6 652.9h3.7M512.3 651.9h3.7M516 651.9h3.7M519.7 650.8h3.7M523.4 653.7h3.7M527.1 652.9h3.7M530.8 655.8h3.7M534.5 651.3h3.7M538.2 654.7h3.7M541.9 651.9h3.7M545.6 656.5h3.7M549.3 655.8h3.7M553 647.8h3.7M556.7 657.5h3.7M560.4 654.1h3.7M564.1 653.4h3.7M567.8 645.3h3.7M571.5 654.1h3.7M575.2 638.8h3.7M578.9 643.7h3.7M582.6 657.3h3.7M586.3 653.1h3.7M590 650.6h3.7M593.7 642.3h3.7M597.4 651.9h3.7M601.1 652.4h3.7M604.8 651.3h3.7M608.5 658.6h3.7M619.6 644.6h3.7M627 633.7h3.7M630.7 639.9h3.7M634.4 657.8h3.7M638.1 661.7h3.7M649.2 667.6h3.7M664 637h3.7" stroke="#000" stroke-width="0.9" fill="none"/>
<circle cx="492" cy="651.3" r="1.3"/>
<circle cx="495.7" cy="650.6" r="1.3"/>
<circle cx="499.4" cy="651.9" r="1.3"/>
<circle cx="503.1" cy="651.3" r="1.3"/>
<circle cx="506.8" cy="652.4" r="1.3"/>
<circle cx="510.5" cy="652.9" r="1.3"/>
<circle cx="514.1" cy="651.9" r="1.3"/>
<circle cx="517.9" cy="651.9" r="1.3"/>
<circle cx="521.6" cy="650.8" r="1.3"/>
<circle cx="525.2" cy="653.7" r="1.3"/>
<circle cx="529" cy="652.9" r="1.3"/>
<circle cx="532.6" cy="655.8" r="1.3"/>
<circle cx="536.4" cy="651.3" r="1.3"/>
<circle cx="540.1" cy="654.7" r="1.3"/>
<circle cx="543.8" cy="651.9" r="1.3"/>
<circle cx="547.5" cy="656.5" r="1.3"/>
<circle cx="551.1" cy="655.8" r="1.3"/>
<circle cx="554.9" cy="647.8" r="1.3"/>
<circle cx="558.6" cy="657.5" r="1.3"/>
<circle cx="562.2" cy="654.1" r="1.3"/>
<circle cx="566" cy="653.4" r="1.3"/>
<circle cx="569.6" cy="645.3" r="1.3"/>
<circle cx="573.4" cy="654.1" r="1.3"/>
<circle cx="577.1" cy="638.8" r="1.3"/>
<circle cx="580.8" cy="643.7" r="1.3"/>
<circle cx="584.5" cy="657.3" r="1.3"/>
<circle cx="588.2" cy="653.1" r="1.3"/>
<circle cx="591.9" cy="650.6" r="1.3"/>
<circle cx="595.6" cy="642.3" r="1.3"/>
<circle cx="599.2" cy="651.9" r="1.3"/>
<circle cx="603" cy="652.4" r="1.3"/>
<circle cx="606.7" cy="651.3" r="1.3"/>
<circle cx="610.4" cy="658.6" r="1.3"/>
<circle cx="621.5" cy="644.6" r="1.3"/>
<circle cx="628.9" cy="633.7" r="1.3"/>
<circle cx="632.6" cy="639.9" r="1.3"/>
<circle cx="636.2" cy="657.8" r="1.3"/>
<circle cx="640" cy="661.7" r="1.3"/>
<circle cx="651.1" cy="667.6" r="1.3"/>
<circle cx="665.9" cy="637" r="1.3"/>
<rect x="490.1" y="629.8" width="185" height="44.5" fill="none" stroke="#000" stroke-width="0.95"/>
<text x="675.7" y="693.6" font-size="10.3" text-anchor="end" >Axis minor (GenJet, R=0.8)</text>
<text x="31.2" y="865.9" font-size="8.7" text-anchor="end">10<tspan font-size="5.8" dy="-3.6" dx="-0.3">&#8722;</tspan><tspan font-size="5.8" dx="0.2">5</tspan></text>
<text x="31.2" y="840.7" font-size="8.7" text-anchor="end">10<tspan font-size="5.8" dy="-3.6" dx="-0.3">&#8722;</tspan><tspan font-size="5.8" dx="0.2">4</tspan></text>
<text x="31.2" y="815.6" font-size="8.7" text-anchor="end">10<tspan font-size="5.8" dy="-3.6" dx="-0.3">&#8722;</tspan><tspan font-size="5.8" dx="0.2">3</tspan></text>
<text x="31.2" y="790.4" font-size="8.7" text-anchor="end">10<tspan font-size="5.8" dy="-3.6" dx="-0.3">&#8722;</tspan><tspan font-size="5.8" dx="0.2">2</tspan></text>
<text x="31.2" y="765.2" font-size="8.7" text-anchor="end">10<tspan font-size="5.8" dy="-3.6" dx="-0.3">&#8722;</tspan><tspan font-size="5.8" dx="0.2">1</tspan></text>
<text x="31.2" y="740" font-size="8.7" text-anchor="end" >1</text>
<text x="31.2" y="714.9" font-size="8.7" text-anchor="end" clip-path="url(#cl30)">10</text>
<path d="M32.6 862.8h6M217.4 862.8h-6M32.6 837.6h6M217.4 837.6h-6M32.6 812.5h6M217.4 812.5h-6M32.6 787.3h6M217.4 787.3h-6M32.6 762.1h6M217.4 762.1h-6M32.6 736.9h6M217.4 736.9h-6M32.6 711.8h6M217.4 711.8h-6" stroke="#000" stroke-width="0.9" fill="none"/>
<path d="M32.6 855.2h3M217.4 855.2h-3M32.6 850.8h3M217.4 850.8h-3M32.6 847.6h3M217.4 847.6h-3M32.6 845.2h3M217.4 845.2h-3M32.6 843.2h3M217.4 843.2h-3M32.6 841.5h3M217.4 841.5h-3M32.6 840.1h3M217.4 840.1h-3M32.6 838.8h3M217.4 838.8h-3M32.6 830.1h3M217.4 830.1h-3M32.6 825.6h3M217.4 825.6h-3M32.6 822.5h3M217.4 822.5h-3M32.6 820h3M217.4 820h-3M32.6 818h3M217.4 818h-3M32.6 816.4h3M217.4 816.4h-3M32.6 814.9h3M217.4 814.9h-3M32.6 813.6h3M217.4 813.6h-3M32.6 804.9h3M217.4 804.9h-3M32.6 800.4h3M217.4 800.4h-3M32.6 797.3h3M217.4 797.3h-3M32.6 794.9h3M217.4 794.9h-3M32.6 792.9h3M217.4 792.9h-3M32.6 791.2h3M217.4 791.2h-3M32.6 789.7h3M217.4 789.7h-3M32.6 788.4h3M217.4 788.4h-3M32.6 779.7h3M217.4 779.7h-3M32.6 775.3h3M217.4 775.3h-3M32.6 772.1h3M217.4 772.1h-3M32.6 769.7h3M217.4 769.7h-3M32.6 767.7h3M217.4 767.7h-3M32.6 766h3M217.4 766h-3M32.6 764.6h3M217.4 764.6h-3M32.6 763.3h3M217.4 763.3h-3M32.6 754.5h3M217.4 754.5h-3M32.6 750.1h3M217.4 750.1h-3M32.6 747h3M217.4 747h-3M32.6 744.5h3M217.4 744.5h-3M32.6 742.5h3M217.4 742.5h-3M32.6 740.8h3M217.4 740.8h-3M32.6 739.4h3M217.4 739.4h-3M32.6 738.1h3M217.4 738.1h-3M32.6 729.4h3M217.4 729.4h-3M32.6 724.9h3M217.4 724.9h-3M32.6 721.8h3M217.4 721.8h-3M32.6 719.3h3M217.4 719.3h-3M32.6 717.4h3M217.4 717.4h-3M32.6 715.7h3M217.4 715.7h-3M32.6 714.2h3M217.4 714.2h-3M32.6 712.9h3M217.4 712.9h-3M32.6 708.5v3.5M32.6 862.8v-3.5M36.3 708.5v1.8M36.3 862.8v-1.8M40 708.5v1.8M40 862.8v-1.8M43.7 708.5v1.8M43.7 862.8v-1.8M47.4 708.5v1.8M47.4 862.8v-1.8M51.1 708.5v3.5M51.1 862.8v-3.5M54.8 708.5v1.8M54.8 862.8v-1.8M58.5 708.5v1.8M58.5 862.8v-1.8M62.2 708.5v1.8M62.2 862.8v-1.8M65.9 708.5v1.8M65.9 862.8v-1.8M69.6 708.5v3.5M69.6 862.8v-3.5M73.3 708.5v1.8M73.3 862.8v-1.8M77 708.5v1.8M77 862.8v-1.8M80.6 708.5v1.8M80.6 862.8v-1.8M84.3 708.5v1.8M84.3 862.8v-1.8M88 708.5v3.5M88 862.8v-3.5M91.7 708.5v1.8M91.7 862.8v-1.8M95.4 708.5v1.8M95.4 862.8v-1.8M99.1 708.5v1.8M99.1 862.8v-1.8M102.8 708.5v1.8M102.8 862.8v-1.8M106.5 708.5v3.5M106.5 862.8v-3.5M110.2 708.5v1.8M110.2 862.8v-1.8M113.9 708.5v1.8M113.9 862.8v-1.8M117.6 708.5v1.8M117.6 862.8v-1.8M121.3 708.5v1.8M121.3 862.8v-1.8M125 708.5v3.5M125 862.8v-3.5M128.7 708.5v1.8M128.7 862.8v-1.8M132.4 708.5v1.8M132.4 862.8v-1.8M136.1 708.5v1.8M136.1 862.8v-1.8M139.8 708.5v1.8M139.8 862.8v-1.8M143.5 708.5v3.5M143.5 862.8v-3.5M147.2 708.5v1.8M147.2 862.8v-1.8M150.9 708.5v1.8M150.9 862.8v-1.8M154.6 708.5v1.8M154.6 862.8v-1.8M158.3 708.5v1.8M158.3 862.8v-1.8M162 708.5v3.5M162 862.8v-3.5M165.7 708.5v1.8M165.7 862.8v-1.8M169.4 708.5v1.8M169.4 862.8v-1.8M173 708.5v1.8M173 862.8v-1.8M176.7 708.5v1.8M176.7 862.8v-1.8M180.4 708.5v3.5M180.4 862.8v-3.5M184.1 708.5v1.8M184.1 862.8v-1.8M187.8 708.5v1.8M187.8 862.8v-1.8M191.5 708.5v1.8M191.5 862.8v-1.8M195.2 708.5v1.8M195.2 862.8v-1.8M198.9 708.5v3.5M198.9 862.8v-3.5M202.6 708.5v1.8M202.6 862.8v-1.8M206.3 708.5v1.8M206.3 862.8v-1.8M210 708.5v1.8M210 862.8v-1.8M213.7 708.5v1.8M213.7 862.8v-1.8M217.4 708.5v3.5M217.4 862.8v-3.5" stroke="#000" stroke-width="0.8" fill="none"/>
<path d="M32.6,762L36.3,762L36.3,758.2L40,758.2L40,759.7L43.7,759.7L43.7,764.1L47.4,764.1L47.4,766L51.1,766L51.1,767.7L54.8,767.7L54.8,769.2L58.5,769.2L58.5,770.7L62.2,770.7L62.2,772.8L65.9,772.8L65.9,774.7L69.6,774.7L69.6,776.5L73.3,776.5L73.3,778L77,778L77,779.4L80.6,779.4L80.6,780.9L84.3,780.9L84.3,782.3L88,782.3L88,783.5L91.7,783.5L91.7,784.5L95.4,784.5L95.4,785.5L99.1,785.5L99.1,786.7L102.8,786.7L102.8,788.9L106.5,788.9L106.5,789L110.2,789L110.2,789.3L113.9,789.3L113.9,789.9L117.6,789.9L117.6,790.8L121.3,790.8L121.3,791.2L125,791.2L125,791.8L128.7,791.8L128.7,792.6L132.4,792.6L132.4,793.7L136.1,793.7L136.1,795.2L139.8,795.2L139.8,795.5L143.5,795.5L143.5,796.2L147.2,796.2L147.2,796.9L150.9,796.9L150.9,797.7L154.6,797.7L154.6,799.1L158.3,799.1L158.3,800.1L162,800.1L162,800.1L165.7,800.1L165.7,802.8L169.4,802.8L169.4,804.2L173,804.2L173,806.4L176.7,806.4L176.7,806.4L180.4,806.4L180.4,810.8L184.1,810.8L184.1,815.2L187.8,815.2L187.8,819.6L191.5,819.6L191.5,822.5L195.2,822.5L195.2,829.8L198.9,829.8L198.9,840.4L202.6,840.4L202.6,831.2L206.3,831.2L206.3,845.8L210,845.8L210,842.2L213.7,842.2L213.7,856.8L217.4,856.8" fill="none" stroke="#a8a8a8" stroke-width="1.5"  clip-path="url(#cu30)"/>
<path d="M32.6,777L36.3,777L36.3,758.2L40,758.2L40,759.7L43.7,759.7L43.7,764.1L47.4,764.1L47.4,766L51.1,766L51.1,767.7L54.8,767.7L54.8,769.2L58.5,769.2L58.5,770.7L62.2,770.7L62.2,772.8L65.9,772.8L65.9,774.7L69.6,774.7L69.6,776.5L73.3,776.5L73.3,778L77,778L77,779.4L80.6,779.4L80.6,780.9L84.3,780.9L84.3,782.3L88,782.3L88,783.5L91.7,783.5L91.7,784.5L95.4,784.5L95.4,785.5L99.1,785.5L99.1,786.7L102.8,786.7L102.8,787.4L106.5,787.4L106.5,788.5L110.2,788.5L110.2,789.3L113.9,789.3L113.9,789.9L117.6,789.9L117.6,790.8L121.3,790.8L121.3,791.2L125,791.2L125,791.8L128.7,791.8L128.7,792.6L132.4,792.6L132.4,793.7L136.1,793.7L136.1,795.2L139.8,795.2L139.8,795.5L143.5,795.5L143.5,796.2L147.2,796.2L147.2,796.9L150.9,796.9L150.9,797.7L154.6,797.7L154.6,799.1L158.3,799.1L158.3,800.1L162,800.1L162,801.3L165.7,801.3L165.7,802.8L169.4,802.8L169.4,804.2L173,804.2L173,806.4L176.7,806.4L176.7,809.3L180.4,809.3L180.4,811.5L184.1,811.5L184.1,815.9L187.8,815.9L187.8,820.3L191.5,820.3L191.5,822L195.2,822L195.2,823.2L198.9,823.2L198.9,834.9L202.6,834.9L202.6,837.5L206.3,837.5L206.3,844.4L210,844.4L210,842.9L213.7,842.9L213.7,851.7L217.4,851.7" fill="none" stroke="#00a000" stroke-width="1.3" stroke-dasharray="2.6 1.7" clip-path="url(#cu30)"/>
<rect x="32.6" y="708.5" width="184.8" height="154.3" fill="none" stroke="#000" stroke-width="0.95"/>
<text x="59.4" y="723.7" font-size="11.5" text-anchor="start" >Old py 8</text>
<line x1="124.8" y1="728.5" x2="140" y2="728.5" stroke="#00a000" stroke-width="1.3" stroke-dasharray="2.2 1.6"/>
<text x="142.8" y="723.7" font-size="11.5" text-anchor="start" >New py 8</text>
<text x="59.4" y="738.7" font-size="11.5">1</text>
<text x="67" y="738.7" font-size="10" font-style="italic">&#960;</text>
<text x="73.3" y="741.9" font-size="8">D</text>
<text x="82.4" y="738.7" font-size="11.5">decay</text>
<text x="142.8" y="738.7" font-size="11.5">1</text>
<text x="150.4" y="738.7" font-size="10" font-style="italic">&#960;</text>
<text x="156.7" y="741.9" font-size="8">D</text>
<text x="165.8" y="738.7" font-size="11.5">decay</text>
<text transform="translate(10.9,733.8) rotate(-90)" font-size="10.9">N<tspan font-size="7.6" dy="2.6">Jets</tspan></text>
<path d="M42.4 728.5h14.4" stroke="#a8a8a8" stroke-width="1.5" fill="none"/>
<rect x="-7.4" y="862.8" width="229.8" height="45.1" fill="#fff"/>
<text x="30.8" y="909.4" font-size="5.9" text-anchor="end" >0.8</text>
<text x="30.8" y="903.8" font-size="5.9" text-anchor="end" >0.85</text>
<text x="30.8" y="898.3" font-size="5.9" text-anchor="end" >0.9</text>
<text x="30.8" y="892.7" font-size="5.9" text-anchor="end" >0.95</text>
<text x="30.8" y="887.1" font-size="5.9" text-anchor="end" >1</text>
<text x="30.8" y="881.6" font-size="5.9" text-anchor="end" >1.05</text>
<text x="30.8" y="876" font-size="5.9" text-anchor="end" >1.1</text>
<text x="30.8" y="870.5" font-size="5.9" text-anchor="end" >1.15</text>
<path d="M33.9 862.8V907.3M216.1 862.8V907.3" stroke="#8a8a8a" stroke-width="1.6" fill="none"/>
<text x="32.6" y="914.6" font-size="8.9" text-anchor="middle" >0</text>
<text x="51.1" y="914.6" font-size="8.9" text-anchor="middle" >0.05</text>
<text x="69.6" y="914.6" font-size="8.9" text-anchor="middle" >0.1</text>
<text x="88" y="914.6" font-size="8.9" text-anchor="middle" >0.15</text>
<text x="106.5" y="914.6" font-size="8.9" text-anchor="middle" >0.2</text>
<text x="125" y="914.6" font-size="8.9" text-anchor="middle" >0.25</text>
<text x="143.5" y="914.6" font-size="8.9" text-anchor="middle" >0.3</text>
<text x="162" y="914.6" font-size="8.9" text-anchor="middle" >0.35</text>
<text x="180.4" y="914.6" font-size="8.9" text-anchor="middle" >0.4</text>
<text x="198.9" y="914.6" font-size="8.9" text-anchor="middle" >0.45</text>
<text x="217.4" y="914.6" font-size="8.9" text-anchor="middle" >0.5</text>
<line x1="32.6" y1="885.5" x2="217.4" y2="885.5" stroke="#000" stroke-width="0.9" stroke-dasharray="1.4 1.4"/>
<path d="M32.6 907.3h4M217.4 907.3h-4M32.6 901.7h4M217.4 901.7h-4M32.6 896.2h4M217.4 896.2h-4M32.6 890.6h4M217.4 890.6h-4M32.6 885h4M217.4 885h-4M32.6 879.5h4M217.4 879.5h-4M32.6 873.9h4M217.4 873.9h-4M32.6 868.4h4M217.4 868.4h-4M32.6 862.8h4M217.4 862.8h-4M32.6 862.8v2.6M32.6 907.3v-2.6M36.3 862.8v1.4M36.3 907.3v-1.4M40 862.8v1.4M40 907.3v-1.4M43.7 862.8v1.4M43.7 907.3v-1.4M47.4 862.8v1.4M47.4 907.3v-1.4M51.1 862.8v2.6M51.1 907.3v-2.6M54.8 862.8v1.4M54.8 907.3v-1.4M58.5 862.8v1.4M58.5 907.3v-1.4M62.2 862.8v1.4M62.2 907.3v-1.4M65.9 862.8v1.4M65.9 907.3v-1.4M69.6 862.8v2.6M69.6 907.3v-2.6M73.3 862.8v1.4M73.3 907.3v-1.4M77 862.8v1.4M77 907.3v-1.4M80.6 862.8v1.4M80.6 907.3v-1.4M84.3 862.8v1.4M84.3 907.3v-1.4M88 862.8v2.6M88 907.3v-2.6M91.7 862.8v1.4M91.7 907.3v-1.4M95.4 862.8v1.4M95.4 907.3v-1.4M99.1 862.8v1.4M99.1 907.3v-1.4M102.8 862.8v1.4M102.8 907.3v-1.4M106.5 862.8v2.6M106.5 907.3v-2.6M110.2 862.8v1.4M110.2 907.3v-1.4M113.9 862.8v1.4M113.9 907.3v-1.4M117.6 862.8v1.4M117.6 907.3v-1.4M121.3 862.8v1.4M121.3 907.3v-1.4M125 862.8v2.6M125 907.3v-2.6M128.7 862.8v1.4M128.7 907.3v-1.4M132.4 862.8v1.4M132.4 907.3v-1.4M136.1 862.8v1.4M136.1 907.3v-1.4M139.8 862.8v1.4M139.8 907.3v-1.4M143.5 862.8v2.6M143.5 907.3v-2.6M147.2 862.8v1.4M147.2 907.3v-1.4M150.9 862.8v1.4M150.9 907.3v-1.4M154.6 862.8v1.4M154.6 907.3v-1.4M158.3 862.8v1.4M158.3 907.3v-1.4M162 862.8v2.6M162 907.3v-2.6M165.7 862.8v1.4M165.7 907.3v-1.4M169.4 862.8v1.4M169.4 907.3v-1.4M173 862.8v1.4M173 907.3v-1.4M176.7 862.8v1.4M176.7 907.3v-1.4M180.4 862.8v2.6M180.4 907.3v-2.6M184.1 862.8v1.4M184.1 907.3v-1.4M187.8 862.8v1.4M187.8 907.3v-1.4M191.5 862.8v1.4M191.5 907.3v-1.4M195.2 862.8v1.4M195.2 907.3v-1.4M198.9 862.8v2.6M198.9 907.3v-2.6M202.6 862.8v1.4M202.6 907.3v-1.4M206.3 862.8v1.4M206.3 907.3v-1.4M210 862.8v1.4M210 907.3v-1.4M213.7 862.8v1.4M213.7 907.3v-1.4M217.4 862.8v2.6M217.4 907.3v-2.6" stroke="#000" stroke-width="0.8" fill="none"/>
<path d="M123.2 885.3V898.6M134.2 868.9V886.7M149 877.7V897.7M160.1 863.7V888.2M174.9 874.4V903.3M186 874.4V906.7M211.9 863.4V906.7" stroke="#9ad89a" stroke-width="2" fill="none"/>
<path d="M34.4 881.6V888.3M33.6 881.6h1.6M33.6 888.3h1.6M38.1 885.4V888.7M37.3 885.4h1.6M37.3 888.7h1.6M41.8 885.8V889.2M41 885.8h1.6M41 889.2h1.6M45.5 884.7V888.1M44.7 884.7h1.6M44.7 888.1h1.6M49.2 884.4V887.7M48.4 884.4h1.6M48.4 887.7h1.6M52.9 883.7V887.1M52.1 883.7h1.6M52.1 887.1h1.6M56.6 881.9V885.3M55.8 881.9h1.6M55.8 885.3h1.6M60.3 883.3V886.6M59.5 883.3h1.6M59.5 886.6h1.6M64 882.2V885.5M63.2 882.2h1.6M63.2 885.5h1.6M67.7 883.4V887.8M66.9 883.4h1.6M66.9 887.8h1.6M71.4 878.3V883.8M70.6 878.3h1.6M70.6 883.8h1.6M75.1 879.9V886.6M74.3 879.9h1.6M74.3 886.6h1.6M78.8 880.5V887.2M78 880.5h1.6M78 887.2h1.6M82.5 876.5V883.2M81.7 876.5h1.6M81.7 883.2h1.6M86.2 885.3V893.1M85.4 885.3h1.6M85.4 893.1h1.6M89.9 880.8V888.6M89.1 880.8h1.6M89.1 888.6h1.6M93.6 877.5V886.4M92.8 877.5h1.6M92.8 886.4h1.6M97.3 872.9V881.8M96.5 872.9h1.6M96.5 881.8h1.6M101 882.5V892.5M100.2 882.5h1.6M100.2 892.5h1.6M104.7 880.4V891.5M103.9 880.4h1.6M103.9 891.5h1.6M108.4 863.4V873.4M107.6 873.4h1.6M112.1 881V892.2M111.3 881h1.6M111.3 892.2h1.6M115.8 876.3V889.6M115 876.3h1.6M115 889.6h1.6M119.5 876.3V889.6M118.7 876.3h1.6M118.7 889.6h1.6M126.8 882.2V895.5M126 882.2h1.6M126 895.5h1.6M130.5 871.4V886.9M129.7 871.4h1.6M129.7 886.9h1.6M137.9 865.9V885.9M137.1 865.9h1.6M137.1 885.9h1.6M141.6 864.6V884.6M140.8 864.6h1.6M140.8 884.6h1.6M145.3 883.9V901.7M144.5 883.9h1.6M144.5 901.7h1.6M152.7 866.9V889.2M151.9 866.9h1.6M151.9 889.2h1.6M156.4 863.4V885.4M155.6 885.4h1.6M163.8 882.8V905.1M163 882.8h1.6M163 905.1h1.6M167.5 863.4V889.1M166.7 889.1h1.6M171.2 863.4V881.4M170.4 881.4h1.6M182.3 883.6V906.7M181.5 883.6h1.6M189.7 874V906.7M188.9 874h1.6M193.4 863.4V901.7M192.6 901.7h1.6M208.2 863.4V906.7" stroke="#00a000" stroke-width="1" fill="none"/>
<path d="M32.6 884.9h3.7M36.3 887.1h3.7M40 887.5h3.7M43.7 886.4h3.7M47.4 886.1h3.7M51.1 885.4h3.7M54.8 883.6h3.7M58.5 884.9h3.7M62.2 883.8h3.7M65.9 885.6h3.7M69.6 881h3.7M73.3 883.3h3.7M77 883.8h3.7M80.6 879.8h3.7M84.3 889.2h3.7M88 884.7h3.7M91.7 881.9h3.7M95.4 877.4h3.7M99.1 887.5h3.7M102.8 885.9h3.7M106.5 866.7h3.7M110.2 886.6h3.7M113.9 882.9h3.7M117.6 882.9h3.7M121.3 891.9h3.7M125 888.8h3.7M128.7 879.2h3.7M132.4 877.8h3.7M136.1 875.9h3.7M139.8 874.6h3.7M143.5 892.8h3.7M147.2 887.7h3.7M150.9 878h3.7M154.6 874.3h3.7M158.3 875.9h3.7M162 893.9h3.7M165.7 874.6h3.7M169.4 865.8h3.7M173 888.8h3.7M180.4 900.3h3.7M184.1 894.4h3.7M187.8 896.3h3.7M191.5 868.4h3.7M210 896.3h3.7" stroke="#000" stroke-width="0.9" fill="none"/>
<circle cx="34.4" cy="884.9" r="1.3"/>
<circle cx="38.1" cy="887.1" r="1.3"/>
<circle cx="41.8" cy="887.5" r="1.3"/>
<circle cx="45.5" cy="886.4" r="1.3"/>
<circle cx="49.2" cy="886.1" r="1.3"/>
<circle cx="52.9" cy="885.4" r="1.3"/>
<circle cx="56.6" cy="883.6" r="1.3"/>
<circle cx="60.3" cy="884.9" r="1.3"/>
<circle cx="64" cy="883.8" r="1.3"/>
<circle cx="67.7" cy="885.6" r="1.3"/>
<circle cx="71.4" cy="881" r="1.3"/>
<circle cx="75.1" cy="883.3" r="1.3"/>
<circle cx="78.8" cy="883.8" r="1.3"/>
<circle cx="82.5" cy="879.8" r="1.3"/>
<circle cx="86.2" cy="889.2" r="1.3"/>
<circle cx="89.9" cy="884.7" r="1.3"/>
<circle cx="93.6" cy="881.9" r="1.3"/>
<circle cx="97.3" cy="877.4" r="1.3"/>
<circle cx="101" cy="887.5" r="1.3"/>
<circle cx="104.7" cy="885.9" r="1.3"/>
<circle cx="108.4" cy="866.7" r="1.3"/>
<circle cx="112.1" cy="886.6" r="1.3"/>
<circle cx="115.8" cy="882.9" r="1.3"/>
<circle cx="119.5" cy="882.9" r="1.3"/>
<circle cx="123.2" cy="891.9" r="1.3"/>
<circle cx="126.8" cy="888.8" r="1.3"/>
<circle cx="130.5" cy="879.2" r="1.3"/>
<circle cx="134.2" cy="877.8" r="1.3"/>
<circle cx="137.9" cy="875.9" r="1.3"/>
<circle cx="141.6" cy="874.6" r="1.3"/>
<circle cx="145.3" cy="892.8" r="1.3"/>
<circle cx="149" cy="887.7" r="1.3"/>
<circle cx="152.7" cy="878" r="1.3"/>
<circle cx="156.4" cy="874.3" r="1.3"/>
<circle cx="160.1" cy="875.9" r="1.3"/>
<circle cx="163.8" cy="893.9" r="1.3"/>
<circle cx="167.5" cy="874.6" r="1.3"/>
<circle cx="171.2" cy="865.8" r="1.3"/>
<circle cx="174.9" cy="888.8" r="1.3"/>
<circle cx="182.3" cy="900.3" r="1.3"/>
<circle cx="186" cy="894.4" r="1.3"/>
<circle cx="189.7" cy="896.3" r="1.3"/>
<circle cx="193.4" cy="868.4" r="1.3"/>
<circle cx="211.9" cy="896.3" r="1.3"/>
<rect x="32.6" y="862.8" width="184.8" height="44.5" fill="none" stroke="#000" stroke-width="0.95"/>
<text x="218" y="926.6" font-size="10.3" text-anchor="end" >Axis major (GenJet, R=0.8)</text>
<text x="260.1" y="865.9" font-size="8.7" text-anchor="end">10<tspan font-size="5.8" dy="-3.6" dx="-0.3">&#8722;</tspan><tspan font-size="5.8" dx="0.2">5</tspan></text>
<text x="260.1" y="840.2" font-size="8.7" text-anchor="end">10<tspan font-size="5.8" dy="-3.6" dx="-0.3">&#8722;</tspan><tspan font-size="5.8" dx="0.2">4</tspan></text>
<text x="260.1" y="814.5" font-size="8.7" text-anchor="end">10<tspan font-size="5.8" dy="-3.6" dx="-0.3">&#8722;</tspan><tspan font-size="5.8" dx="0.2">3</tspan></text>
<text x="260.1" y="788.8" font-size="8.7" text-anchor="end">10<tspan font-size="5.8" dy="-3.6" dx="-0.3">&#8722;</tspan><tspan font-size="5.8" dx="0.2">2</tspan></text>
<text x="260.1" y="763" font-size="8.7" text-anchor="end">10<tspan font-size="5.8" dy="-3.6" dx="-0.3">&#8722;</tspan><tspan font-size="5.8" dx="0.2">1</tspan></text>
<text x="260.1" y="737.3" font-size="8.7" text-anchor="end" >1</text>
<text x="260.1" y="711.6" font-size="8.7" text-anchor="end" clip-path="url(#cl31)">10</text>
<path d="M261.4 862.8h6M446.3 862.8h-6M261.4 837.1h6M446.3 837.1h-6M261.4 811.4h6M446.3 811.4h-6M261.4 785.6h6M446.3 785.6h-6M261.4 759.9h6M446.3 759.9h-6M261.4 734.2h6M446.3 734.2h-6M261.4 708.5h6M446.3 708.5h-6" stroke="#000" stroke-width="0.9" fill="none"/>
<path d="M261.4 855.1h3M446.3 855.1h-3M261.4 850.5h3M446.3 850.5h-3M261.4 847.3h3M446.3 847.3h-3M261.4 844.8h3M446.3 844.8h-3M261.4 842.8h3M446.3 842.8h-3M261.4 841.1h3M446.3 841.1h-3M261.4 839.6h3M446.3 839.6h-3M261.4 838.3h3M446.3 838.3h-3M261.4 829.3h3M446.3 829.3h-3M261.4 824.8h3M446.3 824.8h-3M261.4 821.6h3M446.3 821.6h-3M261.4 819.1h3M446.3 819.1h-3M261.4 817.1h3M446.3 817.1h-3M261.4 815.4h3M446.3 815.4h-3M261.4 813.9h3M446.3 813.9h-3M261.4 812.5h3M446.3 812.5h-3M261.4 803.6h3M446.3 803.6h-3M261.4 799.1h3M446.3 799.1h-3M261.4 795.9h3M446.3 795.9h-3M261.4 793.4h3M446.3 793.4h-3M261.4 791.4h3M446.3 791.4h-3M261.4 789.6h3M446.3 789.6h-3M261.4 788.1h3M446.3 788.1h-3M261.4 786.8h3M446.3 786.8h-3M261.4 777.9h3M446.3 777.9h-3M261.4 773.4h3M446.3 773.4h-3M261.4 770.2h3M446.3 770.2h-3M261.4 767.7h3M446.3 767.7h-3M261.4 765.6h3M446.3 765.6h-3M261.4 763.9h3M446.3 763.9h-3M261.4 762.4h3M446.3 762.4h-3M261.4 761.1h3M446.3 761.1h-3M261.4 752.2h3M446.3 752.2h-3M261.4 747.7h3M446.3 747.7h-3M261.4 744.5h3M446.3 744.5h-3M261.4 742h3M446.3 742h-3M261.4 739.9h3M446.3 739.9h-3M261.4 738.2h3M446.3 738.2h-3M261.4 736.7h3M446.3 736.7h-3M261.4 735.4h3M446.3 735.4h-3M261.4 726.5h3M446.3 726.5h-3M261.4 721.9h3M446.3 721.9h-3M261.4 718.7h3M446.3 718.7h-3M261.4 716.2h3M446.3 716.2h-3M261.4 714.2h3M446.3 714.2h-3M261.4 712.5h3M446.3 712.5h-3M261.4 711h3M446.3 711h-3M261.4 709.7h3M446.3 709.7h-3M261.4 708.5v3.5M261.4 862.8v-3.5M265.1 708.5v1.8M265.1 862.8v-1.8M268.8 708.5v1.8M268.8 862.8v-1.8M272.5 708.5v1.8M272.5 862.8v-1.8M276.2 708.5v1.8M276.2 862.8v-1.8M279.9 708.5v3.5M279.9 862.8v-3.5M283.6 708.5v1.8M283.6 862.8v-1.8M287.3 708.5v1.8M287.3 862.8v-1.8M291 708.5v1.8M291 862.8v-1.8M294.7 708.5v1.8M294.7 862.8v-1.8M298.4 708.5v3.5M298.4 862.8v-3.5M302.1 708.5v1.8M302.1 862.8v-1.8M305.8 708.5v1.8M305.8 862.8v-1.8M309.5 708.5v1.8M309.5 862.8v-1.8M313.2 708.5v1.8M313.2 862.8v-1.8M316.9 708.5v3.5M316.9 862.8v-3.5M320.6 708.5v1.8M320.6 862.8v-1.8M324.3 708.5v1.8M324.3 862.8v-1.8M328 708.5v1.8M328 862.8v-1.8M331.7 708.5v1.8M331.7 862.8v-1.8M335.4 708.5v3.5M335.4 862.8v-3.5M339.1 708.5v1.8M339.1 862.8v-1.8M342.8 708.5v1.8M342.8 862.8v-1.8M346.5 708.5v1.8M346.5 862.8v-1.8M350.2 708.5v1.8M350.2 862.8v-1.8M353.9 708.5v3.5M353.9 862.8v-3.5M357.6 708.5v1.8M357.6 862.8v-1.8M361.3 708.5v1.8M361.3 862.8v-1.8M365 708.5v1.8M365 862.8v-1.8M368.7 708.5v1.8M368.7 862.8v-1.8M372.4 708.5v3.5M372.4 862.8v-3.5M376.1 708.5v1.8M376.1 862.8v-1.8M379.8 708.5v1.8M379.8 862.8v-1.8M383.5 708.5v1.8M383.5 862.8v-1.8M387.1 708.5v1.8M387.1 862.8v-1.8M390.8 708.5v3.5M390.8 862.8v-3.5M394.5 708.5v1.8M394.5 862.8v-1.8M398.2 708.5v1.8M398.2 862.8v-1.8M401.9 708.5v1.8M401.9 862.8v-1.8M405.6 708.5v1.8M405.6 862.8v-1.8M409.3 708.5v3.5M409.3 862.8v-3.5M413 708.5v1.8M413 862.8v-1.8M416.7 708.5v1.8M416.7 862.8v-1.8M420.4 708.5v1.8M420.4 862.8v-1.8M424.1 708.5v1.8M424.1 862.8v-1.8M427.8 708.5v3.5M427.8 862.8v-3.5M431.5 708.5v1.8M431.5 862.8v-1.8M435.2 708.5v1.8M435.2 862.8v-1.8M438.9 708.5v1.8M438.9 862.8v-1.8M442.6 708.5v1.8M442.6 862.8v-1.8M446.3 708.5v3.5M446.3 862.8v-3.5" stroke="#000" stroke-width="0.8" fill="none"/>
<path d="M261.4,779.7L265.1,779.7L265.1,759.7L268.8,759.7L268.8,759.7L272.5,759.7L272.5,761.6L276.2,761.6L276.2,762.6L279.9,762.6L279.9,763.6L283.6,763.6L283.6,765.1L287.3,765.1L287.3,766.7L291,766.7L291,768.5L294.7,768.5L294.7,770.7L298.4,770.7L298.4,772.4L302.1,772.4L302.1,774.3L305.8,774.3L305.8,776.2L309.5,776.2L309.5,777.7L313.2,777.7L313.2,779.1L316.9,779.1L316.9,780.9L320.6,780.9L320.6,782L324.3,782L324.3,783.1L328,783.1L328,784.1L331.7,784.1L331.7,785.5L335.4,785.5L335.4,786.4L339.1,786.4L339.1,787L342.8,787L342.8,787.9L346.5,787.9L346.5,788.9L350.2,788.9L350.2,789.4L353.9,789.4L353.9,790.4L357.6,790.4L357.6,791.4L361.3,791.4L361.3,792.6L365,792.6L365,793.7L368.7,793.7L368.7,794.3L372.4,794.3L372.4,795.2L376.1,795.2L376.1,796.2L379.8,796.2L379.8,797.2L383.5,797.2L383.5,798.4L387.1,798.4L387.1,799.6L390.8,799.6L390.8,801L394.5,801L394.5,802.5L398.2,802.5L398.2,802L401.9,802L401.9,806.4L405.6,806.4L405.6,807.9L409.3,807.9L409.3,811.8L413,811.8L413,815.2L416.7,815.2L416.7,819.6L420.4,819.6L420.4,823.5L424.1,823.5L424.1,827.6L427.8,827.6L427.8,832.3L431.5,832.3L431.5,839.3L435.2,839.3L435.2,848.8L438.9,848.8L438.9,841L442.6,841L442.6,865.8L446.3,865.8" fill="none" stroke="#a8a8a8" stroke-width="1.5"  clip-path="url(#cu31)"/>
<path d="M261.4,779.7L265.1,779.7L265.1,759.7L268.8,759.7L268.8,759.7L272.5,759.7L272.5,761.6L276.2,761.6L276.2,762.6L279.9,762.6L279.9,763.6L283.6,763.6L283.6,765.1L287.3,765.1L287.3,766.7L291,766.7L291,768.5L294.7,768.5L294.7,770.7L298.4,770.7L298.4,772.4L302.1,772.4L302.1,774.3L305.8,774.3L305.8,776.2L309.5,776.2L309.5,777.7L313.2,777.7L313.2,779.1L316.9,779.1L316.9,780.9L320.6,780.9L320.6,782L324.3,782L324.3,783.1L328,783.1L328,784.1L331.7,784.1L331.7,785.5L335.4,785.5L335.4,786.4L339.1,786.4L339.1,787L342.8,787L342.8,787.9L346.5,787.9L346.5,788.9L350.2,788.9L350.2,789.4L353.9,789.4L353.9,790.4L357.6,790.4L357.6,791.4L361.3,791.4L361.3,792.6L365,792.6L365,793.7L368.7,793.7L368.7,794.3L372.4,794.3L372.4,795.2L376.1,795.2L376.1,796.2L379.8,796.2L379.8,797.2L383.5,797.2L383.5,798.4L387.1,798.4L387.1,799.6L390.8,799.6L390.8,801L394.5,801L394.5,802.5L398.2,802.5L398.2,802.5L401.9,802.5L401.9,806.4L405.6,806.4L405.6,806.9L409.3,806.9L409.3,811.8L413,811.8L413,813.3L416.7,813.3L416.7,819.6L420.4,819.6L420.4,820L424.1,820L424.1,827.6L427.8,827.6L427.8,832.3L431.5,832.3L431.5,839.3L435.2,839.3L435.2,840.7L438.9,840.7L438.9,844.8L442.6,844.8L442.6,845L446.3,845" fill="none" stroke="#ff5a5a" stroke-width="1.3" stroke-dasharray="2.6 1.7" clip-path="url(#cu31)"/>
<rect x="261.4" y="708.5" width="184.9" height="154.3" fill="none" stroke="#000" stroke-width="0.95"/>
<text x="288.2" y="723.7" font-size="11.5" text-anchor="start" >Old py 8</text>
<line x1="353.6" y1="728.5" x2="368.9" y2="728.5" stroke="#ff5a5a" stroke-width="1.3" stroke-dasharray="2.2 1.6"/>
<text x="371.6" y="723.7" font-size="11.5" text-anchor="start" >New py 8</text>
<text x="288.2" y="738.7" font-size="11.5">2</text>
<text x="297.9" y="738.7" font-size="10" font-style="italic">&#960;</text>
<text x="303.9" y="741.9" font-size="8">D</text>
<text x="312.8" y="738.7" font-size="11.5">decay</text>
<text x="371.6" y="738.7" font-size="11.5">2</text>
<text x="381.3" y="738.7" font-size="10" font-style="italic">&#960;</text>
<text x="387.3" y="741.9" font-size="8">D</text>
<text x="396.1" y="738.7" font-size="11.5">decay</text>
<text transform="translate(239.8,733.8) rotate(-90)" font-size="10.9">N<tspan font-size="7.6" dy="2.6">Jets</tspan></text>
<path d="M271.2 728.5h14.4" stroke="#a8a8a8" stroke-width="1.5" fill="none"/>
<rect x="221.4" y="862.8" width="229.9" height="45.1" fill="#fff"/>
<text x="259.6" y="909.4" font-size="5.9" text-anchor="end" >0.8</text>
<text x="259.6" y="903.8" font-size="5.9" text-anchor="end" >0.85</text>
<text x="259.6" y="898.3" font-size="5.9" text-anchor="end" >0.9</text>
<text x="259.6" y="892.7" font-size="5.9" text-anchor="end" >0.95</text>
<text x="259.6" y="887.1" font-size="5.9" text-anchor="end" >1</text>
<text x="259.6" y="881.6" font-size="5.9" text-anchor="end" >1.05</text>
<text x="259.6" y="876" font-size="5.9" text-anchor="end" >1.1</text>
<text x="259.6" y="870.5" font-size="5.9" text-anchor="end" >1.15</text>
<path d="M262.8 862.8V907.3M445 862.8V907.3" stroke="#8a8a8a" stroke-width="1.6" fill="none"/>
<text x="261.4" y="914.6" font-size="8.9" text-anchor="middle" >0</text>
<text x="279.9" y="914.6" font-size="8.9" text-anchor="middle" >0.05</text>
<text x="298.4" y="914.6" font-size="8.9" text-anchor="middle" >0.1</text>
<text x="316.9" y="914.6" font-size="8.9" text-anchor="middle" >0.15</text>
<text x="335.4" y="914.6" font-size="8.9" text-anchor="middle" >0.2</text>
<text x="353.9" y="914.6" font-size="8.9" text-anchor="middle" >0.25</text>
<text x="372.4" y="914.6" font-size="8.9" text-anchor="middle" >0.3</text>
<text x="390.8" y="914.6" font-size="8.9" text-anchor="middle" >0.35</text>
<text x="409.3" y="914.6" font-size="8.9" text-anchor="middle" >0.4</text>
<text x="427.8" y="914.6" font-size="8.9" text-anchor="middle" >0.45</text>
<text x="446.3" y="914.6" font-size="8.9" text-anchor="middle" >0.5</text>
<line x1="261.4" y1="885.5" x2="446.3" y2="885.5" stroke="#000" stroke-width="0.9" stroke-dasharray="1.4 1.4"/>
<path d="M261.4 907.3h4M446.3 907.3h-4M261.4 901.7h4M446.3 901.7h-4M261.4 896.2h4M446.3 896.2h-4M261.4 890.6h4M446.3 890.6h-4M261.4 885h4M446.3 885h-4M261.4 879.5h4M446.3 879.5h-4M261.4 873.9h4M446.3 873.9h-4M261.4 868.4h4M446.3 868.4h-4M261.4 862.8h4M446.3 862.8h-4M261.4 862.8v2.6M261.4 907.3v-2.6M265.1 862.8v1.4M265.1 907.3v-1.4M268.8 862.8v1.4M268.8 907.3v-1.4M272.5 862.8v1.4M272.5 907.3v-1.4M276.2 862.8v1.4M276.2 907.3v-1.4M279.9 862.8v2.6M279.9 907.3v-2.6M283.6 862.8v1.4M283.6 907.3v-1.4M287.3 862.8v1.4M287.3 907.3v-1.4M291 862.8v1.4M291 907.3v-1.4M294.7 862.8v1.4M294.7 907.3v-1.4M298.4 862.8v2.6M298.4 907.3v-2.6M302.1 862.8v1.4M302.1 907.3v-1.4M305.8 862.8v1.4M305.8 907.3v-1.4M309.5 862.8v1.4M309.5 907.3v-1.4M313.2 862.8v1.4M313.2 907.3v-1.4M316.9 862.8v2.6M316.9 907.3v-2.6M320.6 862.8v1.4M320.6 907.3v-1.4M324.3 862.8v1.4M324.3 907.3v-1.4M328 862.8v1.4M328 907.3v-1.4M331.7 862.8v1.4M331.7 907.3v-1.4M335.4 862.8v2.6M335.4 907.3v-2.6M339.1 862.8v1.4M339.1 907.3v-1.4M342.8 862.8v1.4M342.8 907.3v-1.4M346.5 862.8v1.4M346.5 907.3v-1.4M350.2 862.8v1.4M350.2 907.3v-1.4M353.9 862.8v2.6M353.9 907.3v-2.6M357.6 862.8v1.4M357.6 907.3v-1.4M361.3 862.8v1.4M361.3 907.3v-1.4M365 862.8v1.4M365 907.3v-1.4M368.7 862.8v1.4M368.7 907.3v-1.4M372.4 862.8v2.6M372.4 907.3v-2.6M376.1 862.8v1.4M376.1 907.3v-1.4M379.8 862.8v1.4M379.8 907.3v-1.4M383.5 862.8v1.4M383.5 907.3v-1.4M387.1 862.8v1.4M387.1 907.3v-1.4M390.8 862.8v2.6M390.8 907.3v-2.6M394.5 862.8v1.4M394.5 907.3v-1.4M398.2 862.8v1.4M398.2 907.3v-1.4M401.9 862.8v1.4M401.9 907.3v-1.4M405.6 862.8v1.4M405.6 907.3v-1.4M409.3 862.8v2.6M409.3 907.3v-2.6M413 862.8v1.4M413 907.3v-1.4M416.7 862.8v1.4M416.7 907.3v-1.4M420.4 862.8v1.4M420.4 907.3v-1.4M424.1 862.8v1.4M424.1 907.3v-1.4M427.8 862.8v2.6M427.8 907.3v-2.6M431.5 862.8v1.4M431.5 907.3v-1.4M435.2 862.8v1.4M435.2 907.3v-1.4M438.9 862.8v1.4M438.9 907.3v-1.4M442.6 862.8v1.4M442.6 907.3v-1.4M446.3 862.8v2.6M446.3 907.3v-2.6" stroke="#000" stroke-width="0.8" fill="none"/>
<path d="M363.1 871.4V884.7M374.2 877.5V893.1M377.9 877.5V893.1M385.3 869.1V886.9M389 863.4V881.2M400.1 892.5V906.7M411.2 863.4V882.3M426 873.6V906.7" stroke="#ffb0b0" stroke-width="2" fill="none"/>
<path d="M263.3 881.6V888.3M262.5 881.6h1.6M262.5 888.3h1.6M267 884.9V888.3M266.2 884.9h1.6M266.2 888.3h1.6M270.7 886.1V889.4M269.9 886.1h1.6M269.9 889.4h1.6M274.4 886.7V890.1M273.6 886.7h1.6M273.6 890.1h1.6M278.1 883.3V886.6M277.3 883.3h1.6M277.3 886.6h1.6M281.8 886.4V889.7M281 886.4h1.6M281 889.7h1.6M285.5 884.9V888.3M284.7 884.9h1.6M284.7 888.3h1.6M289.2 883V886.4M288.4 883h1.6M288.4 886.4h1.6M292.9 880.3V883.6M292.1 880.3h1.6M292.1 883.6h1.6M296.6 882.2V885.5M295.8 882.2h1.6M295.8 885.5h1.6M300.3 882.7V887.2M299.5 882.7h1.6M299.5 887.2h1.6M304 882.7V887.2M303.2 882.7h1.6M303.2 887.2h1.6M307.7 882.5V886.9M306.9 882.5h1.6M306.9 886.9h1.6M311.4 882.7V887.2M310.6 882.7h1.6M310.6 887.2h1.6M315.1 874.4V881M314.3 874.4h1.6M314.3 881h1.6M318.8 877.2V883.8M318 877.2h1.6M318 883.8h1.6M322.5 878.2V884.8M321.7 878.2h1.6M321.7 884.8h1.6M326.1 881.7V889.5M325.3 881.7h1.6M325.3 889.5h1.6M329.8 881.7V889.5M329 881.7h1.6M329 889.5h1.6M333.5 877.5V886.4M332.7 877.5h1.6M332.7 886.4h1.6M337.2 872.1V883.3M336.4 872.1h1.6M336.4 883.3h1.6M340.9 874.6V885.7M340.1 874.6h1.6M340.1 885.7h1.6M344.6 883.3V892.2M343.8 883.3h1.6M343.8 892.2h1.6M348.3 880V891.2M347.5 880h1.6M347.5 891.2h1.6M352 877.4V888.5M351.2 877.4h1.6M351.2 888.5h1.6M355.7 867.2V880.6M354.9 867.2h1.6M354.9 880.6h1.6M359.4 863.4V874.7M358.6 874.7h1.6M366.8 877.2V890.5M366 877.2h1.6M366 890.5h1.6M370.5 869.6V885.2M369.7 869.6h1.6M369.7 885.2h1.6M381.6 877.5V893.1M380.8 877.5h1.6M380.8 893.1h1.6M392.7 872.5V892.5M391.9 872.5h1.6M391.9 892.5h1.6M396.4 864.8V887.1M395.6 864.8h1.6M395.6 887.1h1.6M403.8 883.6V905.9M403 883.6h1.6M403 905.9h1.6M407.5 863.4V881.7M406.7 881.7h1.6M418.6 866.1V906.7M417.8 866.1h1.6M433.4 863.4V906.7" stroke="#ff5a5a" stroke-width="1" fill="none"/>
<path d="M261.4 884.9h3.7M265.1 886.6h3.7M268.8 887.7h3.7M272.5 888.4h3.7M276.2 884.9h3.7M279.9 888.1h3.7M283.6 886.6h3.7M287.3 884.7h3.7M291 881.9h3.7M294.7 883.8h3.7M298.4 884.9h3.7M302.1 884.9h3.7M305.8 884.7h3.7M309.5 884.9h3.7M313.2 877.7h3.7M316.9 880.5h3.7M320.6 881.5h3.7M324.3 885.6h3.7M328 885.6h3.7M331.7 881.9h3.7M335.4 877.7h3.7M339.1 880.2h3.7M342.8 887.7h3.7M346.5 885.6h3.7M350.2 882.9h3.7M353.9 873.9h3.7M357.6 868h3.7M361.3 878h3.7M365 883.8h3.7M368.7 877.4h3.7M372.4 885.3h3.7M376.1 885.3h3.7M379.8 885.3h3.7M383.5 878h3.7M387.1 871.1h3.7M390.8 882.5h3.7M394.5 875.9h3.7M398.2 901.4h3.7M401.9 894.7h3.7M405.6 867.2h3.7M409.3 865.6h3.7M416.7 888.4h3.7M424.1 901.4h3.7M431.5 886.4h3.7" stroke="#000" stroke-width="0.9" fill="none"/>
<circle cx="263.3" cy="884.9" r="1.3"/>
<circle cx="267" cy="886.6" r="1.3"/>
<circle cx="270.7" cy="887.7" r="1.3"/>
<circle cx="274.4" cy="888.4" r="1.3"/>
<circle cx="278.1" cy="884.9" r="1.3"/>
<circle cx="281.8" cy="888.1" r="1.3"/>
<circle cx="285.5" cy="886.6" r="1.3"/>
<circle cx="289.2" cy="884.7" r="1.3"/>
<circle cx="292.9" cy="881.9" r="1.3"/>
<circle cx="296.6" cy="883.8" r="1.3"/>
<circle cx="300.3" cy="884.9" r="1.3"/>
<circle cx="304" cy="884.9" r="1.3"/>
<circle cx="307.7" cy="884.7" r="1.3"/>
<circle cx="311.4" cy="884.9" r="1.3"/>
<circle cx="315.1" cy="877.7" r="1.3"/>
<circle cx="318.8" cy="880.5" r="1.3"/>
<circle cx="322.5" cy="881.5" r="1.3"/>
<circle cx="326.1" cy="885.6" r="1.3"/>
<circle cx="329.8" cy="885.6" r="1.3"/>
<circle cx="333.5" cy="881.9" r="1.3"/>
<circle cx="337.2" cy="877.7" r="1.3"/>
<circle cx="340.9" cy="880.2" r="1.3"/>
<circle cx="344.6" cy="887.7" r="1.3"/>
<circle cx="348.3" cy="885.6" r="1.3"/>
<circle cx="352" cy="882.9" r="1.3"/>
<circle cx="355.7" cy="873.9" r="1.3"/>
<circle cx="359.4" cy="868" r="1.3"/>
<circle cx="363.1" cy="878" r="1.3"/>
<circle cx="366.8" cy="883.8" r="1.3"/>
<circle cx="370.5" cy="877.4" r="1.3"/>
<circle cx="374.2" cy="885.3" r="1.3"/>
<circle cx="377.9" cy="885.3" r="1.3"/>
<circle cx="381.6" cy="885.3" r="1.3"/>
<circle cx="385.3" cy="878" r="1.3"/>
<circle cx="389" cy="871.1" r="1.3"/>
<circle cx="392.7" cy="882.5" r="1.3"/>
<circle cx="396.4" cy="875.9" r="1.3"/>
<circle cx="400.1" cy="901.4" r="1.3"/>
<circle cx="403.8" cy="894.7" r="1.3"/>
<circle cx="407.5" cy="867.2" r="1.3"/>
<circle cx="411.2" cy="865.6" r="1.3"/>
<circle cx="418.6" cy="888.4" r="1.3"/>
<circle cx="426" cy="901.4" r="1.3"/>
<circle cx="433.4" cy="886.4" r="1.3"/>
<rect x="261.4" y="862.8" width="184.9" height="44.5" fill="none" stroke="#000" stroke-width="0.95"/>
<text x="446.9" y="926.6" font-size="10.3" text-anchor="end" >Axis major (GenJet, R=0.8)</text>
<text x="488.7" y="865.9" font-size="8.7" text-anchor="end">10<tspan font-size="5.8" dy="-3.6" dx="-0.3">&#8722;</tspan><tspan font-size="5.8" dx="0.2">5</tspan></text>
<text x="488.7" y="839.8" font-size="8.7" text-anchor="end">10<tspan font-size="5.8" dy="-3.6" dx="-0.3">&#8722;</tspan><tspan font-size="5.8" dx="0.2">4</tspan></text>
<text x="488.7" y="813.8" font-size="8.7" text-anchor="end">10<tspan font-size="5.8" dy="-3.6" dx="-0.3">&#8722;</tspan><tspan font-size="5.8" dx="0.2">3</tspan></text>
<text x="488.7" y="787.7" font-size="8.7" text-anchor="end">10<tspan font-size="5.8" dy="-3.6" dx="-0.3">&#8722;</tspan><tspan font-size="5.8" dx="0.2">2</tspan></text>
<text x="488.7" y="761.6" font-size="8.7" text-anchor="end">10<tspan font-size="5.8" dy="-3.6" dx="-0.3">&#8722;</tspan><tspan font-size="5.8" dx="0.2">1</tspan></text>
<text x="488.7" y="735.6" font-size="8.7" text-anchor="end" >1</text>
<path d="M490.1 862.8h6M675.1 862.8h-6M490.1 836.7h6M675.1 836.7h-6M490.1 810.7h6M675.1 810.7h-6M490.1 784.6h6M675.1 784.6h-6M490.1 758.5h6M675.1 758.5h-6M490.1 732.5h6M675.1 732.5h-6" stroke="#000" stroke-width="0.9" fill="none"/>
<path d="M490.1 855h3M675.1 855h-3M490.1 850.4h3M675.1 850.4h-3M490.1 847.1h3M675.1 847.1h-3M490.1 844.6h3M675.1 844.6h-3M490.1 842.5h3M675.1 842.5h-3M490.1 840.8h3M675.1 840.8h-3M490.1 839.3h3M675.1 839.3h-3M490.1 837.9h3M675.1 837.9h-3M490.1 828.9h3M675.1 828.9h-3M490.1 824.3h3M675.1 824.3h-3M490.1 821h3M675.1 821h-3M490.1 818.5h3M675.1 818.5h-3M490.1 816.5h3M675.1 816.5h-3M490.1 814.7h3M675.1 814.7h-3M490.1 813.2h3M675.1 813.2h-3M490.1 811.9h3M675.1 811.9h-3M490.1 802.8h3M675.1 802.8h-3M490.1 798.2h3M675.1 798.2h-3M490.1 795h3M675.1 795h-3M490.1 792.5h3M675.1 792.5h-3M490.1 790.4h3M675.1 790.4h-3M490.1 788.6h3M675.1 788.6h-3M490.1 787.1h3M675.1 787.1h-3M490.1 785.8h3M675.1 785.8h-3M490.1 776.8h3M675.1 776.8h-3M490.1 772.2h3M675.1 772.2h-3M490.1 768.9h3M675.1 768.9h-3M490.1 766.4h3M675.1 766.4h-3M490.1 764.3h3M675.1 764.3h-3M490.1 762.6h3M675.1 762.6h-3M490.1 761.1h3M675.1 761.1h-3M490.1 759.7h3M675.1 759.7h-3M490.1 750.7h3M675.1 750.7h-3M490.1 746.1h3M675.1 746.1h-3M490.1 742.9h3M675.1 742.9h-3M490.1 740.3h3M675.1 740.3h-3M490.1 738.3h3M675.1 738.3h-3M490.1 736.5h3M675.1 736.5h-3M490.1 735h3M675.1 735h-3M490.1 733.7h3M675.1 733.7h-3M490.1 724.6h3M675.1 724.6h-3M490.1 720h3M675.1 720h-3M490.1 716.8h3M675.1 716.8h-3M490.1 714.3h3M675.1 714.3h-3M490.1 712.2h3M675.1 712.2h-3M490.1 710.5h3M675.1 710.5h-3M490.1 708.9h3M675.1 708.9h-3M490.1 708.5v3.5M490.1 862.8v-3.5M493.8 708.5v1.8M493.8 862.8v-1.8M497.5 708.5v1.8M497.5 862.8v-1.8M501.2 708.5v1.8M501.2 862.8v-1.8M504.9 708.5v1.8M504.9 862.8v-1.8M508.6 708.5v3.5M508.6 862.8v-3.5M512.3 708.5v1.8M512.3 862.8v-1.8M516 708.5v1.8M516 862.8v-1.8M519.7 708.5v1.8M519.7 862.8v-1.8M523.4 708.5v1.8M523.4 862.8v-1.8M527.1 708.5v3.5M527.1 862.8v-3.5M530.8 708.5v1.8M530.8 862.8v-1.8M534.5 708.5v1.8M534.5 862.8v-1.8M538.2 708.5v1.8M538.2 862.8v-1.8M541.9 708.5v1.8M541.9 862.8v-1.8M545.6 708.5v3.5M545.6 862.8v-3.5M549.3 708.5v1.8M549.3 862.8v-1.8M553 708.5v1.8M553 862.8v-1.8M556.7 708.5v1.8M556.7 862.8v-1.8M560.4 708.5v1.8M560.4 862.8v-1.8M564.1 708.5v3.5M564.1 862.8v-3.5M567.8 708.5v1.8M567.8 862.8v-1.8M571.5 708.5v1.8M571.5 862.8v-1.8M575.2 708.5v1.8M575.2 862.8v-1.8M578.9 708.5v1.8M578.9 862.8v-1.8M582.6 708.5v3.5M582.6 862.8v-3.5M586.3 708.5v1.8M586.3 862.8v-1.8M590 708.5v1.8M590 862.8v-1.8M593.7 708.5v1.8M593.7 862.8v-1.8M597.4 708.5v1.8M597.4 862.8v-1.8M601.1 708.5v3.5M601.1 862.8v-3.5M604.8 708.5v1.8M604.8 862.8v-1.8M608.5 708.5v1.8M608.5 862.8v-1.8M612.2 708.5v1.8M612.2 862.8v-1.8M615.9 708.5v1.8M615.9 862.8v-1.8M619.6 708.5v3.5M619.6 862.8v-3.5M623.3 708.5v1.8M623.3 862.8v-1.8M627 708.5v1.8M627 862.8v-1.8M630.7 708.5v1.8M630.7 862.8v-1.8M634.4 708.5v1.8M634.4 862.8v-1.8M638.1 708.5v3.5M638.1 862.8v-3.5M641.8 708.5v1.8M641.8 862.8v-1.8M645.5 708.5v1.8M645.5 862.8v-1.8M649.2 708.5v1.8M649.2 862.8v-1.8M652.9 708.5v1.8M652.9 862.8v-1.8M656.6 708.5v3.5M656.6 862.8v-3.5M660.3 708.5v1.8M660.3 862.8v-1.8M664 708.5v1.8M664 862.8v-1.8M667.7 708.5v1.8M667.7 862.8v-1.8M671.4 708.5v1.8M671.4 862.8v-1.8M675.1 708.5v3.5M675.1 862.8v-3.5" stroke="#000" stroke-width="0.8" fill="none"/>
<path d="M490.1,783.8L493.8,783.8L493.8,763.4L497.5,763.4L497.5,761.9L501.2,761.9L501.2,761.3L504.9,761.3L504.9,760.9L508.6,760.9L508.6,760.7L512.3,760.7L512.3,761.2L516,761.2L516,762.2L519.7,762.2L519.7,763.6L523.4,763.6L523.4,765.1L527.1,765.1L527.1,767L530.8,767L530.8,768.8L534.5,768.8L534.5,770.7L538.2,770.7L538.2,772.4L541.9,772.4L541.9,773.9L545.6,773.9L545.6,775.3L549.3,775.3L549.3,776.8L553,776.8L553,778L556.7,778L556.7,779.4L560.4,779.4L560.4,780.6L564.1,780.6L564.1,781.6L567.8,781.6L567.8,783.1L571.5,783.1L571.5,784.1L575.2,784.1L575.2,785.3L578.9,785.3L578.9,786.4L582.6,786.4L582.6,787.4L586.3,787.4L586.3,788.5L590,788.5L590,789.6L593.7,789.6L593.7,790.7L597.4,790.7L597.4,791.8L601.1,791.8L601.1,792.8L604.8,792.8L604.8,794L608.5,794L608.5,794.7L612.2,794.7L612.2,795.5L615.9,795.5L615.9,796.9L619.6,796.9L619.6,798.4L623.3,798.4L623.3,799.6L627,799.6L627,801L630.7,801L630.7,804.2L634.4,804.2L634.4,806.4L638.1,806.4L638.1,809.8L641.8,809.8L641.8,814.2L645.5,814.2L645.5,816.2L649.2,816.2L649.2,821L652.9,821L652.9,824.4L656.6,824.4L656.6,831.7L660.3,831.7L660.3,839.3L664,839.3L664,837.1L667.7,837.1L667.7,845.1L671.4,845.1L671.4,848L675.1,848" fill="none" stroke="#a8a8a8" stroke-width="1.5"  clip-path="url(#cu32)"/>
<path d="M490.1,783.8L493.8,783.8L493.8,763.4L497.5,763.4L497.5,761.9L501.2,761.9L501.2,761.3L504.9,761.3L504.9,760.9L508.6,760.9L508.6,760.7L512.3,760.7L512.3,761.2L516,761.2L516,762.2L519.7,762.2L519.7,763.6L523.4,763.6L523.4,765.1L527.1,765.1L527.1,767L530.8,767L530.8,768.8L534.5,768.8L534.5,770.7L538.2,770.7L538.2,772.4L541.9,772.4L541.9,773.9L545.6,773.9L545.6,775.3L549.3,775.3L549.3,776.8L553,776.8L553,778L556.7,778L556.7,779.4L560.4,779.4L560.4,780.6L564.1,780.6L564.1,781.6L567.8,781.6L567.8,783.1L571.5,783.1L571.5,784.1L575.2,784.1L575.2,785.3L578.9,785.3L578.9,786.4L582.6,786.4L582.6,787.4L586.3,787.4L586.3,788.5L590,788.5L590,789.6L593.7,789.6L593.7,790.7L597.4,790.7L597.4,791.8L601.1,791.8L601.1,792.8L604.8,792.8L604.8,794L608.5,794L608.5,794.7L612.2,794.7L612.2,795.5L615.9,795.5L615.9,796.9L619.6,796.9L619.6,798.4L623.3,798.4L623.3,799.6L627,799.6L627,801L630.7,801L630.7,803.5L634.4,803.5L634.4,805.7L638.1,805.7L638.1,809.8L641.8,809.8L641.8,814.2L645.5,814.2L645.5,816.2L649.2,816.2L649.2,821L652.9,821L652.9,824.4L656.6,824.4L656.6,831.7L660.3,831.7L660.3,835.2L664,835.2L664,838.5L667.7,838.5L667.7,841L671.4,841L671.4,844.8L675.1,844.8" fill="none" stroke="#3399ff" stroke-width="1.3" stroke-dasharray="2.6 1.7" clip-path="url(#cu32)"/>
<rect x="490.1" y="708.5" width="185" height="154.3" fill="none" stroke="#000" stroke-width="0.95"/>
<text x="516.9" y="723.7" font-size="11.5" text-anchor="start" >Old py 8</text>
<line x1="582.3" y1="728.5" x2="597.5" y2="728.5" stroke="#3399ff" stroke-width="1.3" stroke-dasharray="2.2 1.6"/>
<text x="600.3" y="723.7" font-size="11.5" text-anchor="start" >New py 8</text>
<text x="516.9" y="738.7" font-size="11.5">3</text>
<text x="526.6" y="738.7" font-size="10" font-style="italic">&#960;</text>
<text x="532.6" y="741.9" font-size="8">D</text>
<text x="541.4" y="738.7" font-size="11.5">decay</text>
<text x="600.3" y="738.7" font-size="11.5">3</text>
<text x="610" y="738.7" font-size="10" font-style="italic">&#960;</text>
<text x="616" y="741.9" font-size="8">D</text>
<text x="624.8" y="738.7" font-size="11.5">decay</text>
<text transform="translate(468.4,733.8) rotate(-90)" font-size="10.9">N<tspan font-size="7.6" dy="2.6">Jets</tspan></text>
<path d="M499.9 728.5h14.4" stroke="#a8a8a8" stroke-width="1.5" fill="none"/>
<rect x="450.1" y="862.8" width="230" height="45.1" fill="#fff"/>
<text x="488.3" y="909.4" font-size="5.9" text-anchor="end" >0.8</text>
<text x="488.3" y="903.8" font-size="5.9" text-anchor="end" >0.85</text>
<text x="488.3" y="898.3" font-size="5.9" text-anchor="end" >0.9</text>
<text x="488.3" y="892.7" font-size="5.9" text-anchor="end" >0.95</text>
<text x="488.3" y="887.1" font-size="5.9" text-anchor="end" >1</text>
<text x="488.3" y="881.6" font-size="5.9" text-anchor="end" >1.05</text>
<text x="488.3" y="876" font-size="5.9" text-anchor="end" >1.1</text>
<text x="488.3" y="870.5" font-size="5.9" text-anchor="end" >1.15</text>
<path d="M491.4 862.8V907.3M673.8 862.8V907.3" stroke="#8a8a8a" stroke-width="1.6" fill="none"/>
<text x="490.1" y="914.6" font-size="8.9" text-anchor="middle" >0</text>
<text x="508.6" y="914.6" font-size="8.9" text-anchor="middle" >0.05</text>
<text x="527.1" y="914.6" font-size="8.9" text-anchor="middle" >0.1</text>
<text x="545.6" y="914.6" font-size="8.9" text-anchor="middle" >0.15</text>
<text x="564.1" y="914.6" font-size="8.9" text-anchor="middle" >0.2</text>
<text x="582.6" y="914.6" font-size="8.9" text-anchor="middle" >0.25</text>
<text x="601.1" y="914.6" font-size="8.9" text-anchor="middle" >0.3</text>
<text x="619.6" y="914.6" font-size="8.9" text-anchor="middle" >0.35</text>
<text x="638.1" y="914.6" font-size="8.9" text-anchor="middle" >0.4</text>
<text x="656.6" y="914.6" font-size="8.9" text-anchor="middle" >0.45</text>
<text x="675.1" y="914.6" font-size="8.9" text-anchor="middle" >0.5</text>
<line x1="490.1" y1="885.5" x2="675.1" y2="885.5" stroke="#000" stroke-width="0.9" stroke-dasharray="1.4 1.4"/>
<path d="M490.1 907.3h4M675.1 907.3h-4M490.1 901.7h4M675.1 901.7h-4M490.1 896.2h4M675.1 896.2h-4M490.1 890.6h4M675.1 890.6h-4M490.1 885h4M675.1 885h-4M490.1 879.5h4M675.1 879.5h-4M490.1 873.9h4M675.1 873.9h-4M490.1 868.4h4M675.1 868.4h-4M490.1 862.8h4M675.1 862.8h-4M490.1 862.8v2.6M490.1 907.3v-2.6M493.8 862.8v1.4M493.8 907.3v-1.4M497.5 862.8v1.4M497.5 907.3v-1.4M501.2 862.8v1.4M501.2 907.3v-1.4M504.9 862.8v1.4M504.9 907.3v-1.4M508.6 862.8v2.6M508.6 907.3v-2.6M512.3 862.8v1.4M512.3 907.3v-1.4M516 862.8v1.4M516 907.3v-1.4M519.7 862.8v1.4M519.7 907.3v-1.4M523.4 862.8v1.4M523.4 907.3v-1.4M527.1 862.8v2.6M527.1 907.3v-2.6M530.8 862.8v1.4M530.8 907.3v-1.4M534.5 862.8v1.4M534.5 907.3v-1.4M538.2 862.8v1.4M538.2 907.3v-1.4M541.9 862.8v1.4M541.9 907.3v-1.4M545.6 862.8v2.6M545.6 907.3v-2.6M549.3 862.8v1.4M549.3 907.3v-1.4M553 862.8v1.4M553 907.3v-1.4M556.7 862.8v1.4M556.7 907.3v-1.4M560.4 862.8v1.4M560.4 907.3v-1.4M564.1 862.8v2.6M564.1 907.3v-2.6M567.8 862.8v1.4M567.8 907.3v-1.4M571.5 862.8v1.4M571.5 907.3v-1.4M575.2 862.8v1.4M575.2 907.3v-1.4M578.9 862.8v1.4M578.9 907.3v-1.4M582.6 862.8v2.6M582.6 907.3v-2.6M586.3 862.8v1.4M586.3 907.3v-1.4M590 862.8v1.4M590 907.3v-1.4M593.7 862.8v1.4M593.7 907.3v-1.4M597.4 862.8v1.4M597.4 907.3v-1.4M601.1 862.8v2.6M601.1 907.3v-2.6M604.8 862.8v1.4M604.8 907.3v-1.4M608.5 862.8v1.4M608.5 907.3v-1.4M612.2 862.8v1.4M612.2 907.3v-1.4M615.9 862.8v1.4M615.9 907.3v-1.4M619.6 862.8v2.6M619.6 907.3v-2.6M623.3 862.8v1.4M623.3 907.3v-1.4M627 862.8v1.4M627 907.3v-1.4M630.7 862.8v1.4M630.7 907.3v-1.4M634.4 862.8v1.4M634.4 907.3v-1.4M638.1 862.8v2.6M638.1 907.3v-2.6M641.8 862.8v1.4M641.8 907.3v-1.4M645.5 862.8v1.4M645.5 907.3v-1.4M649.2 862.8v1.4M649.2 907.3v-1.4M652.9 862.8v1.4M652.9 907.3v-1.4M656.6 862.8v2.6M656.6 907.3v-2.6M660.3 862.8v1.4M660.3 907.3v-1.4M664 862.8v1.4M664 907.3v-1.4M667.7 862.8v1.4M667.7 907.3v-1.4M671.4 862.8v1.4M671.4 907.3v-1.4M675.1 862.8v2.6M675.1 907.3v-2.6" stroke="#000" stroke-width="0.8" fill="none"/>
<path d="M603 864.8V875.9M625.2 876.9V892.5M636.2 864.8V887.1M640 863.4V883M651.1 863.4V898.7" stroke="#a8d0ff" stroke-width="2" fill="none"/>
<path d="M492 875.3V884.2M491.2 875.3h1.6M491.2 884.2h1.6M495.7 883.3V886.6M494.9 883.3h1.6M494.9 886.6h1.6M499.4 887.5V890.8M498.6 887.5h1.6M498.6 890.8h1.6M503.1 885.4V888.7M502.2 885.4h1.6M502.2 888.7h1.6M506.8 885.4V888.7M505.9 885.4h1.6M505.9 888.7h1.6M510.5 884.7V888.1M509.7 884.7h1.6M509.7 888.1h1.6M514.1 884.9V888.3M513.4 884.9h1.6M513.4 888.3h1.6M517.9 884.7V888.1M517.1 884.7h1.6M517.1 888.1h1.6M521.6 886.1V889.4M520.8 886.1h1.6M520.8 889.4h1.6M525.2 883.3V886.6M524.5 883.3h1.6M524.5 886.6h1.6M529 883.3V886.6M528.2 883.3h1.6M528.2 886.6h1.6M532.6 885.5V889.9M531.9 885.5h1.6M531.9 889.9h1.6M536.4 879.3V883.7M535.6 879.3h1.6M535.6 883.7h1.6M540.1 881.6V886.1M539.3 881.6h1.6M539.3 886.1h1.6M543.8 879.7V884.2M543 879.7h1.6M543 884.2h1.6M547.5 879.2V884.7M546.7 879.2h1.6M546.7 884.7h1.6M551.1 882.2V887.7M550.4 882.2h1.6M550.4 887.7h1.6M554.9 876.8V883.5M554.1 876.8h1.6M554.1 883.5h1.6M558.6 879.2V885.8M557.8 879.2h1.6M557.8 885.8h1.6M562.2 877.2V883.8M561.5 877.2h1.6M561.5 883.8h1.6M566 879V886.8M565.2 879h1.6M565.2 886.8h1.6M569.6 872.9V881.8M568.9 872.9h1.6M568.9 881.8h1.6M573.4 877V885.9M572.6 877h1.6M572.6 885.9h1.6M577.1 873.6V882.5M576.3 873.6h1.6M576.3 882.5h1.6M580.8 879.9V889.9M580 879.9h1.6M580 889.9h1.6M584.5 867.4V876.3M583.7 867.4h1.6M583.7 876.3h1.6M588.2 875.3V884.2M587.4 875.3h1.6M587.4 884.2h1.6M591.9 877V885.9M591.1 877h1.6M591.1 885.9h1.6M595.6 880.5V889.4M594.8 880.5h1.6M594.8 889.4h1.6M599.2 876.4V887.5M598.5 876.4h1.6M598.5 887.5h1.6M606.7 866V879.4M605.9 866h1.6M605.9 879.4h1.6M610.4 875.3V888.6M609.6 875.3h1.6M609.6 888.6h1.6M614.1 885.6V896.7M613.3 885.6h1.6M613.3 896.7h1.6M617.8 864.9V880.5M617 864.9h1.6M617 880.5h1.6M621.5 865.7V881.3M620.7 865.7h1.6M620.7 881.3h1.6M628.9 876.9V892.5M628.1 876.9h1.6M628.1 892.5h1.6M632.6 863.4V876M631.8 876h1.6M643.7 863.4V890.2M642.9 890.2h1.6M647.4 863.4V895.4M646.6 895.4h1.6M654.8 869.7V906.7M654 869.7h1.6M658.5 863.4V906.7" stroke="#3399ff" stroke-width="1" fill="none"/>
<path d="M490.1 879.7h3.7M493.8 884.9h3.7M497.5 889.2h3.7M501.2 887.1h3.7M504.9 887.1h3.7M508.6 886.4h3.7M512.3 886.6h3.7M516 886.4h3.7M519.7 887.7h3.7M523.4 884.9h3.7M527.1 884.9h3.7M530.8 887.7h3.7M534.5 881.5h3.7M538.2 883.8h3.7M541.9 881.9h3.7M545.6 881.9h3.7M549.3 884.9h3.7M553 880.2h3.7M556.7 882.5h3.7M560.4 880.5h3.7M564.1 882.9h3.7M567.8 877.4h3.7M571.5 881.5h3.7M575.2 878h3.7M578.9 884.9h3.7M582.6 871.8h3.7M586.3 879.7h3.7M590 881.5h3.7M593.7 884.9h3.7M597.4 881.9h3.7M601.1 870.4h3.7M604.8 872.7h3.7M608.5 881.9h3.7M612.2 891.2h3.7M615.9 872.7h3.7M619.6 873.5h3.7M623.3 884.7h3.7M627 884.7h3.7M630.7 864.9h3.7M634.4 875.9h3.7M638.1 869.7h3.7M641.8 874.6h3.7M645.5 878.7h3.7M649.2 878.7h3.7M652.9 891.9h3.7M656.6 888.2h3.7" stroke="#000" stroke-width="0.9" fill="none"/>
<circle cx="492" cy="879.7" r="1.3"/>
<circle cx="495.7" cy="884.9" r="1.3"/>
<circle cx="499.4" cy="889.2" r="1.3"/>
<circle cx="503.1" cy="887.1" r="1.3"/>
<circle cx="506.8" cy="887.1" r="1.3"/>
<circle cx="510.5" cy="886.4" r="1.3"/>
<circle cx="514.1" cy="886.6" r="1.3"/>
<circle cx="517.9" cy="886.4" r="1.3"/>
<circle cx="521.6" cy="887.7" r="1.3"/>
<circle cx="525.2" cy="884.9" r="1.3"/>
<circle cx="529" cy="884.9" r="1.3"/>
<circle cx="532.6" cy="887.7" r="1.3"/>
<circle cx="536.4" cy="881.5" r="1.3"/>
<circle cx="540.1" cy="883.8" r="1.3"/>
<circle cx="543.8" cy="881.9" r="1.3"/>
<circle cx="547.5" cy="881.9" r="1.3"/>
<circle cx="551.1" cy="884.9" r="1.3"/>
<circle cx="554.9" cy="880.2" r="1.3"/>
<circle cx="558.6" cy="882.5" r="1.3"/>
<circle cx="562.2" cy="880.5" r="1.3"/>
<circle cx="566" cy="882.9" r="1.3"/>
<circle cx="569.6" cy="877.4" r="1.3"/>
<circle cx="573.4" cy="881.5" r="1.3"/>
<circle cx="577.1" cy="878" r="1.3"/>
<circle cx="580.8" cy="884.9" r="1.3"/>
<circle cx="584.5" cy="871.8" r="1.3"/>
<circle cx="588.2" cy="879.7" r="1.3"/>
<circle cx="591.9" cy="881.5" r="1.3"/>
<circle cx="595.6" cy="884.9" r="1.3"/>
<circle cx="599.2" cy="881.9" r="1.3"/>
<circle cx="603" cy="870.4" r="1.3"/>
<circle cx="606.7" cy="872.7" r="1.3"/>
<circle cx="610.4" cy="881.9" r="1.3"/>
<circle cx="614.1" cy="891.2" r="1.3"/>
<circle cx="617.8" cy="872.7" r="1.3"/>
<circle cx="621.5" cy="873.5" r="1.3"/>
<circle cx="625.2" cy="884.7" r="1.3"/>
<circle cx="628.9" cy="884.7" r="1.3"/>
<circle cx="632.6" cy="864.9" r="1.3"/>
<circle cx="636.2" cy="875.9" r="1.3"/>
<circle cx="640" cy="869.7" r="1.3"/>
<circle cx="643.7" cy="874.6" r="1.3"/>
<circle cx="647.4" cy="878.7" r="1.3"/>
<circle cx="651.1" cy="878.7" r="1.3"/>
<circle cx="654.8" cy="891.9" r="1.3"/>
<circle cx="658.5" cy="888.2" r="1.3"/>
<rect x="490.1" y="862.8" width="185" height="44.5" fill="none" stroke="#000" stroke-width="0.95"/>
<text x="675.7" y="926.6" font-size="10.3" text-anchor="end" >Axis major (GenJet, R=0.8)</text>
</svg></body></html>
